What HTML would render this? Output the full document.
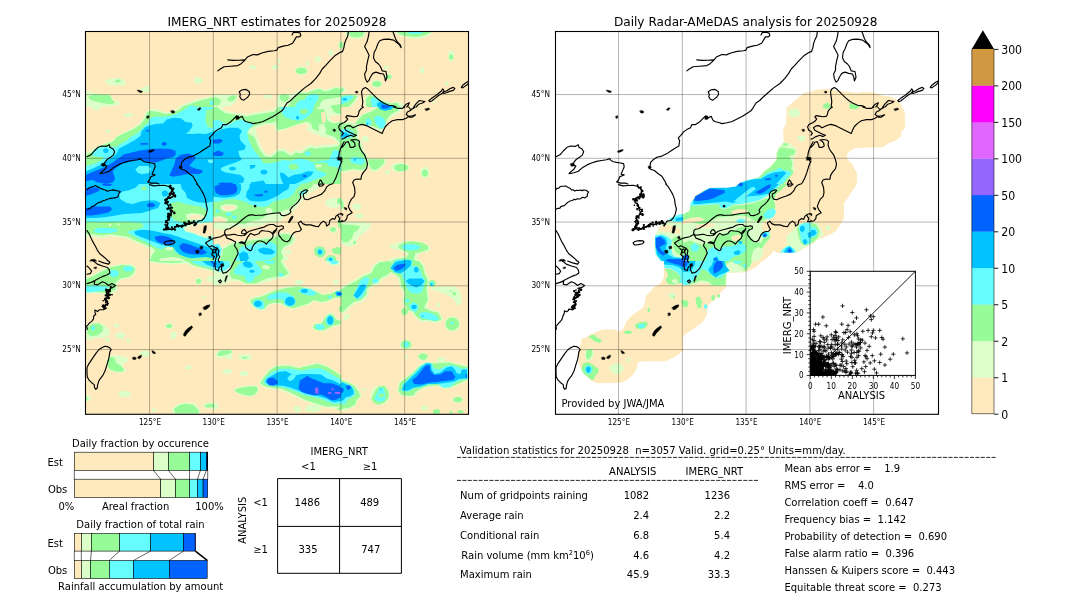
<!DOCTYPE html>
<html lang="en"><head><meta charset="utf-8"><title>IMERG_NRT validation 20250928</title>
<style>
html,body{margin:0;padding:0;background:#fff}
svg{display:block}
text{font-family:"DejaVu Sans", "Liberation Sans", sans-serif;fill:#000}
.grid{stroke:#000;stroke-opacity:.33;stroke-width:.9;fill:none}
.coast{fill:none;stroke:#000;stroke-width:1.15;stroke-linejoin:round;stroke-linecap:round}
.bar{stroke:#000;stroke-width:.6}
.cn{stroke:#000;stroke-width:.6;fill:none}
</style></head><body>
<svg width="1080" height="612" viewBox="0 0 1080 612">
<rect width="1080" height="612" fill="#fff"/>
<clipPath id="clipL"><rect x="85.5" y="31.5" width="383.0" height="382.8"/></clipPath>
<clipPath id="clipR"><rect x="555.5" y="31.5" width="383.0" height="382.8"/></clipPath>
<rect x="85.5" y="31.5" width="383.0" height="382.8" fill="#ffeabd"/>
<g clip-path="url(#clipL)">
<clipPath id="clipLt0"><rect x="85" y="30" width="128" height="77"/></clipPath>
<g clip-path="url(#clipLt0)">
<path fill="#dcfec9" d="M105.1,80.3 110.2,78.4 119.0,77.8 124.0,80.3 126.5,83.5 122.7,85.4 115.2,85.4 108.9,84.7 105.8,82.8ZM202.4,80.6 202.0,82.1 200.8,83.3 199.2,84.0 197.3,84.0 195.6,83.3 194.5,82.1 194.1,80.6 194.5,79.1 195.6,77.8 197.3,77.1 199.2,77.1 200.8,77.8 202.0,79.1ZM140.4,89.1 145.4,86.6 149.5,86.0 149.5,91.7 144.1,91.9 141.0,91.0ZM85.0,90.4 90.0,91.7 97.6,93.5 110.2,94.4 113.9,100.5 120.2,102.3 117.7,105.5 103.9,107.0 85.0,107.0ZM178.1,107.0 185.7,103.0 195.7,99.8 205.8,97.3 213.0,95.4 213.0,107.0Z"/>
<path fill="#97fc97" d="M114.6,81.6 117.1,79.3 120.9,80.1 120.2,81.8 116.5,82.8ZM88.8,96.1 95.1,94.4 110.2,95.2 112.1,99.8 115.2,102.3 111.4,104.2 101.4,103.0 92.5,100.5 88.8,98.6ZM180.6,107.0 189.4,104.2 198.2,101.1 205.8,99.2 213.0,97.3 213.0,107.0Z"/>
<path fill="#64fcff" d="M185.7,107.0 191.9,105.5 197.0,107.0ZM209.6,101.7 213.0,100.5 213.0,105.5 210.2,104.2Z"/>
</g>
<clipPath id="clipLt1"><rect x="213" y="30" width="128" height="77"/></clipPath>
<g clip-path="url(#clipLt1)">
<path fill="#dcfec9" d="M256.4,67.1 256.0,67.9 255.0,68.6 253.5,69.0 251.8,69.0 250.3,68.6 249.2,67.9 248.9,67.1 249.2,66.3 250.3,65.6 251.8,65.3 253.5,65.3 255.0,65.6 256.0,66.3ZM278.4,67.1 278.1,68.2 277.2,69.1 276.0,69.6 274.6,69.6 273.3,69.1 272.4,68.2 272.1,67.1 272.4,66.0 273.3,65.1 274.6,64.7 276.0,64.7 277.2,65.1 278.1,66.0ZM280.9,61.5 280.8,62.3 280.2,62.9 279.5,63.3 278.6,63.3 277.9,62.9 277.4,62.3 277.2,61.5 277.4,60.6 277.9,60.0 278.6,59.6 279.5,59.6 280.2,60.0 280.8,60.6ZM308.2,70.9 307.6,72.8 305.6,74.3 302.9,75.2 299.8,75.2 297.0,74.3 295.1,72.8 294.4,70.9 295.1,69.0 297.0,67.4 299.8,66.6 302.9,66.6 305.6,67.4 307.6,69.0ZM321.2,59.2 320.9,60.4 320.0,61.4 318.8,61.9 317.4,61.9 316.1,61.4 315.2,60.4 314.9,59.2 315.2,58.0 316.1,57.0 317.4,56.5 318.8,56.5 320.0,57.0 320.9,58.0ZM308.9,63.3 308.7,64.7 308.3,65.8 307.7,66.4 307.0,66.4 306.4,65.8 306.0,64.7 305.9,63.3 306.0,62.0 306.4,60.9 307.0,60.3 307.7,60.3 308.3,60.9 308.7,62.0ZM333.7,52.9 333.4,54.1 332.6,55.1 331.5,55.6 330.3,55.6 329.2,55.1 328.4,54.1 328.1,52.9 328.4,51.7 329.2,50.7 330.3,50.2 331.5,50.2 332.6,50.7 333.4,51.7ZM342.6,45.1 342.4,47.0 341.7,48.5 340.8,49.4 339.8,49.4 338.9,48.5 338.3,47.0 338.1,45.1 338.3,43.2 338.9,41.7 339.8,40.8 340.8,40.8 341.7,41.7 342.4,43.2ZM213.0,94.4 237.5,94.2 238.2,97.9 235.6,102.3 231.9,105.5 225.6,107.0 213.0,107.0ZM272.5,96.7 272.0,97.6 270.7,98.3 268.8,98.6 266.7,98.6 264.7,98.3 263.4,97.6 262.9,96.7 263.4,95.8 264.7,95.1 266.7,94.7 268.8,94.7 270.7,95.1 272.0,95.8ZM277.8,94.2 291.0,93.5 293.5,95.4 288.5,103.0 283.5,107.0 275.9,107.0 276.5,100.5ZM283.5,107.0 289.7,100.5 293.5,92.9 298.6,90.4 306.1,91.7 313.7,88.5 319.9,87.9 326.2,89.8 332.5,87.2 338.8,86.6 341.0,87.9 341.0,107.0Z"/>
<path fill="#97fc97" d="M307.0,70.9 306.4,72.3 304.9,73.3 302.6,74.0 300.1,74.0 297.8,73.3 296.2,72.3 295.7,70.9 296.2,69.5 297.8,68.4 300.1,67.8 302.6,67.8 304.9,68.4 306.4,69.5ZM341.8,45.1 341.7,46.5 341.4,47.7 340.9,48.3 340.3,48.3 339.8,47.7 339.4,46.5 339.3,45.1 339.4,43.7 339.8,42.5 340.3,41.9 340.9,41.9 341.4,42.5 341.7,43.7ZM213.0,97.3 218.0,97.9 221.2,100.5 219.3,104.9 213.0,105.5ZM227.5,97.9 231.9,95.2 236.3,96.1 235.6,99.2 230.6,101.5 227.8,100.2ZM279.7,95.4 283.5,94.2 288.5,94.8 289.1,98.6 286.0,101.7 281.6,101.1 279.7,98.6ZM287.2,107.0 293.5,97.9 299.8,92.9 306.1,92.9 313.7,90.4 319.9,89.1 325.0,91.7 330.0,90.4 333.8,88.5 338.8,88.1 341.0,90.4 341.0,96.7 333.8,97.9 326.2,99.2 322.5,100.5 319.9,104.2 319.9,107.0ZM330.0,107.0 332.5,104.9 341.0,104.2 341.0,107.0Z"/>
<path fill="#64fcff" d="M294.8,107.0 296.7,103.0 299.8,100.5 304.8,99.8 306.7,96.1 312.4,94.2 318.1,94.8 318.7,98.6 315.5,103.0 313.7,107.0Z"/>
<path fill="#00c3ff" d="M310.8,99.2 310.7,99.5 310.5,99.7 310.3,99.8 310.0,99.8 309.7,99.7 309.6,99.5 309.5,99.2 309.6,98.9 309.7,98.7 310.0,98.6 310.3,98.6 310.5,98.7 310.7,98.9Z"/>
</g>
<clipPath id="clipLt2"><rect x="341" y="30" width="128" height="77"/></clipPath>
<g clip-path="url(#clipLt2)">
<path fill="#dcfec9" d="M344.8,31.9 366.2,31.9 364.3,36.9 358.6,39.1 351.1,38.2 346.0,35.7ZM393.8,31.9 432.8,31.9 427.8,36.3 419.0,38.6 408.9,38.2 400.1,35.7ZM454.2,55.8 453.9,58.2 453.1,60.2 451.8,61.3 450.4,61.3 449.1,60.2 448.3,58.2 447.9,55.8 448.3,53.3 449.1,51.4 450.4,50.3 451.8,50.3 453.1,51.4 453.9,53.3ZM424.4,70.3 424.2,71.5 423.6,72.4 422.7,73.0 421.6,73.0 420.7,72.4 420.1,71.5 419.9,70.3 420.1,69.1 420.7,68.1 421.6,67.6 422.7,67.6 423.6,68.1 424.2,69.1ZM392.6,76.6 392.1,77.9 390.9,79.0 389.2,79.6 387.2,79.6 385.4,79.0 384.2,77.9 383.8,76.6 384.2,75.2 385.4,74.1 387.2,73.5 389.2,73.5 390.9,74.1 392.1,75.2ZM388.8,67.5 388.6,68.3 387.9,68.9 386.9,69.2 385.7,69.2 384.7,68.9 384.0,68.3 383.8,67.5 384.0,66.7 384.7,66.1 385.7,65.8 386.9,65.8 387.9,66.1 388.6,66.7ZM382.5,83.9 382.0,85.6 380.4,87.0 378.1,87.8 375.6,87.8 373.3,87.0 371.8,85.6 371.2,83.9 371.8,82.1 373.3,80.7 375.6,79.9 378.1,79.9 380.4,80.7 382.0,82.1ZM449.0,83.5 448.7,84.2 448.1,84.8 447.2,85.2 446.2,85.2 445.3,84.8 444.6,84.2 444.4,83.5 444.6,82.7 445.3,82.1 446.2,81.8 447.2,81.8 448.1,82.1 448.7,82.7ZM345.5,89.8 345.2,91.1 344.2,92.1 342.8,92.7 341.2,92.7 339.8,92.1 338.8,91.1 338.5,89.8 338.8,88.5 339.8,87.4 341.2,86.8 342.8,86.8 344.2,87.4 345.2,88.5ZM341.0,94.2 352.3,93.5 358.6,95.4 357.4,100.5 351.1,107.0 341.0,107.0ZM364.3,97.9 368.1,94.2 373.7,94.8 382.5,99.8 391.3,103.0 400.1,101.7 403.9,105.5 403.9,107.0 364.9,107.0ZM435.9,102.0 435.7,102.6 435.3,103.1 434.7,103.4 434.0,103.4 433.4,103.1 433.0,102.6 432.8,102.0 433.0,101.3 433.4,100.8 434.0,100.5 434.7,100.5 435.3,100.8 435.7,101.3Z"/>
<path fill="#97fc97" d="M347.3,31.9 364.3,31.9 362.4,36.3 357.4,37.5 351.1,36.5ZM341.0,42.0 343.5,42.6 342.9,47.6 341.0,48.9ZM397.0,31.9 431.0,31.9 425.3,35.3 416.5,36.9 407.7,36.3 400.1,34.4ZM453.4,57.1 453.1,58.3 452.5,59.2 451.6,59.7 450.6,59.7 449.7,59.2 449.1,58.3 448.8,57.1 449.1,55.8 449.7,54.9 450.6,54.4 451.6,54.4 452.5,54.9 453.1,55.8ZM391.6,76.8 391.3,77.7 390.5,78.5 389.4,78.9 388.2,78.9 387.1,78.5 386.3,77.7 386.0,76.8 386.3,75.9 387.1,75.1 388.2,74.7 389.4,74.7 390.5,75.1 391.3,75.9ZM381.4,83.9 380.9,85.2 379.7,86.2 377.9,86.8 375.9,86.8 374.0,86.2 372.8,85.2 372.3,83.9 372.8,82.5 374.0,81.5 375.9,80.9 377.9,80.9 379.7,81.5 380.9,82.5ZM343.9,89.8 343.7,90.6 343.0,91.3 342.1,91.7 341.1,91.7 340.2,91.3 339.6,90.6 339.4,89.8 339.6,88.9 340.2,88.2 341.1,87.8 342.1,87.8 343.0,88.2 343.7,88.9ZM341.0,95.4 351.1,94.4 357.4,96.1 354.8,100.5 348.5,107.0 341.0,107.0ZM366.2,98.6 369.3,95.4 373.7,96.1 381.3,100.5 390.1,103.6 397.6,102.7 400.1,107.0 366.2,107.0Z"/>
<path fill="#64fcff" d="M406.4,31.9 424.0,31.9 420.3,33.5 412.7,34.0 408.3,33.1ZM341.0,97.3 347.3,95.4 353.6,95.7 352.3,98.6 347.3,102.3 341.0,104.2ZM370.6,100.5 372.5,96.7 377.5,99.2 383.8,103.0 391.3,104.9 395.1,107.0 372.5,107.0Z"/>
<path fill="#00c3ff" d="M347.0,99.2 346.8,99.7 346.2,100.2 345.3,100.4 344.3,100.4 343.4,100.2 342.7,99.7 342.5,99.2 342.7,98.7 343.4,98.2 344.3,98.0 345.3,98.0 346.2,98.2 346.8,98.7ZM377.5,107.0 376.9,103.6 380.0,101.7 385.0,104.2 391.3,105.5 395.1,107.0Z"/>
<path fill="#0063ff" d="M381.3,107.0 381.9,104.2 385.0,104.9 389.4,106.1 391.3,107.0Z"/>
</g>
<clipPath id="clipLt3"><rect x="85" y="107" width="128" height="77"/></clipPath>
<g clip-path="url(#clipLt3)">
<path fill="#dcfec9" d="M85.0,153.6 90.0,151.0 96.3,146.6 103.9,143.5 110.2,141.0 116.5,136.6 122.7,132.8 131.6,128.4 139.1,123.4 144.1,117.1 145.4,112.0 149.2,109.5 155.5,108.9 160.5,110.8 166.8,112.7 173.1,110.8 180.6,107.0 213.0,107.0 213.0,184.0 85.0,184.0ZM100.7,108.5 100.3,109.3 99.1,110.0 97.3,110.3 95.3,110.3 93.6,110.0 92.4,109.3 91.9,108.5 92.4,107.7 93.6,107.0 95.3,106.7 97.3,106.7 99.1,107.0 100.3,107.7ZM133.4,115.2 132.9,116.0 131.5,116.7 129.5,117.0 127.3,117.0 125.3,116.7 123.9,116.0 123.4,115.2 123.9,114.4 125.3,113.7 127.3,113.3 129.5,113.3 131.5,113.7 132.9,114.4ZM110.8,130.9 110.5,131.6 109.8,132.1 108.8,132.4 107.7,132.4 106.7,132.1 106.0,131.6 105.8,130.9 106.0,130.3 106.7,129.7 107.7,129.4 108.8,129.4 109.8,129.7 110.5,130.3Z"/>
<path fill="#97fc97" d="M85.0,155.4 91.3,152.3 97.6,147.3 106.4,144.1 113.9,141.0 116.5,137.2 122.7,134.1 132.8,129.6 140.4,124.6 145.4,118.3 146.7,113.3 150.4,110.8 158.0,112.0 165.5,113.9 173.1,112.7 178.1,110.1 183.1,107.0 213.0,107.0 213.0,184.0 85.0,184.0Z"/>
<path fill="#64fcff" d="M85.0,166.8 92.5,164.2 101.4,160.5 103.9,157.3 97.6,156.7 92.5,155.4 91.3,153.6 96.3,149.1 101.4,147.0 110.2,146.6 116.5,147.3 119.0,144.7 126.5,141.0 130.3,137.2 136.6,134.1 141.6,129.6 144.1,125.9 147.9,123.4 150.4,118.3 155.5,116.4 163.0,117.1 170.6,115.8 178.1,113.3 184.4,109.5 189.4,107.0 213.0,107.0 213.0,184.0 85.0,184.0Z"/>
<path fill="#00c3ff" d="M85.0,171.8 92.5,168.7 100.1,164.9 106.4,161.1 112.7,157.3 116.5,153.6 119.0,148.5 126.5,144.7 135.3,139.7 140.4,135.9 141.6,130.9 145.4,127.1 150.4,125.2 155.5,124.0 163.0,123.4 166.8,119.6 173.1,117.7 180.6,118.3 185.7,122.1 191.9,122.7 192.6,125.9 189.4,130.9 185.7,133.4 191.9,134.1 198.2,133.4 205.8,134.1 213.0,131.5 213.0,184.0 85.0,184.0ZM108.5,150.8 108.3,151.8 107.5,152.6 106.4,153.0 105.1,153.0 104.0,152.6 103.3,151.8 103.0,150.8 103.3,149.8 104.0,149.0 105.1,148.6 106.4,148.6 107.5,149.0 108.3,149.8Z"/>
<path fill="#0063ff" d="M85.0,175.6 91.3,172.4 97.6,169.9 103.9,167.4 112.7,162.4 120.2,157.3 124.0,154.2 132.8,152.3 140.4,150.4 150.4,149.1 160.5,148.5 170.6,149.1 175.6,151.0 175.6,154.8 173.1,157.3 166.8,158.6 160.5,161.1 155.5,162.4 147.9,161.7 140.4,159.8 132.8,161.1 122.7,163.6 116.5,167.4 112.7,171.2 113.9,174.9 115.2,178.7 112.7,182.5 106.4,184.0 97.6,182.5 92.5,180.0 85.0,181.2ZM175.6,158.6 180.6,154.8 188.2,153.6 194.5,155.4 195.7,158.6 191.9,162.4 189.4,166.1 195.7,168.7 202.0,169.9 202.6,172.4 198.2,174.3 189.4,173.7 180.6,175.6 173.1,176.8 169.3,175.6 171.8,169.9 174.3,164.9ZM140.4,142.9 147.9,142.9 147.9,144.7 140.4,144.7ZM166.8,143.9 166.5,144.7 165.8,145.3 164.8,145.7 163.7,145.7 162.7,145.3 162.0,144.7 161.7,143.9 162.0,143.0 162.7,142.4 163.7,142.0 164.8,142.0 165.8,142.4 166.5,143.0ZM149.2,130.7 149.0,131.1 148.6,131.4 148.0,131.6 147.3,131.6 146.7,131.4 146.3,131.1 146.1,130.7 146.3,130.2 146.7,129.9 147.3,129.7 148.0,129.7 148.6,129.9 149.0,130.2Z"/>
<path fill="#97fc97" d="M206.4,110.1 213.0,108.9 213.0,128.4 207.7,127.1 205.2,120.8 205.8,114.5Z"/>
<path fill="#64fcff" d="M135.3,169.3 139.1,166.1 147.9,165.9 151.1,168.7 149.2,173.1 141.6,174.3 137.2,172.4ZM207.7,159.8 213.0,159.6 213.0,163.0 208.9,163.0Z"/>
</g>
<clipPath id="clipLt4"><rect x="213" y="107" width="128" height="77"/></clipPath>
<g clip-path="url(#clipLt4)">
<path fill="#97fc97" d="M213.0,107.0 341.0,107.0 341.0,184.0 213.0,184.0Z"/>
<path fill="#dcfec9" d="M216.8,107.0 278.4,107.0 274.7,111.4 264.6,113.3 254.5,114.8 247.0,116.4 238.2,115.2 231.9,114.3 224.3,112.7Z"/>
<path fill="#ffeabd" d="M220.5,107.0 275.9,107.0 272.1,109.8 263.3,111.2 254.5,112.4 247.0,114.3 238.2,113.0 231.9,112.3 225.6,110.5Z"/>
<path fill="#dcfec9" d="M247.0,132.2 250.7,127.8 257.0,125.2 265.8,122.7 272.1,122.7 275.9,120.8 277.2,129.6 283.5,129.0 291.0,126.5 298.6,124.0 306.1,121.5 311.1,123.4 312.4,128.4 317.4,130.9 326.2,134.1 335.0,137.2 340.1,142.2 338.8,146.0 331.3,147.3 323.7,147.5 316.2,148.8 311.1,147.5 306.1,149.8 302.3,153.6 296.0,152.5 291.0,156.1 287.2,153.8 283.5,151.3 278.4,151.3 275.3,153.8 270.9,157.3 264.6,156.1 260.2,150.4 257.0,143.5 254.5,137.2Z"/>
<path fill="#ffeabd" d="M255.8,128.4 262.1,125.9 268.4,124.6 274.7,125.9 275.9,132.2 280.9,130.9 288.5,128.4 294.8,125.9 301.1,124.6 306.1,123.4 308.6,125.9 306.1,129.6 311.1,132.2 317.4,134.7 326.2,137.2 333.8,139.7 337.6,143.5 331.3,144.7 323.7,144.7 316.2,146.0 309.9,144.7 304.8,147.3 301.1,151.0 294.8,149.8 291.0,153.6 287.2,151.0 283.5,148.5 278.4,148.5 274.7,151.0 270.9,154.8 265.8,153.6 262.1,148.5 259.6,142.2 257.0,135.9Z"/>
<path fill="#dcfec9" d="M317.4,109.5 323.7,108.9 326.2,114.5 327.5,120.8 333.8,123.4 341.0,122.1 341.0,114.5 333.8,112.0 331.3,107.0 317.4,107.0Z"/>
<path fill="#ffeabd" d="M321.2,112.0 325.0,112.0 326.2,118.3 325.0,123.4 321.8,122.1ZM329.4,115.8 341.0,115.2 341.0,121.5 333.8,122.1 330.0,119.6Z"/>
<path fill="#dcfec9" d="M318.7,124.6 323.7,123.4 326.2,129.6 325.0,135.9 321.2,137.2 318.7,132.2Z"/>
<path fill="#64fcff" d="M213.0,120.8 218.0,119.6 223.1,122.7 229.4,124.6 235.6,120.8 241.9,119.6 248.2,122.1 254.5,123.4 249.5,128.4 247.0,132.2 248.2,138.5 250.7,144.7 254.5,151.0 259.6,157.3 263.3,161.1 268.4,163.6 275.9,162.4 283.5,159.8 291.0,161.1 298.6,158.6 306.1,159.8 313.7,162.4 321.2,161.1 328.8,159.8 331.3,154.8 333.8,149.8 338.8,151.0 341.0,157.3 341.0,169.9 333.8,172.4 326.2,174.9 321.2,177.5 313.7,180.0 308.6,182.5 301.1,184.0 213.0,184.0Z"/>
<path fill="#97fc97" d="M260.8,158.8 269.6,158.6 270.2,163.0 263.3,163.6ZM298.6,166.8 298.1,168.1 296.7,169.2 294.6,169.8 292.4,169.8 290.4,169.2 289.0,168.1 288.5,166.8 289.0,165.4 290.4,164.3 292.4,163.7 294.6,163.7 296.7,164.3 298.1,165.4ZM313.7,163.0 326.2,162.4 328.8,166.1 338.8,167.4 338.8,177.5 331.3,177.5 323.7,172.4 316.2,169.9Z"/>
<path fill="#dcfec9" d="M315.5,165.1 321.2,164.6 321.8,167.1 316.2,167.6Z"/>
<path fill="#64fcff" d="M280.9,107.0 313.7,107.0 312.4,112.0 308.6,115.8 303.6,119.6 298.6,120.8 291.0,119.6 284.7,117.1 281.6,112.0Z"/>
<path fill="#97fc97" d="M299.8,109.5 306.1,108.3 308.6,112.0 303.6,114.5 299.8,113.3Z"/>
<path fill="#00c3ff" d="M299.1,117.7 298.9,118.5 298.5,119.1 297.9,119.4 297.2,119.4 296.6,119.1 296.2,118.5 296.0,117.7 296.2,116.9 296.6,116.3 297.2,116.0 297.9,116.0 298.5,116.3 298.9,116.9Z"/>
<path fill="#64fcff" d="M304.8,152.3 308.6,151.0 311.1,153.6 308.6,156.1 305.5,155.4Z"/>
<path fill="#00c3ff" d="M213.0,133.4 220.5,129.6 229.4,127.8 238.2,127.8 241.9,130.9 239.4,135.9 240.7,141.0 245.7,146.0 244.5,149.8 238.2,151.0 239.4,156.1 241.9,159.8 235.6,162.4 228.1,164.9 221.8,167.4 220.5,169.9 225.6,172.4 233.1,173.7 240.7,174.9 244.5,178.7 243.2,182.5 238.2,184.0 213.0,184.0Z"/>
<path fill="#64fcff" d="M220.5,169.3 226.8,166.1 231.9,166.1 238.2,167.4 241.9,169.9 239.4,173.1 231.9,172.4 224.3,171.8Z"/>
<path fill="#00c3ff" d="M236.0,168.7 235.7,169.5 234.7,170.1 233.3,170.5 231.7,170.5 230.3,170.1 229.3,169.5 229.0,168.7 229.3,167.8 230.3,167.2 231.7,166.8 233.3,166.8 234.7,167.2 235.7,167.8ZM249.5,165.1 255.8,165.1 254.5,167.4 250.7,169.3ZM267.5,172.2 267.1,173.3 266.2,174.1 264.7,174.6 263.2,174.6 261.8,174.1 260.8,173.3 260.4,172.2 260.8,171.1 261.8,170.2 263.2,169.7 264.7,169.7 266.2,170.2 267.1,171.1ZM279.7,172.4 283.5,173.1 288.5,177.5 293.5,174.9 301.1,173.7 307.4,171.2 313.7,171.8 311.1,175.6 306.1,178.7 301.1,181.2 294.8,184.0 283.5,184.0 280.9,178.7ZM250.7,182.5 263.3,180.6 265.8,184.0 250.7,184.0Z"/>
<path fill="#0063ff" d="M213.0,139.7 220.5,139.1 223.1,141.0 219.3,143.5 213.0,143.5ZM213.0,152.9 218.0,150.4 224.3,152.9 221.8,156.1 215.5,156.1 213.0,155.4ZM306.5,175.9 306.3,176.4 305.8,176.7 305.0,176.9 304.2,176.9 303.4,176.7 302.9,176.4 302.7,175.9 302.9,175.5 303.4,175.2 304.2,175.0 305.0,175.0 305.8,175.2 306.3,175.5ZM218.0,184.0 220.5,182.5 231.9,182.7 233.8,184.0Z"/>
</g>
<clipPath id="clipLt5"><rect x="341" y="107" width="128" height="77"/></clipPath>
<g clip-path="url(#clipLt5)">
<path fill="#dcfec9" d="M353.6,124.6 361.1,114.5 369.9,110.8 377.5,107.0 403.9,107.0 400.1,112.0 393.8,115.8 388.8,119.6 385.0,125.9 381.3,130.9 376.2,129.6 368.7,125.9 361.1,125.9 356.1,128.4Z"/>
<path fill="#97fc97" d="M354.8,124.0 362.4,115.2 371.2,111.4 378.7,107.0 401.4,107.0 396.4,111.4 391.3,113.9 387.6,118.3 385.0,124.6 381.3,129.6 375.0,127.1 367.4,124.6 359.9,124.6Z"/>
<path fill="#64fcff" d="M374.3,117.1 378.7,115.8 383.8,118.3 385.7,123.4 383.8,127.8 381.3,129.0 377.5,125.9 375.0,122.1ZM365.5,119.6 369.3,118.3 371.8,122.1 369.9,125.9 366.2,124.6Z"/>
<path fill="#00c3ff" d="M378.7,107.0 393.8,107.0 391.3,109.5 385.0,110.8 380.0,109.5Z"/>
<path fill="#0063ff" d="M388.8,107.4 388.4,107.8 387.4,108.2 385.9,108.4 384.2,108.4 382.7,108.2 381.6,107.8 381.3,107.4 381.6,106.9 382.7,106.6 384.2,106.4 385.9,106.4 387.4,106.6 388.4,106.9Z"/>
<path fill="#00c3ff" d="M368.4,124.0 368.3,124.4 368.0,124.8 367.6,125.0 367.2,125.0 366.8,124.8 366.5,124.4 366.4,124.0 366.5,123.5 366.8,123.2 367.2,123.0 367.6,123.0 368.0,123.2 368.3,123.5Z"/>
<path fill="#dcfec9" d="M341.0,122.1 349.8,121.5 356.7,125.2 359.2,132.2 358.0,137.2 361.8,142.2 364.3,151.0 368.1,157.3 369.3,163.6 366.2,170.5 359.9,171.8 353.6,170.5 347.3,171.8 341.0,173.1Z"/>
<path fill="#97fc97" d="M341.0,124.6 348.5,123.4 354.8,125.9 357.4,132.2 356.1,137.2 359.9,142.2 362.4,151.0 366.2,157.3 367.4,163.6 364.9,168.7 359.9,169.9 353.6,168.7 347.3,169.9 341.0,171.2Z"/>
<path fill="#64fcff" d="M341.0,129.6 347.3,128.4 353.6,132.2 354.8,135.9 349.8,137.8 344.8,139.1 341.0,139.7Z"/>
<path fill="#00c3ff" d="M341.0,132.2 346.0,132.2 349.8,135.3 346.0,137.2 341.0,137.8Z"/>
<path fill="#64fcff" d="M349.8,158.6 354.8,156.7 363.6,158.0 364.9,162.4 361.1,164.9 354.8,163.6 351.1,162.4Z"/>
<path fill="#00c3ff" d="M356.1,159.8 356.0,160.3 355.6,160.6 355.1,160.8 354.6,160.8 354.1,160.6 353.7,160.3 353.6,159.8 353.7,159.4 354.1,159.1 354.6,158.9 355.1,158.9 355.6,159.1 356.0,159.4Z"/>
<path fill="#dcfec9" d="M369.3,139.1 368.9,140.4 367.9,141.5 366.4,142.2 364.7,142.2 363.2,141.5 362.1,140.4 361.8,139.1 362.1,137.7 363.2,136.6 364.7,136.0 366.4,136.0 367.9,136.6 368.9,137.7ZM366.2,158.6 385.0,158.6 386.3,162.4 382.5,167.4 376.2,171.8 371.2,171.2 368.1,166.1Z"/>
<path fill="#97fc97" d="M368.1,159.2 383.8,159.2 384.4,162.4 381.3,166.1 375.6,169.9 371.8,169.3 369.3,164.9Z"/>
<path fill="#dcfec9" d="M409.6,167.4 408.6,169.6 406.0,171.3 402.2,172.3 398.0,172.3 394.3,171.3 391.6,169.6 390.7,167.4 391.6,165.2 394.3,163.5 398.0,162.5 402.2,162.5 406.0,163.5 408.6,165.2Z"/>
<path fill="#97fc97" d="M408.4,167.6 407.7,169.3 405.7,170.6 402.8,171.3 399.5,171.3 396.6,170.6 394.6,169.3 393.8,167.6 394.6,166.0 396.6,164.7 399.5,164.0 402.8,164.0 405.7,164.7 407.7,166.0Z"/>
<path fill="#dcfec9" d="M390.1,172.2 389.8,173.2 389.1,173.9 388.1,174.4 387.0,174.4 386.0,173.9 385.3,173.2 385.0,172.2 385.3,171.2 386.0,170.4 387.0,170.0 388.1,170.0 389.1,170.4 389.8,171.2ZM429.3,172.4 428.9,174.9 427.7,176.9 425.9,177.9 423.9,177.9 422.2,176.9 421.0,174.9 420.5,172.4 421.0,170.0 422.2,168.0 423.9,166.9 425.9,166.9 427.7,168.0 428.9,170.0Z"/>
<path fill="#97fc97" d="M428.1,173.1 427.8,174.7 426.9,176.0 425.6,176.7 424.2,176.7 423.0,176.0 422.1,174.7 421.8,173.1 422.1,171.4 423.0,170.1 424.2,169.4 425.6,169.4 426.9,170.1 427.8,171.4Z"/>
</g>
<clipPath id="clipLt6"><rect x="85" y="184" width="128" height="77"/></clipPath>
<g clip-path="url(#clipLt6)">
<path fill="#64fcff" d="M85.0,184.0 213.0,184.0 213.0,261.0 85.0,261.0Z"/>
<path fill="#97fc97" d="M85.0,221.7 97.6,222.0 110.2,221.7 126.5,221.7 141.6,223.0 144.1,226.8 137.8,229.3 131.6,230.6 126.5,231.8 132.8,235.6 140.4,239.4 147.9,243.1 155.5,246.9 160.5,249.4 166.8,246.9 173.1,246.9 175.6,249.4 173.1,253.2 166.8,255.7 160.5,257.0 158.0,261.0 85.0,261.0Z"/>
<path fill="#dcfec9" d="M85.0,233.7 92.5,234.3 101.4,235.6 110.2,234.3 120.2,235.6 127.8,236.8 135.3,240.6 141.6,243.1 147.9,245.7 152.9,248.2 155.5,250.7 151.7,255.7 149.8,261.0 85.0,261.0Z"/>
<path fill="#ffeabd" d="M85.0,238.1 92.5,236.8 101.4,238.1 110.2,236.2 120.2,237.5 127.8,238.7 135.3,242.5 141.6,245.0 147.9,248.2 151.7,250.7 149.8,254.5 148.5,261.0 85.0,261.0Z"/>
<path fill="#64fcff" d="M93.8,230.6 97.6,228.0 107.6,228.0 116.5,228.7 117.7,231.2 110.2,233.1 100.1,233.1 95.1,232.4Z"/>
<path fill="#dcfec9" d="M111.7,224.9 111.5,225.4 111.1,225.9 110.5,226.1 109.8,226.1 109.2,225.9 108.8,225.4 108.7,224.9 108.8,224.3 109.2,223.9 109.8,223.7 110.5,223.7 111.1,223.9 111.5,224.3ZM119.6,224.5 119.5,225.1 119.1,225.5 118.6,225.7 118.1,225.7 117.6,225.5 117.2,225.1 117.1,224.5 117.2,224.0 117.6,223.5 118.1,223.3 118.6,223.3 119.1,223.5 119.5,224.0ZM173.1,248.8 172.7,249.6 171.7,250.3 170.1,250.6 168.5,250.6 166.9,250.3 165.9,249.6 165.5,248.8 165.9,248.0 166.9,247.3 168.5,247.0 170.1,247.0 171.7,247.3 172.7,248.0Z"/>
<path fill="#97fc97" d="M170.6,202.9 178.1,201.6 185.7,204.1 193.2,205.4 200.8,206.6 205.8,209.2 207.0,214.2 203.3,219.2 198.2,220.5 191.9,221.7 185.7,223.0 179.4,221.7 173.1,219.2 170.6,215.5 171.8,209.2Z"/>
<path fill="#dcfec9" d="M185.7,214.2 193.2,212.9 202.0,214.2 204.5,216.7 200.8,219.9 193.2,220.5 186.9,219.2Z"/>
<path fill="#ffeabd" d="M189.4,215.5 198.2,214.8 202.0,217.0 198.2,219.2 190.7,219.0Z"/>
<path fill="#97fc97" d="M147.3,188.4 147.0,189.2 146.1,189.9 144.8,190.2 143.4,190.2 142.2,189.9 141.3,189.2 141.0,188.4 141.3,187.6 142.2,186.9 143.4,186.6 144.8,186.6 146.1,186.9 147.0,187.6Z"/>
<path fill="#dcfec9" d="M183.1,228.0 189.4,224.3 198.2,223.0 213.0,221.7 213.0,236.8 205.8,238.1 198.2,235.6 191.9,233.1 185.7,231.8Z"/>
<path fill="#ffeabd" d="M185.7,228.7 191.9,225.5 200.8,224.3 213.0,223.0 213.0,234.3 205.8,236.2 198.2,234.3 191.9,231.8Z"/>
<path fill="#97fc97" d="M204.5,261.0 207.0,255.7 213.0,254.5 213.0,261.0Z"/>
<path fill="#00c3ff" d="M85.0,184.0 139.1,184.0 135.3,187.8 129.0,190.3 122.7,191.5 119.0,194.1 120.2,199.1 126.5,202.9 132.8,204.1 140.4,201.6 147.9,200.4 155.5,200.4 160.5,202.9 158.0,207.9 150.4,210.4 141.6,212.9 132.8,213.6 122.7,214.2 112.7,216.1 103.9,217.3 95.1,218.0 85.0,218.0ZM180.6,184.0 213.0,184.0 213.0,201.6 205.8,202.9 198.2,202.2 191.9,200.4 186.9,197.8 185.7,192.8 181.9,189.0ZM168.0,193.4 167.7,194.8 166.9,195.9 165.6,196.5 164.2,196.5 162.9,195.9 162.1,194.8 161.7,193.4 162.1,192.1 162.9,191.0 164.2,190.4 165.6,190.4 166.9,191.0 167.7,192.1Z"/>
<path fill="#97fc97" d="M155.5,254.5 166.8,255.7 175.6,251.9 180.6,255.1 191.9,258.5 205.8,257.6 213.0,258.9 213.0,261.0 152.9,261.0Z"/>
<path fill="#dcfec9" d="M160.5,258.2 173.1,257.0 180.6,258.2 185.7,261.0 159.2,261.0Z"/>
<path fill="#00c3ff" d="M134.1,231.8 139.1,229.9 147.9,229.9 155.5,231.2 163.0,233.1 170.6,234.3 178.1,236.8 185.7,239.4 193.2,241.9 200.8,244.4 208.3,246.9 213.0,249.4 213.0,258.2 205.8,257.0 198.2,257.6 191.9,258.2 185.7,257.0 179.4,254.5 175.6,250.7 173.1,246.9 166.8,245.7 160.5,244.4 154.2,241.9 147.9,239.4 140.4,236.8 135.3,234.3Z"/>
<path fill="#0063ff" d="M85.0,189.0 90.0,187.1 97.6,187.8 100.1,190.3 95.1,192.8 90.0,194.7 85.0,196.0ZM101.4,184.0 112.7,184.0 110.2,185.9 103.9,185.9ZM85.0,208.5 92.5,206.6 101.4,206.4 110.2,206.6 112.1,209.2 108.9,212.3 100.1,214.2 91.3,215.5 85.0,215.5ZM155.1,205.1 154.7,206.1 153.6,206.9 152.0,207.3 150.2,207.3 148.5,206.9 147.4,206.1 147.0,205.1 147.4,204.2 148.5,203.4 150.2,202.9 152.0,202.9 153.6,203.4 154.7,204.2ZM154.8,236.8 160.5,235.6 168.0,236.8 173.1,239.4 173.7,242.5 170.6,244.4 164.3,244.4 158.0,241.9 155.5,239.4ZM179.4,245.7 183.1,243.1 189.4,244.4 195.7,246.9 203.3,249.4 207.0,252.6 203.3,254.5 195.7,254.5 188.2,253.8 183.1,251.9 180.0,248.8Z"/>
</g>
<clipPath id="clipLt7"><rect x="213" y="184" width="128" height="77"/></clipPath>
<g clip-path="url(#clipLt7)">
<path fill="#dcfec9" d="M213.0,184.0 321.2,184.0 317.4,189.0 312.4,191.5 307.4,195.3 301.1,201.6 296.0,207.9 291.0,212.9 286.0,215.5 280.9,220.5 275.9,223.0 265.8,223.0 260.8,225.5 250.7,226.8 243.2,228.0 235.6,226.8 229.4,228.0 224.3,230.6 218.0,229.3 213.0,228.0Z"/>
<path fill="#97fc97" d="M213.0,200.4 213.0,184.0 313.7,184.0 311.1,187.8 306.1,190.3 301.1,196.0 297.3,201.0 292.3,206.0 288.5,209.2 282.2,211.1 275.9,212.9 268.4,213.6 264.6,216.7 260.8,219.2 254.5,220.5 249.5,221.7 244.5,224.3 238.2,223.6 231.9,222.4 225.6,223.0 220.5,221.7 213.0,221.7Z"/>
<path fill="#dcfec9" d="M220.5,205.4 226.8,204.1 235.6,204.8 238.2,207.3 234.4,210.4 228.1,211.7 223.1,211.1 220.5,208.5Z"/>
<path fill="#ffeabd" d="M223.1,206.6 229.4,205.4 235.6,206.0 234.4,209.2 228.1,210.4 224.3,209.8Z"/>
<path fill="#dcfec9" d="M213.0,216.7 220.5,216.1 228.1,219.2 226.8,222.4 213.0,223.0Z"/>
<path fill="#ffeabd" d="M213.0,218.0 220.5,217.3 226.8,219.9 225.6,221.7 213.0,222.4Z"/>
<path fill="#dcfec9" d="M272.8,210.7 272.4,211.9 271.3,212.8 269.8,213.4 268.1,213.4 266.6,212.8 265.6,211.9 265.2,210.7 265.6,209.5 266.6,208.5 268.1,208.0 269.8,208.0 271.3,208.5 272.4,209.5Z"/>
<path fill="#64fcff" d="M213.0,184.0 301.1,184.0 296.0,189.0 293.5,194.1 288.5,197.8 283.5,199.1 278.4,200.4 273.4,201.6 268.4,205.4 263.3,207.3 257.0,206.6 250.7,204.8 245.7,202.2 240.7,200.4 233.1,199.1 225.6,199.7 218.0,201.6 213.0,202.2ZM231.5,214.2 231.2,215.0 230.5,215.7 229.3,216.0 228.1,216.0 227.0,215.7 226.2,215.0 226.0,214.2 226.2,213.4 227.0,212.7 228.1,212.4 229.3,212.4 230.5,212.7 231.2,213.4ZM236.9,217.3 236.7,218.1 236.0,218.7 234.9,219.1 233.8,219.1 232.8,218.7 232.1,218.1 231.9,217.3 232.1,216.6 232.8,216.0 233.8,215.6 234.9,215.6 236.0,216.0 236.7,216.6ZM219.3,211.1 219.1,211.9 218.6,212.5 217.8,212.9 217.0,212.9 216.2,212.5 215.7,211.9 215.5,211.1 215.7,210.2 216.2,209.6 217.0,209.2 217.8,209.2 218.6,209.6 219.1,210.2ZM298.6,193.4 301.1,190.9 306.7,189.7 306.1,192.2 302.3,194.7 299.8,195.3Z"/>
<path fill="#00c3ff" d="M213.0,184.0 240.7,184.0 241.3,189.0 239.4,194.1 234.4,196.6 225.6,197.8 218.0,197.2 213.0,196.6ZM249.5,184.0 289.7,184.0 288.5,189.0 283.5,191.5 278.4,195.3 273.4,197.8 267.1,200.4 260.8,201.6 254.5,201.6 249.5,200.4 245.7,196.6 247.0,191.5 249.5,187.8Z"/>
<path fill="#0063ff" d="M214.3,186.5 220.5,184.0 235.6,184.0 237.5,189.0 235.6,193.4 228.1,195.3 220.5,195.3 215.5,192.8ZM253.3,194.7 262.1,194.1 263.3,196.0 257.0,196.6ZM267.7,191.8 267.5,192.2 267.0,192.6 266.3,192.8 265.4,192.8 264.7,192.6 264.1,192.2 264.0,191.8 264.1,191.4 264.7,191.0 265.4,190.8 266.3,190.8 267.0,191.0 267.5,191.4Z"/>
<path fill="#dcfec9" d="M220.5,248.2 230.6,242.5 250.7,238.7 273.4,236.2 280.9,232.4 289.7,232.4 296.0,238.1 293.5,244.4 286.0,248.2 284.7,254.5 288.5,258.2 286.0,261.0 218.0,261.0Z"/>
<path fill="#97fc97" d="M223.1,249.4 230.6,244.4 238.2,243.1 250.7,240.6 263.3,239.4 273.4,238.1 280.9,234.3 288.5,234.3 293.5,238.1 291.0,243.1 283.5,246.9 280.9,251.9 283.5,257.0 280.9,261.0 220.5,261.0Z"/>
<path fill="#64fcff" d="M236.9,254.5 240.7,246.9 250.7,244.4 260.8,243.1 270.9,241.9 275.9,244.4 277.2,249.4 275.9,255.7 270.9,259.5 263.3,261.0 235.6,261.0Z"/>
<path fill="#00c3ff" d="M257.7,249.4 263.3,247.5 270.9,248.8 275.3,251.9 272.1,254.5 264.6,254.5 259.6,252.6ZM238.8,254.5 243.2,251.3 247.6,253.2 248.9,258.2 247.0,261.0 240.1,261.0Z"/>
<path fill="#64fcff" d="M213.0,244.4 219.3,243.8 221.8,249.4 220.5,255.7 218.0,261.0 213.0,261.0Z"/>
<path fill="#00c3ff" d="M213.0,246.9 218.0,246.3 219.9,251.9 218.0,257.0 213.0,258.2Z"/>
<path fill="#dcfec9" d="M342.6,202.9 341.7,205.1 339.3,206.8 335.7,207.8 331.8,207.8 328.3,206.8 325.9,205.1 325.0,202.9 325.9,200.7 328.3,198.9 331.8,198.0 335.7,198.0 339.3,198.9 341.7,200.7Z"/>
<path fill="#97fc97" d="M342.0,201.0 341.7,202.4 341.0,203.4 340.0,204.1 338.9,204.1 337.9,203.4 337.2,202.4 336.9,201.0 337.2,199.6 337.9,198.5 338.9,197.9 340.0,197.9 341.0,198.5 341.7,199.6Z"/>
<path fill="#dcfec9" d="M337.6,229.5 337.1,231.1 335.9,232.3 334.1,233.0 332.2,233.0 330.4,232.3 329.2,231.1 328.8,229.5 329.2,228.0 330.4,226.8 332.2,226.1 334.1,226.1 335.9,226.8 337.1,228.0Z"/>
<path fill="#97fc97" d="M335.9,229.5 335.6,230.5 334.9,231.3 333.8,231.8 332.5,231.8 331.4,231.3 330.7,230.5 330.4,229.5 330.7,228.6 331.4,227.8 332.5,227.3 333.8,227.3 334.9,227.8 335.6,228.6ZM337.6,220.5 341.0,219.9 341.0,228.0 338.2,227.4ZM313.7,249.4 317.4,246.3 323.7,246.9 326.2,251.9 323.7,257.0 318.7,257.6 314.9,254.5Z"/>
<path fill="#64fcff" d="M316.2,250.1 319.9,248.2 323.7,250.7 323.1,254.5 319.3,255.1Z"/>
<path fill="#00c3ff" d="M322.2,251.9 322.0,253.0 321.4,253.9 320.4,254.4 319.4,254.4 318.5,253.9 317.9,253.0 317.7,251.9 317.9,250.8 318.5,250.0 319.4,249.5 320.4,249.5 321.4,250.0 322.0,250.8Z"/>
<path fill="#97fc97" d="M325.0,258.2 328.8,255.1 335.0,255.7 336.9,261.0 325.0,261.0Z"/>
<path fill="#64fcff" d="M326.9,258.9 330.0,256.7 333.8,258.2 334.4,261.0 326.9,261.0Z"/>
<path fill="#00c3ff" d="M332.5,259.2 332.3,259.9 331.8,260.4 331.1,260.7 330.2,260.7 329.5,260.4 328.9,259.9 328.8,259.2 328.9,258.6 329.5,258.1 330.2,257.8 331.1,257.8 331.8,258.1 332.3,258.6Z"/>
<path fill="#97fc97" d="M331.3,249.4 336.3,246.9 341.0,247.5 341.0,254.5 333.8,253.8Z"/>
<path fill="#dcfec9" d="M291.3,251.9 291.0,253.0 290.2,253.9 289.1,254.4 287.9,254.4 286.8,253.9 286.0,253.0 285.7,251.9 286.0,250.8 286.8,250.0 287.9,249.5 289.1,249.5 290.2,250.0 291.0,250.8Z"/>
</g>
<clipPath id="clipLt8"><rect x="341" y="184" width="128" height="77"/></clipPath>
<g clip-path="url(#clipLt8)">
<path fill="#dcfec9" d="M361.1,206.6 360.7,208.2 359.5,209.4 357.7,210.1 355.7,210.1 354.0,209.4 352.8,208.2 352.3,206.6 352.8,205.1 354.0,203.9 355.7,203.2 357.7,203.2 359.5,203.9 360.7,205.1ZM363.6,215.7 363.2,216.8 362.0,217.7 360.2,218.2 358.3,218.2 356.5,217.7 355.3,216.8 354.8,215.7 355.3,214.6 356.5,213.7 358.3,213.3 360.2,213.3 362.0,213.7 363.2,214.6ZM344.8,204.8 344.4,207.5 343.4,209.7 341.8,210.9 340.2,210.9 338.6,209.7 337.6,207.5 337.2,204.8 337.6,202.0 338.6,199.8 340.2,198.6 341.8,198.6 343.4,199.8 344.4,202.0Z"/>
<path fill="#97fc97" d="M343.5,204.8 343.3,206.7 342.6,208.2 341.6,209.1 340.4,209.1 339.4,208.2 338.7,206.7 338.5,204.8 338.7,202.8 339.4,201.3 340.4,200.5 341.6,200.5 342.6,201.3 343.3,202.8Z"/>
<path fill="#dcfec9" d="M341.0,221.7 359.9,221.7 371.2,223.6 369.9,228.0 362.4,234.3 357.4,238.1 356.1,244.4 351.1,246.9 344.8,245.7 341.0,243.1Z"/>
<path fill="#97fc97" d="M341.0,224.3 353.6,224.9 359.9,226.1 358.6,229.3 353.6,233.1 352.3,238.1 347.3,242.5 342.9,241.9 341.0,238.1ZM356.1,242.5 355.9,243.2 355.5,243.7 354.9,244.0 354.3,244.0 353.6,243.7 353.2,243.2 353.1,242.5 353.2,241.9 353.6,241.3 354.3,241.0 354.9,241.0 355.5,241.3 355.9,241.9Z"/>
<path fill="#dcfec9" d="M388.8,245.7 397.6,242.5 406.4,240.6 419.0,241.2 427.8,244.4 431.0,248.2 427.8,251.9 419.0,253.2 416.5,259.5 421.5,261.0 387.6,261.0 391.3,258.2 401.4,257.0 406.4,254.5 400.1,250.7 391.3,248.2Z"/>
<path fill="#97fc97" d="M398.2,245.7 403.9,242.5 411.5,241.2 421.5,242.5 427.8,245.7 428.4,249.4 421.5,251.9 415.2,253.2 414.0,259.5 416.5,261.0 390.1,261.0 397.6,258.9 406.4,257.6 408.9,253.2 402.7,250.1 398.9,248.2Z"/>
<path fill="#64fcff" d="M401.4,245.7 407.7,244.1 416.5,244.4 420.9,246.9 417.7,249.4 410.2,250.4 403.9,249.4ZM393.8,261.0 398.9,259.5 408.9,259.5 414.0,261.0Z"/>
<path fill="#00c3ff" d="M401.4,261.0 403.9,259.9 410.2,260.1 410.2,261.0Z"/>
</g>
<clipPath id="clipLt9"><rect x="85" y="261" width="128" height="77"/></clipPath>
<g clip-path="url(#clipLt9)">
<path fill="#dcfec9" d="M147.9,261.0 185.7,261.0 185.7,263.8 173.1,264.5 160.5,263.8 150.4,262.5Z"/>
<path fill="#97fc97" d="M151.7,261.0 184.4,261.0 180.6,262.5 173.1,263.0 165.5,262.5 155.5,262.0Z"/>
<path fill="#dcfec9" d="M85.0,277.4 92.5,274.8 101.4,269.8 110.2,266.0 120.2,264.1 131.6,264.1 136.6,267.3 135.3,273.6 130.3,278.0 121.5,279.9 116.5,283.6 117.7,289.9 112.7,293.7 103.9,294.3 95.1,293.7 85.0,293.1Z"/>
<path fill="#97fc97" d="M85.0,279.2 93.8,276.1 102.6,271.1 111.4,267.3 121.5,265.0 130.3,265.4 135.3,268.5 133.4,273.6 129.0,276.7 120.2,278.6 115.2,282.4 115.8,288.7 111.4,291.8 103.9,292.5 95.1,291.8 85.0,291.2Z"/>
<path fill="#64fcff" d="M108.9,271.1 115.2,269.8 119.0,272.3 117.7,276.1 112.7,277.4 109.5,274.8ZM123.4,267.3 129.0,266.0 133.4,267.9 131.6,271.1 126.5,271.7 123.4,269.8ZM85.0,286.2 95.1,285.5 106.4,286.2 108.9,288.1 103.9,290.6 95.1,291.8 88.8,292.5 85.0,291.8Z"/>
<path fill="#dcfec9" d="M183.1,261.0 213.0,261.0 213.0,271.7 205.8,269.8 198.2,267.9 190.7,266.0 185.7,263.5Z"/>
<path fill="#97fc97" d="M186.9,261.0 213.0,261.0 213.0,270.4 205.8,268.5 198.2,266.7 191.9,264.8Z"/>
<path fill="#64fcff" d="M190.7,261.0 213.0,261.0 213.0,268.5 205.8,266.7 198.2,264.8 193.2,262.9Z"/>
<path fill="#00c3ff" d="M202.0,261.0 213.0,261.0 213.0,266.7 207.0,264.8Z"/>
<path fill="#0063ff" d="M209.6,261.0 213.0,261.0 213.0,264.1Z"/>
<path fill="#dcfec9" d="M202.1,281.1 201.8,282.7 200.8,283.9 199.4,284.6 197.8,284.6 196.4,283.9 195.4,282.7 195.1,281.1 195.4,279.6 196.4,278.4 197.8,277.7 199.4,277.7 200.8,278.4 201.8,279.6Z"/>
<path fill="#97fc97" d="M201.1,281.4 200.9,282.5 200.2,283.3 199.2,283.8 198.1,283.8 197.0,283.3 196.3,282.5 196.1,281.4 196.3,280.3 197.0,279.4 198.1,278.9 199.2,278.9 200.2,279.4 200.9,280.3Z"/>
<path fill="#dcfec9" d="M215.2,278.9 214.8,280.2 213.6,281.2 211.8,281.8 209.8,281.8 208.1,281.2 206.9,280.2 206.4,278.9 206.9,277.6 208.1,276.5 209.8,275.9 211.8,275.9 213.6,276.5 214.8,277.6ZM206.4,297.5 206.2,298.0 205.7,298.5 204.9,298.7 204.1,298.7 203.4,298.5 202.8,298.0 202.6,297.5 202.8,296.9 203.4,296.5 204.1,296.3 204.9,296.3 205.7,296.5 206.2,296.9ZM173.1,326.2 172.7,327.5 171.6,328.5 169.9,329.1 168.2,329.1 166.5,328.5 165.4,327.5 165.0,326.2 165.4,324.9 166.5,323.8 168.2,323.2 169.9,323.2 171.6,323.8 172.7,324.9Z"/>
<path fill="#97fc97" d="M172.1,326.0 171.8,326.9 170.9,327.6 169.7,328.0 168.4,328.0 167.2,327.6 166.3,326.9 166.0,326.0 166.3,325.2 167.2,324.5 168.4,324.1 169.7,324.1 170.9,324.5 171.8,325.2Z"/>
<path fill="#dcfec9" d="M176.8,335.2 176.5,336.9 175.7,338.2 174.4,338.9 173.0,338.9 171.7,338.2 170.9,336.9 170.6,335.2 170.9,333.6 171.7,332.3 173.0,331.6 174.4,331.6 175.7,332.3 176.5,333.6ZM85.0,325.2 91.3,322.7 100.1,322.7 106.4,326.4 110.2,330.2 108.9,335.2 103.9,338.0 85.0,338.0Z"/>
<path fill="#97fc97" d="M87.5,327.7 92.5,323.9 98.8,323.3 103.2,326.4 102.6,331.5 97.6,335.2 91.3,336.5 87.5,334.0Z"/>
<path fill="#64fcff" d="M94.9,328.3 94.8,329.3 94.3,330.1 93.6,330.5 92.8,330.5 92.1,330.1 91.6,329.3 91.4,328.3 91.6,327.3 92.1,326.5 92.8,326.1 93.6,326.1 94.3,326.5 94.8,327.3Z"/>
<path fill="#dcfec9" d="M119.0,325.4 118.7,326.4 118.0,327.2 117.0,327.6 115.9,327.6 114.9,327.2 114.2,326.4 113.9,325.4 114.2,324.4 114.9,323.6 115.9,323.2 117.0,323.2 118.0,323.6 118.7,324.4ZM125.3,335.2 124.8,336.6 123.4,337.7 121.3,338.3 119.1,338.3 117.1,337.7 115.7,336.6 115.2,335.2 115.7,333.9 117.1,332.8 119.1,332.2 121.3,332.2 123.4,332.8 124.8,333.9Z"/>
</g>
<clipPath id="clipLt10"><rect x="213" y="261" width="128" height="77"/></clipPath>
<g clip-path="url(#clipLt10)">
<path fill="#dcfec9" d="M213.0,261.0 283.5,261.0 286.0,266.0 291.0,272.3 288.5,277.4 280.9,278.6 273.4,279.9 265.8,282.4 257.0,284.3 245.7,284.3 238.2,281.1 230.6,281.1 225.6,283.6 218.0,284.9 213.0,284.9Z"/>
<path fill="#97fc97" d="M229.4,261.0 280.9,261.0 283.5,266.0 288.5,273.0 284.7,276.1 275.9,276.7 268.4,278.0 260.8,281.1 255.8,283.4 245.7,283.4 239.4,279.9 231.9,278.6 229.4,273.6 231.9,267.3Z"/>
<path fill="#64fcff" d="M234.4,269.8 238.2,264.8 243.2,261.0 254.5,261.0 258.3,266.0 262.1,271.1 259.6,274.8 254.5,276.7 253.3,281.1 248.2,282.4 245.7,279.9 244.5,276.1 238.2,274.8 233.8,273.6ZM263.3,261.0 275.9,261.0 273.4,263.5 267.1,264.1Z"/>
<path fill="#dcfec9" d="M261.4,265.8 265.8,264.8 270.2,267.3 268.4,269.8 263.3,268.8Z"/>
<path fill="#64fcff" d="M283.5,274.8 283.2,275.6 282.5,276.2 281.5,276.6 280.4,276.6 279.4,276.2 278.7,275.6 278.4,274.8 278.7,274.1 279.4,273.5 280.4,273.1 281.5,273.1 282.5,273.5 283.2,274.1Z"/>
<path fill="#00c3ff" d="M242.6,263.5 245.7,261.0 250.7,262.3 253.3,266.0 249.5,267.9 244.5,266.7ZM254.8,271.3 254.5,272.0 253.7,272.5 252.6,272.8 251.4,272.8 250.3,272.5 249.5,272.0 249.2,271.3 249.5,270.7 250.3,270.1 251.4,269.8 252.6,269.8 253.7,270.1 254.5,270.7Z"/>
<path fill="#64fcff" d="M213.0,261.0 229.4,261.0 230.6,266.0 225.6,270.4 219.3,271.7 213.0,269.8Z"/>
<path fill="#00c3ff" d="M213.0,261.0 223.1,261.0 224.3,266.0 219.3,268.5 213.0,267.3Z"/>
<path fill="#0063ff" d="M213.0,262.3 216.8,263.5 215.5,266.7 213.0,266.7Z"/>
<path fill="#dcfec9" d="M325.0,261.0 341.0,261.0 338.8,265.4 332.5,266.0 327.5,264.1Z"/>
<path fill="#64fcff" d="M328.1,261.0 338.8,261.0 336.9,263.8 332.5,264.5Z"/>
<path fill="#dcfec9" d="M303.6,282.4 303.2,283.6 301.9,284.6 300.2,285.1 298.2,285.1 296.4,284.6 295.2,283.6 294.8,282.4 295.2,281.2 296.4,280.2 298.2,279.7 300.2,279.7 301.9,280.2 303.2,281.2ZM338.8,282.1 338.5,283.2 337.6,284.1 336.4,284.6 335.0,284.6 333.7,284.1 332.8,283.2 332.5,282.1 332.8,281.0 333.7,280.2 335.0,279.7 336.4,279.7 337.6,280.2 338.5,281.0ZM248.9,300.0 253.3,296.9 260.8,295.6 267.1,292.5 275.9,289.3 286.0,286.8 298.6,285.5 308.6,287.4 316.2,290.6 323.7,294.3 331.3,292.5 336.3,289.9 341.0,289.3 341.0,298.7 333.8,298.7 326.2,302.5 321.2,303.1 313.7,301.3 308.6,305.0 301.1,306.9 293.5,309.4 287.2,308.2 280.9,304.4 273.4,303.8 268.4,305.7 265.8,309.4 260.8,310.7 254.5,308.2 250.1,304.4Z"/>
<path fill="#97fc97" d="M250.1,300.6 254.5,297.9 261.4,296.9 267.7,293.7 275.9,290.6 286.0,288.1 298.6,286.8 308.0,288.4 315.5,291.6 323.1,295.3 331.3,293.5 336.3,291.2 341.0,290.6 341.0,297.5 333.8,297.7 326.2,301.3 321.2,301.9 313.7,300.0 308.0,303.8 301.1,305.7 293.5,308.2 287.9,306.9 281.6,303.1 273.4,302.5 267.7,304.4 265.2,308.2 260.8,309.4 255.1,307.3 251.4,303.8Z"/>
<path fill="#64fcff" d="M252.6,301.9 256.4,299.4 261.4,300.0 264.6,303.8 264.0,308.2 260.2,309.4 255.8,307.6 253.3,305.0ZM267.1,297.5 270.9,294.3 278.4,292.5 286.0,292.5 293.5,296.2 296.0,301.3 294.8,305.0 289.7,306.5 284.7,305.0 283.5,300.0 278.4,298.7 272.1,299.4 267.7,299.4ZM298.6,289.9 303.6,288.1 311.1,289.3 316.2,292.5 314.9,295.6 308.6,295.6 302.3,293.7 299.2,291.8ZM327.5,296.9 330.6,295.6 332.5,297.5 330.0,298.7Z"/>
<path fill="#00c3ff" d="M261.9,303.8 261.5,305.1 260.4,306.2 258.8,306.8 257.0,306.8 255.4,306.2 254.3,305.1 253.9,303.8 254.3,302.4 255.4,301.3 257.0,300.7 258.8,300.7 260.4,301.3 261.5,302.4ZM295.0,301.3 294.5,303.2 293.1,304.8 291.1,305.7 288.9,305.7 286.9,304.8 285.5,303.2 285.0,301.3 285.5,299.3 286.9,297.7 288.9,296.8 291.1,296.8 293.1,297.7 294.5,299.3ZM308.0,290.9 307.6,291.9 306.7,292.6 305.3,293.0 303.7,293.0 302.3,292.6 301.3,291.9 300.9,290.9 301.3,290.0 302.3,289.3 303.7,288.9 305.3,288.9 306.7,289.3 307.6,290.0ZM335.0,292.5 337.6,291.2 341.0,291.8 341.0,296.2 336.9,296.0Z"/>
<path fill="#0063ff" d="M336.9,293.1 341.0,292.5 341.0,295.2 337.6,295.0Z"/>
<path fill="#dcfec9" d="M311.8,326.4 314.9,323.3 321.2,322.7 325.0,316.4 328.8,312.6 333.8,313.8 336.9,318.9 341.0,320.1 341.0,325.2 333.8,326.4 328.8,328.9 323.7,331.5 317.4,331.5 313.0,329.6Z"/>
<path fill="#97fc97" d="M313.0,326.4 315.5,323.9 321.2,323.7 325.6,317.0 329.4,313.8 333.2,315.1 335.7,319.5 341.0,321.1 341.0,323.9 333.8,325.2 328.8,327.7 323.7,330.2 318.1,330.2 314.3,328.9Z"/>
<path fill="#64fcff" d="M314.9,326.4 318.1,323.9 322.5,324.5 325.0,327.1 322.5,329.6 317.4,329.6ZM325.6,320.1 328.1,315.1 331.9,315.7 334.4,320.1 333.2,324.5 329.4,325.8 326.2,323.9Z"/>
<path fill="#00c3ff" d="M333.4,320.4 333.1,322.3 332.2,323.8 331.0,324.7 329.6,324.7 328.3,323.8 327.4,322.3 327.1,320.4 327.4,318.5 328.3,316.9 329.6,316.1 331.0,316.1 332.2,316.9 333.1,318.5Z"/>
<path fill="#97fc97" d="M342.5,308.8 342.3,310.2 341.8,311.3 341.1,311.9 340.3,311.9 339.6,311.3 339.1,310.2 338.9,308.8 339.1,307.4 339.6,306.4 340.3,305.7 341.1,305.7 341.8,306.4 342.3,307.4Z"/>
</g>
<clipPath id="clipLt11"><rect x="341" y="261" width="128" height="77"/></clipPath>
<g clip-path="url(#clipLt11)">
<path fill="#dcfec9" d="M341.0,287.4 347.9,283.0 356.7,278.6 363.0,274.2 369.9,271.7 373.7,264.8 378.7,261.0 395.1,261.0 393.2,272.3 388.8,276.7 382.5,279.2 380.0,283.0 373.7,286.2 369.3,289.3 368.1,296.2 362.4,301.9 354.8,303.8 349.8,308.2 344.8,313.2 341.0,314.5ZM349.7,314.4 350.1,315.4 349.7,316.7 348.8,318.1 347.4,319.3 345.9,320.0 344.5,320.1 343.6,319.6 343.3,318.6 343.6,317.2 344.6,315.9 345.9,314.7 347.4,314.0 348.8,313.9ZM385.7,266.0 392.6,261.0 420.9,261.0 424.7,266.0 426.6,273.6 429.7,279.9 428.4,289.9 429.7,300.0 426.6,306.9 432.8,310.1 439.1,311.3 443.5,319.5 437.9,323.3 429.1,322.0 420.9,322.0 415.2,317.6 411.5,312.6 406.4,311.3 402.0,303.1 403.3,292.5 399.5,286.2 398.2,278.6 395.1,276.1 390.1,273.6ZM429.1,287.4 439.1,286.8 454.2,286.2 459.3,289.9 461.8,298.7 460.5,304.4 456.8,305.0 454.2,300.0 449.2,296.2 441.7,292.5 434.1,290.6Z"/>
<path fill="#97fc97" d="M341.0,289.3 348.5,284.9 357.4,280.5 363.6,276.1 371.2,273.6 375.0,266.0 380.0,262.3 388.8,261.0 393.8,263.5 391.3,271.1 387.6,274.8 381.3,277.4 378.7,281.1 372.5,284.3 367.4,288.1 366.2,295.0 361.1,300.0 353.6,301.9 348.5,306.3 343.5,311.3 341.0,312.6ZM387.6,266.0 393.8,261.0 419.0,261.0 422.8,266.0 424.7,273.6 427.8,279.9 426.6,289.9 427.8,300.0 424.0,307.6 431.6,311.3 437.9,312.6 441.7,318.9 436.6,321.4 429.1,320.1 421.5,320.1 416.5,316.4 412.7,311.3 407.7,310.1 403.9,302.5 405.2,292.5 401.4,286.2 400.1,278.6 396.4,274.8 391.3,272.3Z"/>
<path fill="#64fcff" d="M353.0,296.2 357.4,286.2 361.1,279.9 366.2,276.7 369.3,278.6 367.4,284.9 365.5,291.2 362.4,297.5 357.4,299.4ZM378.4,280.9 378.1,282.0 377.2,282.8 375.9,283.3 374.5,283.3 373.3,282.8 372.4,282.0 372.1,280.9 372.4,279.8 373.3,278.9 374.5,278.4 375.9,278.4 377.2,278.9 378.1,279.8Z"/>
<path fill="#00c3ff" d="M353.6,295.6 359.9,285.5 364.3,284.3 366.2,286.8 361.8,293.7 357.4,298.7ZM342.3,294.0 342.1,294.6 341.8,295.1 341.3,295.4 340.7,295.4 340.2,295.1 339.9,294.6 339.7,294.0 339.9,293.3 340.2,292.8 340.7,292.5 341.3,292.5 341.8,292.8 342.1,293.3Z"/>
<path fill="#64fcff" d="M390.1,267.3 395.1,261.0 412.7,261.0 411.5,266.0 416.5,266.0 420.3,269.8 421.5,274.8 425.3,279.9 424.0,286.2 421.5,292.5 416.5,293.7 410.2,292.5 406.4,287.4 403.9,281.1 401.4,273.6 395.1,273.0ZM408.9,305.0 414.0,301.9 417.7,304.4 418.4,309.4 415.2,312.0 410.8,310.1ZM418.4,313.8 424.0,312.0 431.6,313.2 437.9,317.0 438.5,320.1 432.8,320.8 426.6,318.9 421.5,318.2ZM409.6,300.6 409.3,301.5 408.7,302.1 407.8,302.5 406.8,302.5 405.9,302.1 405.3,301.5 405.0,300.6 405.3,299.8 405.9,299.2 406.8,298.8 407.8,298.8 408.7,299.2 409.3,299.8Z"/>
<path fill="#00c3ff" d="M390.7,267.9 395.1,262.3 398.9,261.0 411.5,261.0 410.8,265.4 406.4,269.8 400.1,273.6 395.1,272.3ZM418.5,269.8 418.3,271.0 417.7,272.0 416.7,272.5 415.7,272.5 414.8,272.0 414.2,271.0 414.0,269.8 414.2,268.6 414.8,267.6 415.7,267.1 416.7,267.1 417.7,267.6 418.3,268.6ZM405.8,281.1 409.6,278.6 421.5,278.6 424.7,281.1 421.5,284.9 416.5,287.4 412.7,286.2 408.3,283.6ZM416.7,306.9 416.5,307.8 415.7,308.5 414.6,308.9 413.4,308.9 412.2,308.5 411.5,307.8 411.2,306.9 411.5,306.1 412.2,305.3 413.4,305.0 414.6,305.0 415.7,305.3 416.5,306.1ZM423.3,316.4 423.2,316.7 423.0,317.0 422.7,317.1 422.4,317.1 422.1,317.0 421.8,316.7 421.8,316.4 421.8,316.0 422.1,315.8 422.4,315.6 422.7,315.6 423.0,315.8 423.2,316.0Z"/>
<path fill="#0063ff" d="M393.2,267.9 397.6,264.8 405.2,263.5 405.2,266.0 401.4,269.2 396.4,271.1Z"/>
<path fill="#97fc97" d="M436.0,283.4 435.6,284.9 434.6,286.1 433.1,286.7 431.4,286.7 429.9,286.1 428.8,284.9 428.4,283.4 428.8,281.9 429.9,280.7 431.4,280.1 433.1,280.1 434.6,280.7 435.6,281.9Z"/>
<path fill="#64fcff" d="M434.1,283.9 433.9,284.8 433.3,285.5 432.3,285.9 431.3,285.9 430.4,285.5 429.8,284.8 429.6,283.9 429.8,283.0 430.4,282.3 431.3,281.9 432.3,281.9 433.3,282.3 433.9,283.0Z"/>
<path fill="#00c3ff" d="M432.8,284.3 432.7,284.8 432.4,285.3 431.9,285.5 431.3,285.5 430.8,285.3 430.5,284.8 430.3,284.3 430.5,283.7 430.8,283.3 431.3,283.0 431.9,283.0 432.4,283.3 432.7,283.7Z"/>
<path fill="#97fc97" d="M456.1,293.7 455.9,294.5 455.4,295.2 454.7,295.6 453.8,295.6 453.1,295.2 452.5,294.5 452.3,293.7 452.5,292.9 453.1,292.2 453.8,291.9 454.7,291.9 455.4,292.2 455.9,292.9ZM452.1,290.9 452.0,291.4 451.7,291.7 451.3,291.9 450.9,291.9 450.5,291.7 450.2,291.4 450.1,290.9 450.2,290.5 450.5,290.2 450.9,290.0 451.3,290.0 451.7,290.2 452.0,290.5ZM408.1,311.6 407.7,313.1 406.7,314.3 405.3,315.0 403.8,315.0 402.3,314.3 401.4,313.1 401.0,311.6 401.4,310.1 402.3,308.8 403.8,308.1 405.3,308.1 406.7,308.8 407.7,310.1Z"/>
<path fill="#dcfec9" d="M439.9,305.0 439.7,306.1 439.2,307.0 438.5,307.5 437.7,307.5 437.0,307.0 436.5,306.1 436.4,305.0 436.5,303.9 437.0,303.1 437.7,302.6 438.5,302.6 439.2,303.1 439.7,303.9ZM460.1,323.9 459.4,327.2 457.2,329.8 454.1,331.3 450.6,331.3 447.5,329.8 445.3,327.2 444.5,323.9 445.3,320.6 447.5,318.0 450.6,316.5 454.1,316.5 457.2,318.0 459.4,320.6Z"/>
<path fill="#97fc97" d="M459.1,323.9 458.5,326.7 456.6,329.0 453.9,330.3 450.8,330.3 448.1,329.0 446.2,326.7 445.6,323.9 446.2,321.1 448.1,318.8 450.8,317.5 453.9,317.5 456.6,318.8 458.5,321.1Z"/>
<path fill="#64fcff" d="M453.5,322.9 453.3,323.4 452.8,323.9 452.1,324.1 451.3,324.1 450.6,323.9 450.1,323.4 450.0,322.9 450.1,322.4 450.6,321.9 451.3,321.7 452.1,321.7 452.8,321.9 453.3,322.4Z"/>
</g>
<clipPath id="clipLt12"><rect x="85" y="338" width="128" height="77"/></clipPath>
<g clip-path="url(#clipLt12)">
<path fill="#dcfec9" d="M106.4,359.4 110.2,355.6 117.7,355.6 126.5,356.9 129.0,360.6 124.0,363.2 122.7,366.9 126.5,369.5 124.0,372.6 116.5,372.6 110.2,370.7 107.0,366.9Z"/>
<path fill="#97fc97" d="M107.0,360.6 110.8,356.9 114.6,357.5 115.8,362.5 121.5,366.3 124.0,369.5 122.7,371.7 116.5,371.7 110.2,369.5 107.6,366.3Z"/>
<path fill="#dcfec9" d="M139.1,352.5 145.4,350.6 149.8,351.8 149.2,356.2 142.9,356.9ZM110.4,339.9 110.1,340.9 109.4,341.7 108.3,342.1 107.0,342.1 105.9,341.7 105.2,340.9 104.9,339.9 105.2,338.9 105.9,338.1 107.0,337.7 108.3,337.7 109.4,338.1 110.1,338.9ZM130.7,340.5 130.4,341.3 129.8,342.0 128.9,342.4 127.9,342.4 127.0,342.0 126.4,341.3 126.1,340.5 126.4,339.7 127.0,339.0 127.9,338.7 128.9,338.7 129.8,339.0 130.4,339.7ZM93.8,338.6 93.4,339.2 92.4,339.6 90.9,339.9 89.2,339.9 87.7,339.6 86.6,339.2 86.3,338.6 86.6,338.1 87.7,337.6 89.2,337.4 90.9,337.4 92.4,337.6 93.4,338.1ZM125.3,338.4 124.9,338.7 123.8,339.0 122.3,339.1 120.6,339.1 119.1,339.0 118.1,338.7 117.7,338.4 118.1,338.0 119.1,337.8 120.6,337.6 122.3,337.6 123.8,337.8 124.9,338.0ZM175.6,338.4 175.3,338.7 174.6,338.9 173.6,339.0 172.5,339.0 171.5,338.9 170.8,338.7 170.6,338.4 170.8,338.1 171.5,337.9 172.5,337.8 173.6,337.8 174.6,337.9 175.3,338.1ZM191.9,367.6 191.6,368.4 190.6,369.0 189.2,369.4 187.6,369.4 186.2,369.0 185.2,368.4 184.9,367.6 185.2,366.7 186.2,366.1 187.6,365.7 189.2,365.7 190.6,366.1 191.6,366.7ZM131.2,394.0 130.5,395.4 128.7,396.4 126.1,397.1 123.2,397.1 120.6,396.4 118.7,395.4 118.1,394.0 118.7,392.6 120.6,391.5 123.2,390.9 126.1,390.9 128.7,391.5 130.5,392.6ZM91.3,398.1 90.9,399.5 89.6,400.6 87.9,401.2 85.9,401.2 84.1,400.6 82.9,399.5 82.5,398.1 82.9,396.8 84.1,395.7 85.9,395.1 87.9,395.1 89.6,395.7 90.9,396.8Z"/>
<path fill="#97fc97" d="M87.5,398.4 87.3,399.2 86.8,399.9 86.0,400.2 85.2,400.2 84.5,399.9 83.9,399.2 83.7,398.4 83.9,397.6 84.5,396.9 85.2,396.6 86.0,396.6 86.8,396.9 87.3,397.6Z"/>
<path fill="#dcfec9" d="M155.7,410.0 155.5,410.9 155.0,411.6 154.2,412.1 153.4,412.1 152.6,411.6 152.1,410.9 151.9,410.0 152.1,409.0 152.6,408.3 153.4,407.9 154.2,407.9 155.0,408.3 155.5,409.0ZM171.8,408.5 178.1,404.1 185.7,402.2 194.5,403.4 198.2,407.2 200.8,412.2 198.2,414.2 173.1,414.2Z"/>
<path fill="#97fc97" d="M173.7,409.1 179.4,405.3 185.7,403.7 193.2,404.7 196.3,407.8 199.5,411.6 197.6,413.5 175.6,413.5Z"/>
<path fill="#dcfec9" d="M202.0,404.7 208.3,402.2 213.0,402.2 213.0,408.5 205.8,408.5Z"/>
<path fill="#97fc97" d="M204.5,405.3 208.9,403.7 213.0,403.7 213.0,407.2 206.4,407.5Z"/>
</g>
<clipPath id="clipLt13"><rect x="213" y="338" width="128" height="77"/></clipPath>
<g clip-path="url(#clipLt13)">
<path fill="#dcfec9" d="M258.9,382.7 263.3,375.7 268.4,369.5 275.9,365.1 288.5,364.4 298.6,366.9 308.6,364.4 317.4,362.5 326.2,365.1 333.8,369.5 341.0,374.5 341.0,409.7 333.8,408.5 326.2,407.8 318.7,405.9 311.1,403.4 303.6,400.9 296.0,397.1 288.5,393.4 280.9,390.2 273.4,389.6 265.8,388.3 260.8,385.8ZM301.1,409.1 300.7,410.6 299.7,411.8 298.1,412.5 296.5,412.5 294.9,411.8 293.9,410.6 293.5,409.1 293.9,407.6 294.9,406.3 296.5,405.7 298.1,405.7 299.7,406.3 300.7,407.6ZM321.2,408.5 320.4,410.1 318.1,411.4 314.8,412.1 311.2,412.1 307.9,411.4 305.7,410.1 304.8,408.5 305.7,406.8 307.9,405.5 311.2,404.8 314.8,404.8 318.1,405.5 320.4,406.8Z"/>
<path fill="#97fc97" d="M260.2,382.7 264.6,376.4 269.6,370.5 276.5,366.3 288.5,365.7 298.6,368.2 308.6,365.7 317.4,363.8 325.6,366.3 333.2,370.5 341.0,375.7 341.0,406.6 333.8,406.6 326.2,406.6 319.3,404.4 311.8,401.9 304.2,399.4 296.7,395.6 289.1,391.9 281.6,388.7 274.0,388.1 266.5,386.8 262.1,384.8Z"/>
<path fill="#64fcff" d="M263.3,382.0 266.5,377.0 272.1,372.0 279.7,368.8 291.0,368.8 301.1,370.7 311.1,368.8 319.9,368.2 326.2,370.7 333.8,375.7 341.0,379.5 341.0,403.4 333.8,404.1 326.2,400.9 319.9,398.4 312.4,397.1 304.8,395.2 297.3,392.1 289.7,389.6 282.2,387.1 274.7,386.4 267.1,385.2Z"/>
<path fill="#00c3ff" d="M265.2,382.0 267.1,378.3 273.4,375.1 278.4,372.0 286.0,371.0 289.7,373.2 294.8,375.7 301.1,373.9 313.7,373.9 321.2,374.5 326.2,378.3 333.8,380.8 341.0,384.6 341.0,400.9 333.8,402.2 326.2,398.4 319.9,396.5 312.4,395.2 304.8,393.4 298.6,390.8 291.0,387.7 283.5,385.8 275.9,385.6 268.4,384.6Z"/>
<path fill="#64fcff" d="M287.2,378.3 291.0,374.5 296.0,375.7 293.5,379.5 289.7,381.4Z"/>
<path fill="#0063ff" d="M266.5,381.4 268.4,378.3 273.4,377.6 277.2,380.8 277.8,383.3 273.4,385.8 269.0,385.2ZM298.6,388.3 299.8,380.8 303.6,378.3 307.4,375.7 311.1,378.3 317.4,380.8 323.7,383.3 331.3,383.3 338.8,385.8 341.0,387.7 341.0,397.1 336.3,399.7 331.3,400.3 326.2,397.1 321.2,394.6 313.7,395.2 306.1,393.4 301.1,391.5Z"/>
<path fill="#9565ff" d="M314.9,388.3 316.8,387.1 318.4,389.0 318.4,393.4 315.2,393.6ZM328.1,392.1 331.3,392.1 331.3,394.0 328.1,394.0ZM335.0,391.9 340.1,391.9 340.1,394.0 335.0,394.0ZM333.5,389.3 333.4,389.9 333.2,390.3 332.8,390.6 332.3,390.6 331.9,390.3 331.6,389.9 331.5,389.3 331.6,388.8 331.9,388.3 332.3,388.1 332.8,388.1 333.2,388.3 333.4,388.8Z"/>
<path fill="#dcfec9" d="M214.9,354.4 219.3,350.0 231.9,349.6 233.1,353.1 230.6,360.0 225.6,358.1 218.0,358.1Z"/>
<path fill="#97fc97" d="M216.8,354.4 220.5,350.8 230.6,350.3 231.9,352.5 225.6,355.0 219.3,356.2Z"/>
<path fill="#dcfec9" d="M252.0,357.1 251.3,358.5 249.4,359.6 246.6,360.2 243.5,360.2 240.8,359.6 238.8,358.5 238.2,357.1 238.8,355.8 240.8,354.7 243.5,354.1 246.6,354.1 249.4,354.7 251.3,355.8Z"/>
<path fill="#97fc97" d="M241.3,357.1 247.6,356.9 246.3,358.8 243.2,358.8Z"/>
<path fill="#dcfec9" d="M232.8,371.3 232.2,372.4 230.8,373.3 228.6,373.8 226.3,373.8 224.2,373.3 222.7,372.4 222.2,371.3 222.7,370.2 224.2,369.4 226.3,368.9 228.6,368.9 230.8,369.4 232.2,370.2ZM248.2,373.6 247.8,374.8 246.6,375.8 244.8,376.3 242.8,376.3 241.1,375.8 239.9,374.8 239.4,373.6 239.9,372.4 241.1,371.4 242.8,370.9 244.8,370.9 246.6,371.4 247.8,372.4ZM233.1,389.6 238.2,387.1 250.7,385.2 257.7,385.8 258.9,390.8 255.8,395.2 249.5,397.1 240.7,395.2 235.6,392.7Z"/>
<path fill="#97fc97" d="M234.4,389.8 239.4,387.9 250.7,386.2 257.0,386.8 257.7,390.8 254.5,394.4 249.5,395.9 241.3,394.0 236.3,391.9Z"/>
<path fill="#dcfec9" d="M218.3,405.9 217.9,407.6 216.8,408.9 215.2,409.6 213.4,409.6 211.7,408.9 210.6,407.6 210.2,405.9 210.6,404.3 211.7,403.0 213.4,402.3 215.2,402.3 216.8,403.0 217.9,404.3Z"/>
<path fill="#97fc97" d="M214.3,405.9 214.1,407.0 213.8,407.9 213.3,408.4 212.7,408.4 212.2,407.9 211.9,407.0 211.7,405.9 211.9,404.8 212.2,404.0 212.7,403.5 213.3,403.5 213.8,404.0 214.1,404.8ZM336.9,408.5 341.0,406.6 341.0,410.3 338.2,410.3Z"/>
</g>
<clipPath id="clipLt14"><rect x="341" y="338" width="128" height="77"/></clipPath>
<g clip-path="url(#clipLt14)">
<path fill="#dcfec9" d="M341.0,378.9 347.3,380.8 354.8,384.6 359.9,390.8 361.8,395.9 357.4,400.9 356.1,405.9 349.8,409.1 341.0,411.0Z"/>
<path fill="#97fc97" d="M341.0,380.1 347.3,382.0 354.2,385.8 358.6,391.5 360.5,395.9 356.7,399.7 354.8,404.7 349.2,407.8 341.0,409.1Z"/>
<path fill="#64fcff" d="M341.0,381.4 346.7,383.3 352.3,386.4 354.8,390.8 355.5,394.6 352.3,397.1 347.3,399.7 346.0,403.4 341.0,404.7Z"/>
<path fill="#00c3ff" d="M341.0,382.0 346.0,383.9 351.7,387.1 353.6,390.8 353.6,394.0 349.8,396.5 346.0,397.1 343.5,400.3 341.0,400.9Z"/>
<path fill="#0063ff" d="M341.0,387.7 343.5,388.3 343.5,392.1 341.0,393.4ZM346.0,385.8 349.8,385.2 351.1,387.7 348.5,390.2 346.7,389.0Z"/>
<path fill="#dcfec9" d="M366.8,389.6 366.5,390.1 365.8,390.6 364.6,390.8 363.4,390.8 362.3,390.6 361.5,390.1 361.3,389.6 361.5,389.0 362.3,388.6 363.4,388.4 364.6,388.4 365.8,388.6 366.5,389.0ZM390.1,395.2 389.1,399.6 386.4,403.1 382.4,405.1 378.1,405.1 374.1,403.1 371.4,399.6 370.4,395.2 371.4,390.9 374.1,387.4 378.1,385.4 382.4,385.4 386.4,387.4 389.1,390.9Z"/>
<path fill="#97fc97" d="M371.2,399.0 375.0,390.8 378.7,386.4 385.0,385.8 388.2,390.8 388.8,397.1 385.0,402.2 378.7,404.7 373.7,402.8Z"/>
<path fill="#64fcff" d="M374.3,399.0 377.5,392.1 380.0,387.7 383.8,388.3 385.0,393.4 385.7,398.4 382.5,401.5 377.5,401.5Z"/>
<path fill="#97fc97" d="M378.7,393.4 383.8,394.0 384.4,397.1 378.7,397.4Z"/>
<path fill="#00c3ff" d="M381.3,389.3 381.2,389.8 381.0,390.1 380.8,390.3 380.5,390.3 380.2,390.1 380.1,389.8 380.0,389.3 380.1,388.9 380.2,388.5 380.5,388.4 380.8,388.4 381.0,388.5 381.2,388.9Z"/>
<path fill="#dcfec9" d="M412.1,344.5 411.5,346.7 409.8,348.5 407.4,349.4 404.7,349.4 402.3,348.5 400.6,346.7 400.0,344.5 400.6,342.4 402.3,340.6 404.7,339.6 407.4,339.6 409.8,340.6 411.5,342.4Z"/>
<path fill="#97fc97" d="M411.3,344.5 410.8,346.4 409.3,347.9 407.2,348.7 404.9,348.7 402.8,347.9 401.3,346.4 400.8,344.5 401.3,342.7 402.8,341.2 404.9,340.4 407.2,340.4 409.3,341.2 410.8,342.7Z"/>
<path fill="#64fcff" d="M408.9,344.5 408.7,345.7 408.0,346.7 407.0,347.2 405.9,347.2 404.9,346.7 404.2,345.7 403.9,344.5 404.2,343.3 404.9,342.4 405.9,341.8 407.0,341.8 408.0,342.4 408.7,343.3Z"/>
<path fill="#dcfec9" d="M428.3,356.6 427.8,358.4 426.3,359.8 424.2,360.5 421.9,360.5 419.7,359.8 418.3,358.4 417.7,356.6 418.3,354.9 419.7,353.5 421.9,352.7 424.2,352.7 426.3,353.5 427.8,354.9Z"/>
<path fill="#97fc97" d="M427.6,356.6 427.1,358.0 425.9,359.2 424.0,359.8 422.0,359.8 420.2,359.2 419.0,358.0 418.5,356.6 419.0,355.2 420.2,354.1 422.0,353.4 424.0,353.4 425.9,354.1 427.1,355.2Z"/>
<path fill="#dcfec9" d="M407.4,356.9 407.3,357.9 407.0,358.6 406.5,359.1 405.9,359.1 405.4,358.6 405.0,357.9 404.9,356.9 405.0,355.9 405.4,355.1 405.9,354.7 406.5,354.7 407.0,355.1 407.3,355.9ZM445.4,360.0 445.0,361.4 443.8,362.5 442.0,363.1 440.0,363.1 438.3,362.5 437.1,361.4 436.6,360.0 437.1,358.7 438.3,357.6 440.0,357.0 442.0,357.0 443.8,357.6 445.0,358.7ZM397.0,390.8 398.9,382.0 403.9,378.3 411.5,372.6 419.0,365.1 426.6,361.3 434.1,362.5 441.7,361.9 449.2,361.3 456.8,363.2 467.8,365.7 467.8,380.8 461.8,383.3 454.2,387.1 446.7,389.6 439.1,386.4 429.1,387.1 421.5,389.6 416.5,393.4 415.2,396.5 408.9,397.1 401.4,395.9Z"/>
<path fill="#97fc97" d="M398.2,390.8 400.1,382.7 404.5,379.3 412.1,373.6 419.6,366.1 426.6,362.5 434.1,363.5 441.7,362.9 449.2,362.5 456.8,364.4 467.8,366.9 467.8,379.5 461.8,382.0 454.2,385.8 446.7,388.3 439.1,385.2 429.1,385.8 421.5,388.3 415.2,392.1 414.0,395.2 408.9,395.9 402.0,394.9Z"/>
<path fill="#64fcff" d="M401.4,390.8 402.7,384.6 408.9,378.3 415.2,372.0 420.3,366.3 426.6,362.5 431.6,363.2 434.1,368.2 439.1,369.5 445.4,366.3 451.7,365.1 458.0,366.9 461.8,368.8 467.8,368.2 467.8,378.9 460.5,380.1 454.2,383.3 450.5,387.1 442.9,387.7 437.9,383.9 429.1,384.6 421.5,387.1 414.0,388.3 408.9,391.5 403.9,391.5Z"/>
<path fill="#97fc97" d="M432.8,364.4 440.4,363.2 445.4,365.1 441.7,368.2 436.6,368.8Z"/>
<path fill="#00c3ff" d="M402.0,390.2 403.9,384.6 410.2,378.3 416.5,372.6 421.5,366.9 426.6,363.2 431.0,363.8 431.6,369.5 434.7,373.9 440.4,372.6 446.7,367.6 451.7,366.3 454.9,369.5 456.8,373.2 460.5,373.9 461.8,369.5 466.8,369.5 466.8,378.3 459.3,378.9 454.2,381.4 446.7,382.7 436.6,383.9 427.8,383.9 420.3,386.4 413.3,387.7 407.7,390.8Z"/>
<path fill="#0063ff" d="M412.1,380.1 416.5,377.0 421.5,370.7 425.3,365.7 429.7,365.1 430.3,370.7 434.1,375.1 440.4,374.5 445.4,371.3 451.7,371.3 455.5,377.0 453.0,380.1 445.4,380.8 436.6,382.0 429.1,382.7 421.5,384.6 414.0,383.9ZM465.6,374.5 466.8,373.9 466.8,378.3 465.8,378.0Z"/>
<path fill="#dcfec9" d="M463.0,399.7 462.5,401.2 461.1,402.4 458.9,403.1 456.6,403.1 454.5,402.4 453.0,401.2 452.5,399.7 453.0,398.1 454.5,396.9 456.6,396.2 458.9,396.2 461.1,396.9 462.5,398.1Z"/>
<path fill="#97fc97" d="M462.3,399.7 461.8,400.9 460.6,401.8 458.8,402.3 456.8,402.3 454.9,401.8 453.7,400.9 453.2,399.7 453.7,398.4 454.9,397.5 456.8,397.0 458.8,397.0 460.6,397.5 461.8,398.4Z"/>
<path fill="#dcfec9" d="M427.8,407.8 427.5,408.9 426.5,409.8 425.1,410.3 423.5,410.3 422.1,409.8 421.1,408.9 420.8,407.8 421.1,406.7 422.1,405.9 423.5,405.4 425.1,405.4 426.5,405.9 427.5,406.7Z"/>
<path fill="#97fc97" d="M440.4,411.6 440.0,412.7 439.0,413.6 437.5,414.1 435.8,414.1 434.3,413.6 433.2,412.7 432.8,411.6 433.2,410.5 434.3,409.6 435.8,409.2 437.5,409.2 439.0,409.6 440.0,410.5ZM452.9,412.5 452.7,413.0 452.2,413.5 451.5,413.7 450.7,413.7 450.0,413.5 449.5,413.0 449.3,412.5 449.5,411.9 450.0,411.5 450.7,411.3 451.5,411.3 452.2,411.5 452.7,411.9ZM463.7,411.6 463.4,412.4 462.5,413.0 461.2,413.3 459.8,413.3 458.6,413.0 457.7,412.4 457.4,411.6 457.7,410.8 458.6,410.2 459.8,409.9 461.2,409.9 462.5,410.2 463.4,410.8Z"/>
</g>
</g>
<line x1="149.55" y1="31.5" x2="149.55" y2="414.3" class="grid"/>
<text x="150.0" y="424.7" font-size="8.7" text-anchor="middle" textLength="22.2" lengthAdjust="spacingAndGlyphs" xml:space="preserve">125°E</text>
<line x1="213.33" y1="31.5" x2="213.33" y2="414.3" class="grid"/>
<text x="213.7" y="424.7" font-size="8.7" text-anchor="middle" textLength="22.2" lengthAdjust="spacingAndGlyphs" xml:space="preserve">130°E</text>
<line x1="277.10" y1="31.5" x2="277.10" y2="414.3" class="grid"/>
<text x="277.5" y="424.7" font-size="8.7" text-anchor="middle" textLength="22.2" lengthAdjust="spacingAndGlyphs" xml:space="preserve">135°E</text>
<line x1="340.88" y1="31.5" x2="340.88" y2="414.3" class="grid"/>
<text x="341.3" y="424.7" font-size="8.7" text-anchor="middle" textLength="22.2" lengthAdjust="spacingAndGlyphs" xml:space="preserve">140°E</text>
<line x1="404.65" y1="31.5" x2="404.65" y2="414.3" class="grid"/>
<text x="405.1" y="424.7" font-size="8.7" text-anchor="middle" textLength="22.2" lengthAdjust="spacingAndGlyphs" xml:space="preserve">145°E</text>
<line x1="85.5" y1="349.55" x2="468.5" y2="349.55" class="grid"/>
<text x="80.9" y="352.2" font-size="8.7" text-anchor="end" textLength="18.6" lengthAdjust="spacingAndGlyphs" xml:space="preserve">25°N</text>
<line x1="85.5" y1="285.80" x2="468.5" y2="285.80" class="grid"/>
<text x="80.9" y="288.4" font-size="8.7" text-anchor="end" textLength="18.6" lengthAdjust="spacingAndGlyphs" xml:space="preserve">30°N</text>
<line x1="85.5" y1="222.05" x2="468.5" y2="222.05" class="grid"/>
<text x="80.9" y="224.7" font-size="8.7" text-anchor="end" textLength="18.6" lengthAdjust="spacingAndGlyphs" xml:space="preserve">35°N</text>
<line x1="85.5" y1="158.30" x2="468.5" y2="158.30" class="grid"/>
<text x="80.9" y="160.9" font-size="8.7" text-anchor="end" textLength="18.6" lengthAdjust="spacingAndGlyphs" xml:space="preserve">40°N</text>
<line x1="85.5" y1="94.55" x2="468.5" y2="94.55" class="grid"/>
<text x="80.9" y="97.2" font-size="8.7" text-anchor="end" textLength="18.6" lengthAdjust="spacingAndGlyphs" xml:space="preserve">45°N</text>
<text x="277" y="26" font-size="12.12" text-anchor="middle" xml:space="preserve">IMERG_NRT estimates for 20250928</text>
<g clip-path="url(#clipL)"><path class="coast" d="M217.8,70.9 220.3,69.0 224.1,66.7 230.4,66.2 237.9,65.6 241.1,63.7 244.2,60.8 247.3,57.1 253.0,54.5 257.4,54.9 261.8,53.0 268.1,51.4 274.4,50.8 276.9,50.1 278.2,47.6 283.2,46.1 288.2,45.3 292.6,43.2 294.5,40.1 296.4,36.9 298.9,36.9 300.8,35.7 300.2,33.1 297.0,32.3 293.3,32.5 292.0,35.0M227.8,59.9 232.9,60.4 239.2,60.2 244.2,59.9M239.2,91.7 242.3,89.8 246.1,89.4 249.2,91.4 249.6,94.2 247.7,97.3 245.5,98.9 243.6,100.2 241.1,98.9 239.8,96.7 240.4,94.4ZM284.5,107.0 287.0,103.0 290.7,100.5 294.5,96.7 299.6,92.3 304.6,87.9 310.9,83.5 315.9,78.4 319.7,73.4 322.2,69.0 326.0,65.2 329.8,60.8 334.8,55.8 339.8,52.6 342.0,51.4M348.3,31.9 347.7,36.3 345.8,40.1 344.5,43.8 343.9,47.6 342.6,51.4 342.0,52.0M369.1,31.9 368.4,36.3 367.2,41.3 364.6,46.4 366.5,50.1 369.1,55.2 367.8,60.2 366.5,66.5 366.5,70.3 364.6,74.0 365.3,78.4 367.2,82.2 369.1,80.3 370.3,77.2 372.8,73.4 376.0,72.1 379.7,73.4 383.5,74.0 384.8,77.2 385.4,81.0 387.0,77.2 386.0,71.5 382.3,70.9 380.4,66.5 378.5,64.0 375.3,61.5 373.5,57.7 374.1,52.6 376.0,48.9 377.9,43.8 379.7,40.7 383.5,39.4 388.6,39.1 393.6,40.1 396.1,42.0 399.2,44.5 401.1,47.6 400.5,45.1 397.4,42.0 395.5,38.8 394.2,35.0 393.0,31.9M362.1,107.0 362.8,101.7 362.1,96.7 361.5,91.7 362.8,89.1 365.3,87.6 367.8,89.1 370.3,91.7 373.5,94.8 376.6,97.9 379.7,100.5 383.5,103.0 388.6,105.2 393.6,105.9 396.1,107.0M428.8,100.5 431.3,98.6 435.1,96.1 438.3,93.5 441.4,91.0 442.7,88.9 443.9,90.4 442.7,92.9 438.9,95.2 435.7,97.9 432.0,100.7 429.8,101.7ZM442.7,92.3 446.4,91.0 450.2,88.5 453.3,87.4 454.9,88.5 453.3,90.4 449.6,91.4 446.4,92.7 443.9,93.5ZM461.3,87.2 463.4,84.7 466.6,82.2 469.1,81.0 469.5,82.2 467.2,84.7 464.0,86.9 462.2,87.9ZM403.7,107.0 406.2,104.2 409.3,102.7 408.1,105.5 406.8,107.0M413.7,107.0 416.2,103.6 419.4,100.5 425.0,101.5 422.5,103.0 418.7,104.2 416.2,107.0M87.0,156.7 91.0,154.8 94.2,151.0 98.0,147.3 101.7,146.0 106.1,146.4 109.3,144.7 109.9,147.3 113.1,149.1 114.7,151.7 113.1,155.4 110.5,157.3 106.8,159.8 104.9,162.4 103.6,164.9 106.8,166.1 104.9,169.3 101.1,172.4 100.1,173.7 104.9,172.7 109.3,171.2 113.7,167.4 118.1,164.9 122.5,163.0 127.5,161.4 132.6,160.5 137.6,159.8 140.7,158.6 142.0,160.5 144.5,161.7 147.7,162.4 151.4,163.0 154.6,163.6 155.2,166.8 153.9,169.9 152.1,174.3 155.2,174.9 150.8,176.8 149.5,180.0 147.7,181.9 151.4,183.1 156.5,183.1 159.0,184.0M214.0,132.8 211.8,135.3 209.3,137.8 210.6,141.0 209.9,146.0 205.5,148.5 201.8,151.0 198.0,153.6 192.9,156.1 187.9,157.3 184.1,159.8 181.6,162.4 181.0,166.1 179.7,167.4 181.6,169.3 185.4,170.5 189.2,173.7 192.9,176.2 195.5,180.6 197.3,184.0M214.0,132.2 217.8,129.6 221.5,127.8 222.8,124.6 226.6,124.6 230.4,122.1 234.1,118.3 236.6,115.8 239.2,117.7 242.3,116.4 243.6,119.6 245.5,121.5 250.5,122.7 253.0,123.6 258.0,122.7 263.1,121.5 268.1,119.0 273.1,116.4 278.2,113.3 281.9,110.8 283.8,108.3 284.5,107.0M342.0,123.4 339.8,124.6 338.6,127.1 339.8,130.3 342.0,131.5M342.0,161.1 339.8,166.1 337.9,172.4 336.0,177.5 333.5,182.5 332.3,184.0M318.4,184.0 320.3,180.0 321.6,181.2 322.8,184.0M363.4,107.0 360.9,108.9 359.0,111.4 358.4,114.5 357.1,116.4 354.0,116.8 350.2,116.1 347.0,115.6 345.8,117.1 347.7,119.0 346.4,120.8 343.9,122.7 342.0,123.4M344.5,127.8 347.0,125.9 350.2,125.6 352.7,127.8 354.6,127.1 358.4,125.2 362.1,124.4 367.2,125.9 372.2,128.4 377.2,130.9 382.3,133.4 383.5,130.3 385.4,126.5 388.6,123.4 392.3,120.8 397.4,119.6 402.4,119.6 406.2,118.3 408.7,116.4 406.2,114.5 407.4,112.0 409.9,110.8 412.5,108.9 414.3,107.0M408.7,116.4 412.5,115.8 415.6,114.8 412.5,117.1 409.3,117.3M393.6,107.0 397.4,108.3 402.4,108.3 404.9,107.0M408.7,107.0 410.6,109.5 413.7,108.3 415.0,107.0M344.5,127.8 345.8,130.3 349.5,132.2 353.3,134.1 356.5,135.3 354.0,136.6 350.8,135.3 347.0,136.6 343.9,138.5 342.0,139.1M342.0,131.5 343.3,133.4 342.0,135.3M342.0,147.3 344.5,144.7 345.8,142.2 348.3,141.6 349.5,144.7 350.2,147.3 353.3,147.3 355.2,146.0 354.6,142.9 352.7,141.0 350.8,140.0 354.6,139.5 358.4,140.3 359.6,141.6 359.0,144.7 360.2,148.5 362.1,151.7 364.6,154.8 366.5,159.8 367.5,164.2 366.5,168.7 363.4,172.4 361.5,175.6 360.9,179.3 357.1,179.0 354.0,180.0 352.7,182.5 353.3,184.0M87.0,189.7 88.2,188.4 89.9,187.5 91.1,187.0 92.2,186.7 93.9,186.2 95.6,185.4 97.2,186.9 98.2,186.8 100.0,188.3 101.2,188.6 102.9,189.2 104.4,189.8 105.3,190.1 107.2,191.3 108.9,190.7 111.3,190.2 112.9,189.9 114.0,190.1 116.4,190.5 117.3,191.0 118.7,191.0 120.3,191.8 119.1,192.9 118.7,194.5 118.3,195.4 118.0,196.8 115.8,197.8 113.9,197.8 112.3,198.2 111.7,198.3 110.3,198.3 108.4,199.0 106.6,199.3 105.2,200.2 103.6,200.5 101.9,201.2 101.3,202.2 99.9,202.0 97.8,203.1 96.2,204.1 95.1,205.0 93.4,206.3 91.9,206.4 90.9,208.0 89.3,208.5 88.4,209.3 87.0,209.2M87.0,230.6 89.1,233.7 91.0,238.1 92.9,241.9 95.4,246.3 97.3,250.1 99.8,253.8 103.0,256.3 106.1,258.9 108.0,261.0M149.5,184.6 153.9,185.9 159.0,185.5 164.0,185.3 169.0,186.5M196.1,224.3 198.0,221.1 201.8,220.5 204.3,218.0 206.2,214.2 207.4,209.2 206.2,204.1 205.5,199.1 203.6,194.1 201.1,189.7 198.6,185.9 196.7,184.0M164.3,242.5 166.5,241.2 170.3,240.6 174.1,240.9 175.0,242.1 173.4,243.8 169.7,244.6 165.9,245.0 164.3,243.8ZM225.8,235.1 224.6,233.1 225.0,230.4 226.5,229.2 229.7,228.8 232.4,226.9 235.2,225.3 237.5,223.7 239.9,221.8 242.2,219.8 245.0,217.5 247.3,215.9 250.1,214.9 253.2,214.7 254.8,215.5 257.9,215.3 262.6,215.1 267.3,214.3 272.0,213.5 276.7,213.0 279.9,212.7 280.7,214.3 281.8,215.5 284.6,215.6 287.3,214.7 289.7,213.5 290.9,212.0 290.1,210.0M288.5,222.2 290.5,218.6 291.6,216.7 292.8,216.3 292.4,218.2 290.5,220.6 289.3,222.5ZM225.8,235.1 229.7,234.9 234.4,234.3 237.5,235.3 241.5,235.7 244.2,235.5 246.2,233.9 246.9,232.7 249.3,231.3 253.2,230.0 257.1,229.0 261.1,227.9 264.2,227.1 267.3,225.3 270.5,224.5 273.6,224.5 275.6,226.1 278.3,226.5 281.5,225.7 283.4,226.6 283.2,228.7 281.1,229.5 279.5,230.5 278.5,232.7 278.9,235.5 280.7,237.5 282.2,239.6 284.6,241.2 287.3,241.8 289.5,240.2 290.7,237.6 292.4,234.3 294.0,232.7M241.5,232.1 242.9,230.0 244.6,229.6 246.0,231.3 246.5,233.4 244.2,233.9 241.8,233.5ZM245.0,242.9 241.5,241.8 239.1,242.8 242.2,243.1 245.0,243.9 245.8,247.6 247.7,249.2 250.1,250.8 251.6,250.0 252.4,247.3 254.0,244.5 256.0,242.5 258.3,241.0 261.1,241.0 264.2,242.2 266.2,244.1 267.3,242.9 268.9,241.0 270.5,239.8 272.4,237.8 273.2,235.9 272.4,233.5 270.5,232.0 268.1,231.3 265.0,231.0 262.2,230.5 260.3,231.6 259.1,233.5 256.7,234.5 254.0,235.1 252.4,234.3 250.9,233.4 249.7,234.3 247.7,237.1 246.2,240.2ZM272.4,233.5 273.8,231.2 276.0,229.6 276.7,228.2 276.0,230.5 274.4,232.7 273.2,233.9ZM353.3,184.0 354.6,187.8 355.0,192.8 354.0,196.6 351.4,199.1 349.5,202.9 348.3,206.6 350.2,210.4 352.1,212.7 349.5,214.2 347.3,215.5 346.8,218.6 345.1,220.7 342.0,221.5M93.5,261.0 97.3,264.1 102.4,266.0 107.4,267.5 109.3,269.8 109.9,273.0 107.4,274.8 103.6,276.1 98.6,278.6 94.8,280.5 91.0,282.4 87.0,283.6M87.0,266.0 89.1,267.9 91.7,271.1 90.4,273.6 87.0,274.2M98.6,261.0 103.6,262.9 108.6,264.1 109.9,262.3 108.6,261.0M87.0,283.6 91.0,282.4 94.8,281.1 94.2,284.3 97.3,284.9 102.4,281.8 105.5,283.0 108.6,285.5 111.8,283.6 115.6,285.5 113.1,287.4 110.5,288.1M106.1,308.2 105.3,308.8 103.4,309.8 101.6,309.7 100.3,309.8 99.3,309.9 97.4,311.6 96.8,311.0 94.9,310.1 95.0,312.7 95.8,314.2 95.3,314.8 93.7,316.0 93.6,317.8 93.4,319.1 92.5,320.4 91.6,321.4 89.9,322.6 88.9,323.7 88.2,324.6 86.6,326.2 87.2,328.2 87.0,329.6M218.4,281.1 220.3,279.9 221.5,281.4 220.0,283.0ZM87.0,367.6 88.5,364.4 91.0,360.6 93.5,356.9 96.1,353.1 98.6,350.0 101.7,347.8 104.9,346.2 107.4,346.6 109.9,348.1 111.2,349.6 109.9,351.8 109.3,355.6 108.6,359.4 107.4,363.2 106.1,367.6 104.9,371.3 103.0,375.1 100.5,378.3 98.6,381.4 97.6,385.2 97.1,388.3 95.8,389.3 94.6,387.7 94.2,384.6 91.7,382.7 89.1,380.1 87.3,377.0 87.0,373.2ZM290.0,210.0 292.6,206.6 295.8,204.1 298.3,201.6 300.8,197.8 300.2,194.1 302.1,191.5 305.8,189.7 307.7,190.3 305.8,192.8 303.3,194.1 303.3,196.6 304.6,199.1 307.7,199.7 312.1,197.8 317.2,196.0 321.6,194.1 324.7,190.9 326.6,187.1 328.5,185.3 331.6,184.0M318.4,184.6 320.9,184.0 324.1,184.0 322.2,185.9 319.7,186.3ZM294.0,232.7 295.8,231.8 299.6,231.2 301.4,229.3 299.6,226.1 298.3,223.0 300.8,221.1 302.7,223.6 305.8,224.9 310.9,224.9 314.7,226.1 318.4,226.8 320.9,223.0 323.5,221.1 326.0,223.0 326.6,226.1 329.1,224.3 329.8,220.5 332.3,218.6 334.8,219.2 336.0,216.1 338.6,214.2 341.1,213.6 342.0,214.2M337.9,215.5 339.8,218.6 338.6,221.7 341.1,221.7 342.0,220.5M344.1,141.7 341.1,147.3 339.3,152.3 338.6,157.3 339.8,159.3 341.1,161.1M205.5,243.1 209.3,240.6 214.3,238.1 220.6,236.8 224.9,234.3 226.9,238.1 231.9,239.9 235.7,241.9 234.5,245.7 237.0,249.4 238.2,253.2 235.7,258.2 233.2,263.3 230.7,268.3 226.9,272.1 223.1,273.3 221.4,269.6 221.9,265.8 219.4,267.0 218.1,270.8 215.6,269.6 214.8,264.5 215.6,259.5 216.9,255.7 215.6,251.9 216.9,248.2 214.3,246.9 211.8,245.7 209.3,246.9 206.8,244.4ZM210.6,248.2 213.1,250.7 211.8,254.5 214.3,257.0 213.1,259.5M216.9,248.2 218.9,250.7 218.1,254.5 219.9,257.0 218.1,259.5 219.4,262.5M212.6,249.9 214.8,248.9 215.8,251.4 213.8,252.9Z"/><path class="coast" style="fill:#000;stroke-width:.4" d="M137.3,90.1 140.1,90.4 142.6,91.4 141.4,92.7 138.8,91.9ZM355.6,91.4 357.3,91.0 358.1,92.3 356.8,93.2 355.6,92.7ZM101.7,163.6 104.9,163.0 105.5,165.5 103.0,166.4 101.3,165.1ZM146.6,116.4 148.7,115.6 148.9,117.7 147.4,118.6ZM170.9,110.8 173.4,110.5 175.1,112.0 173.4,113.3 171.6,112.7ZM197.3,109.5 199.9,107.6 201.1,108.3 199.2,110.5ZM148.7,151.0 151.4,150.0 154.2,149.5 153.9,150.8 150.8,152.3 148.9,152.3ZM179.4,166.1 181.6,165.9 182.3,168.0 180.1,168.7ZM235.4,117.1 238.5,115.8 239.2,119.0 236.6,119.8ZM332.9,129.6 334.8,129.0 335.8,130.7 334.2,131.7ZM425.0,108.9 428.8,108.0 429.8,109.3 426.3,110.8ZM89.8,261.0 91.0,259.5 94.8,259.2 96.7,261.0ZM204.3,226.1 206.5,225.5 206.2,229.3 204.9,233.3 203.0,232.8 203.6,229.3ZM208.7,236.6 210.8,236.2 211.2,238.4 209.3,238.9ZM199.9,246.7 202.4,245.9 203.0,248.2 200.7,249.2ZM195.5,250.7 198.6,250.1 199.2,252.6 196.7,253.5ZM344.3,207.3 347.0,208.2 346.4,210.2 344.8,209.2ZM342.0,213.6 343.3,214.4 342.6,215.7 342.0,215.5ZM94.2,267.3 96.7,267.0 96.3,268.5 94.6,268.8ZM203.0,307.6 206.8,305.3 209.9,304.8 209.3,306.9 206.2,309.4 204.3,309.8ZM199.0,313.2 201.1,312.8 201.5,315.1 199.5,315.9ZM183.5,334.0 185.4,330.8 187.9,328.3 191.7,325.8 192.7,327.4 189.8,330.8 187.3,333.3 185.4,336.2 183.9,335.9ZM224.7,281.1 226.0,276.1 227.6,275.5 226.6,278.6 225.6,281.8ZM132.6,357.5 134.4,356.9 136.3,357.9 135.7,359.4 133.2,359.6ZM137.8,356.9 140.1,355.4 141.6,355.0 141.1,357.5 139.5,358.8 138.2,358.4ZM152.1,350.6 153.9,351.2 155.8,353.3 153.3,353.7 152.4,352.5ZM337.3,157.3 341.8,157.3 342.3,159.8 337.8,160.3ZM220.9,264.0 223.4,263.5 223.9,266.0 221.4,266.5Z"/><path class="coast" style="stroke-width:1.5" d="M169.0,186.5 170.7,188.1 170.7,188.0 171.9,189.8 172.8,190.2 170.9,192.3 171.9,194.0 173.4,194.8 173.1,196.4 172.1,196.9 171.6,197.4 169.1,197.4 168.1,197.2 167.3,199.4 166.0,200.3 165.7,201.1 165.7,203.1 166.6,203.3 167.8,204.7 168.7,206.1 168.7,207.8 170.4,209.2 171.9,211.2 172.6,211.0 171.5,212.6 171.3,213.4 171.0,215.8 169.0,215.4 167.9,216.2 168.1,218.1 168.1,219.5 165.6,222.6 167.2,222.3 167.9,223.3 166.9,226.8 166.6,227.8 164.2,229.3 165.5,229.8 167.8,229.6 170.0,229.0 172.2,229.8 173.5,228.7 174.7,227.9 175.2,227.0 177.1,225.6 178.2,225.7 179.9,226.1 182.5,225.2 183.8,225.9 185.0,224.2 184.8,223.6 186.0,223.2 188.2,224.2 189.9,223.0 191.2,223.2 191.7,222.5 195.0,222.3 195.6,223.0 196.1,224.3M110.5,288.1 110.2,289.4 109.9,291.6 108.6,291.7 106.4,291.0 106.4,292.9 108.5,294.6 110.7,294.6 108.1,296.1 107.7,297.9 106.5,297.7 104.9,298.7 105.7,299.6 107.5,301.3 107.4,304.3 105.2,305.0 105.2,306.6 102.9,305.8 104.0,308.1 106.1,308.2"/><path fill="#000" d="M171.7,186.0 171.1,187.2 169.7,187.2 169.0,186.0 169.7,184.8 171.1,184.8ZM172.2,187.8 171.4,189.0 170.0,189.0 169.2,187.8 170.0,186.5 171.4,186.5ZM171.5,187.3 171.0,188.1 170.1,188.1 169.7,187.3 170.1,186.5 171.0,186.5ZM174.6,188.8 173.9,189.9 172.5,189.9 171.8,188.8 172.5,187.6 173.9,187.6ZM173.6,190.9 173.0,192.0 171.8,192.0 171.2,190.9 171.8,189.9 173.0,189.9ZM171.1,193.6 170.4,194.7 169.2,194.7 168.5,193.6 169.2,192.5 170.4,192.5ZM175.0,193.0 174.3,194.3 172.9,194.3 172.2,193.0 172.9,191.8 174.3,191.8ZM172.6,193.5 172.1,194.4 171.0,194.4 170.5,193.5 171.0,192.7 172.1,192.7ZM174.4,194.0 173.9,194.9 172.8,194.9 172.2,194.0 172.8,193.0 173.9,193.0ZM176.3,195.2 175.7,196.1 174.6,196.1 174.0,195.2 174.6,194.2 175.7,194.2ZM176.4,196.4 175.7,197.6 174.2,197.6 173.5,196.4 174.2,195.1 175.7,195.1ZM173.1,196.9 172.7,197.6 171.9,197.6 171.5,196.9 171.9,196.2 172.7,196.2ZM171.1,195.0 170.4,196.2 169.1,196.2 168.4,195.0 169.1,193.8 170.4,193.8ZM171.2,198.0 170.6,199.0 169.4,199.0 168.8,198.0 169.4,197.0 170.6,197.0ZM170.2,197.6 169.5,198.8 168.1,198.8 167.5,197.6 168.1,196.5 169.5,196.5ZM169.2,196.9 168.7,197.8 167.7,197.8 167.2,196.9 167.7,196.0 168.7,196.0ZM167.8,199.2 167.1,200.4 165.8,200.4 165.1,199.2 165.8,198.0 167.1,198.0ZM166.3,200.1 165.7,201.1 164.5,201.1 164.0,200.1 164.5,199.1 165.7,199.1ZM167.4,200.1 166.8,201.1 165.7,201.1 165.1,200.1 165.7,199.1 166.8,199.1ZM169.1,202.1 168.4,203.3 166.9,203.3 166.2,202.1 166.9,200.8 168.4,200.8ZM167.0,203.1 166.3,204.3 164.8,204.3 164.1,203.1 164.8,201.8 166.3,201.8ZM167.0,202.4 166.4,203.4 165.3,203.4 164.8,202.4 165.3,201.5 166.4,201.5ZM167.8,202.5 167.1,203.6 165.9,203.6 165.2,202.5 165.9,201.4 167.1,201.4ZM171.6,204.8 171.0,206.0 169.7,206.0 169.0,204.8 169.7,203.7 171.0,203.7ZM169.2,208.7 168.4,209.9 166.9,209.9 166.2,208.7 166.9,207.4 168.4,207.4ZM172.3,207.3 171.7,208.3 170.6,208.3 170.0,207.3 170.6,206.3 171.7,206.3ZM173.1,207.8 172.6,208.8 171.5,208.8 170.9,207.8 171.5,206.8 172.6,206.8ZM171.6,208.3 171.1,209.2 170.1,209.2 169.6,208.3 170.1,207.4 171.1,207.4ZM171.7,210.5 171.2,211.4 170.0,211.4 169.5,210.5 170.0,209.5 171.2,209.5ZM173.3,210.9 172.7,211.9 171.6,211.9 171.0,210.9 171.6,209.9 172.7,209.9ZM175.8,212.9 175.0,214.2 173.6,214.2 172.8,212.9 173.6,211.6 175.0,211.6ZM172.3,211.2 171.7,212.4 170.3,212.4 169.6,211.2 170.3,210.1 171.7,210.1ZM171.2,214.1 170.5,215.3 169.0,215.3 168.3,214.1 169.0,212.8 170.5,212.8ZM169.7,213.9 169.0,215.2 167.6,215.2 166.9,213.9 167.6,212.7 169.0,212.7ZM170.5,214.7 170.1,215.4 169.2,215.4 168.8,214.7 169.2,214.0 170.1,214.0ZM169.7,216.4 168.9,217.7 167.5,217.7 166.8,216.4 167.5,215.1 168.9,215.1ZM170.6,217.6 169.9,218.8 168.5,218.8 167.8,217.6 168.5,216.4 169.9,216.4ZM170.2,219.5 169.7,220.4 168.7,220.4 168.2,219.5 168.7,218.6 169.7,218.6ZM169.4,220.3 169.0,221.1 168.1,221.1 167.6,220.3 168.1,219.6 169.0,219.6ZM166.7,220.8 166.3,221.6 165.4,221.6 164.9,220.8 165.4,220.1 166.3,220.1ZM167.0,222.3 166.5,223.2 165.5,223.2 165.0,222.3 165.5,221.4 166.5,221.4ZM167.4,225.1 166.9,225.9 166.0,225.9 165.5,225.1 166.0,224.3 166.9,224.3ZM165.8,224.7 165.4,225.4 164.6,225.4 164.2,224.7 164.6,224.0 165.4,224.0ZM167.4,225.9 166.8,226.9 165.7,226.9 165.1,225.9 165.7,224.9 166.8,224.9ZM164.8,229.7 164.3,230.6 163.2,230.6 162.6,229.7 163.2,228.7 164.3,228.7ZM167.4,228.6 166.9,229.6 165.7,229.6 165.1,228.6 165.7,227.6 166.9,227.6ZM169.0,228.7 168.3,229.9 167.0,229.9 166.3,228.7 167.0,227.5 168.3,227.5ZM168.9,228.7 168.4,229.6 167.3,229.6 166.8,228.7 167.3,227.8 168.4,227.8ZM167.7,227.3 167.0,228.5 165.7,228.5 165.1,227.3 165.7,226.2 167.0,226.2ZM169.4,227.7 168.7,228.9 167.3,228.9 166.6,227.7 167.3,226.5 168.7,226.5ZM173.0,228.1 172.6,228.9 171.6,228.9 171.1,228.1 171.6,227.2 172.6,227.2ZM172.9,227.3 172.3,228.2 171.2,228.2 170.7,227.3 171.2,226.3 172.3,226.3ZM176.2,229.8 175.6,230.8 174.4,230.8 173.8,229.8 174.4,228.8 175.6,228.8ZM177.3,226.6 176.8,227.5 175.7,227.5 175.2,226.6 175.7,225.7 176.8,225.7ZM176.0,227.0 175.4,228.0 174.3,228.0 173.7,227.0 174.3,226.0 175.4,226.0ZM177.8,224.7 177.4,225.6 176.4,225.6 175.9,224.7 176.4,223.9 177.4,223.9ZM178.4,224.6 178.0,225.3 177.2,225.3 176.7,224.6 177.2,223.9 178.0,223.9ZM179.6,226.4 179.0,227.4 177.8,227.4 177.2,226.4 177.8,225.4 179.0,225.4ZM183.4,226.3 182.6,227.5 181.2,227.5 180.5,226.3 181.2,225.1 182.6,225.1ZM182.3,227.1 181.9,227.9 181.0,227.9 180.5,227.1 181.0,226.3 181.9,226.3ZM185.7,222.8 185.1,224.0 183.7,224.0 183.0,222.8 183.7,221.6 185.1,221.6ZM187.1,225.1 186.5,226.3 185.1,226.3 184.4,225.1 185.1,223.9 186.5,223.9ZM187.1,224.1 186.4,225.3 185.0,225.3 184.3,224.1 185.0,222.9 186.4,222.9ZM190.4,223.8 189.7,225.0 188.3,225.0 187.5,223.8 188.3,222.6 189.7,222.6ZM190.4,222.0 190.0,222.8 189.1,222.8 188.7,222.0 189.1,221.3 190.0,221.3ZM190.2,221.4 189.5,222.6 188.1,222.6 187.4,221.4 188.1,220.2 189.5,220.2ZM192.9,223.0 192.3,224.1 191.0,224.1 190.4,223.0 191.0,221.9 192.3,221.9ZM191.6,223.4 191.0,224.6 189.7,224.6 189.0,223.4 189.7,222.3 191.0,222.3ZM194.6,222.5 194.1,223.3 193.3,223.3 192.9,222.5 193.3,221.8 194.1,221.8ZM194.9,221.0 194.4,221.8 193.4,221.8 192.9,221.0 193.4,220.1 194.4,220.1ZM196.1,224.9 195.4,226.2 193.9,226.2 193.2,224.9 193.9,223.6 195.4,223.6ZM112.0,286.9 111.4,288.0 110.2,288.0 109.6,286.9 110.2,285.9 111.4,285.9ZM109.6,292.4 109.0,293.4 107.9,293.4 107.3,292.4 107.9,291.4 109.0,291.4ZM111.0,290.3 110.3,291.5 108.9,291.5 108.2,290.3 108.9,289.1 110.3,289.1ZM107.3,289.5 106.7,290.5 105.6,290.5 105.0,289.5 105.6,288.5 106.7,288.5ZM107.1,290.3 106.6,291.2 105.5,291.2 105.0,290.3 105.5,289.4 106.6,289.4ZM109.0,290.2 108.4,291.3 107.0,291.3 106.4,290.2 107.0,289.0 108.4,289.0ZM107.1,295.5 106.4,296.6 105.1,296.6 104.5,295.5 105.1,294.3 106.4,294.3ZM108.2,294.4 107.7,295.3 106.6,295.3 106.0,294.4 106.6,293.4 107.7,293.4ZM110.7,294.7 110.2,295.7 109.1,295.7 108.5,294.7 109.1,293.8 110.2,293.8ZM109.2,293.8 108.5,295.0 107.1,295.0 106.4,293.8 107.1,292.6 108.5,292.6ZM113.0,294.8 112.5,295.6 111.5,295.6 111.0,294.8 111.5,293.9 112.5,293.9ZM109.2,296.0 108.4,297.3 107.0,297.3 106.2,296.0 107.0,294.8 108.4,294.8ZM110.2,297.9 109.5,299.2 108.0,299.2 107.3,297.9 108.0,296.7 109.5,296.7ZM107.2,299.0 106.8,299.7 106.0,299.7 105.6,299.0 106.0,298.2 106.8,298.2ZM106.3,299.6 105.6,300.7 104.4,300.7 103.8,299.6 104.4,298.5 105.6,298.5ZM104.1,300.8 103.7,301.5 102.8,301.5 102.4,300.8 102.8,300.0 103.7,300.0ZM106.5,299.5 105.8,300.6 104.5,300.6 103.9,299.5 104.5,298.3 105.8,298.3ZM106.8,302.5 106.3,303.4 105.3,303.4 104.8,302.5 105.3,301.6 106.3,301.6ZM107.1,301.4 106.6,302.2 105.7,302.2 105.2,301.4 105.7,300.6 106.6,300.6ZM109.0,303.8 108.5,304.6 107.5,304.6 107.0,303.8 107.5,303.0 108.5,303.0ZM108.1,305.2 107.6,306.0 106.7,306.0 106.3,305.2 106.7,304.4 107.6,304.4ZM104.1,304.9 103.7,305.7 102.8,305.7 102.4,304.9 102.8,304.2 103.7,304.2ZM104.2,306.3 103.5,307.5 102.1,307.5 101.4,306.3 102.1,305.0 103.5,305.0ZM104.6,306.4 104.0,307.4 102.8,307.4 102.3,306.4 102.8,305.4 104.0,305.4ZM104.8,305.4 104.3,306.3 103.3,306.3 102.8,305.4 103.3,304.5 104.3,304.5ZM105.8,308.2 105.2,309.2 104.0,309.2 103.4,308.2 104.0,307.1 105.2,307.1ZM256.5,206.1 256.1,207.1 255.1,207.5 254.1,207.1 253.7,206.1 254.1,205.2 255.1,204.8 256.1,205.2Z"/></g>
<rect x="85.5" y="31.5" width="383.0" height="382.8" fill="none" stroke="#000" stroke-width="1.1"/>
<g clip-path="url(#clipR)">
<clipPath id="clipRt0"><rect x="683" y="30" width="128" height="77"/></clipPath>
<g clip-path="url(#clipRt0)">
<path fill="#ffeabd" d="M787.4,107.0 796.2,99.2 805.0,92.3 811.0,91.9 811.0,107.0Z"/>
</g>
<clipPath id="clipRt1"><rect x="811" y="30" width="128" height="77"/></clipPath>
<g clip-path="url(#clipRt1)">
<path fill="#ffeabd" d="M811.0,91.9 816.0,89.8 823.6,89.1 831.1,89.1 836.2,90.4 857.6,92.9 861.3,91.9 873.9,92.3 881.5,95.4 890.3,96.7 897.8,100.5 901.6,105.5 902.2,107.0 811.0,107.0Z"/>
<path fill="#97fc97" d="M823.0,104.9 827.4,102.3 829.9,104.2 829.9,107.0 823.6,107.0ZM848.7,103.0 855.0,104.2 861.3,107.0 850.0,107.0Z"/>
</g>
<clipPath id="clipRt2"><rect x="683" y="107" width="128" height="77"/></clipPath>
<g clip-path="url(#clipRt2)">
<path fill="#ffeabd" d="M786.4,107.0 811.0,107.0 811.0,184.0 763.5,184.0 763.5,172.4 771.1,166.1 776.1,159.8 776.7,152.3 779.9,146.0 783.7,142.2 783.0,129.6 786.2,123.4Z"/>
<path fill="#dcfec9" d="M788.7,109.5 796.2,108.3 800.6,112.0 798.8,116.4 791.2,117.1 788.1,113.9ZM778.6,147.3 782.4,143.5 787.4,142.9 791.2,144.7 796.2,148.5 796.2,154.2 793.7,157.3 793.7,163.6 795.0,169.9 792.5,173.7 786.2,174.9 771.1,174.9 763.5,174.9 763.5,171.2 771.1,165.5 776.1,159.2 776.7,152.9ZM797.5,136.6 803.8,135.3 806.3,137.8 802.5,141.6 798.1,140.3Z"/>
<path fill="#97fc97" d="M776.7,153.6 779.9,147.9 783.7,147.3 787.4,148.5 793.7,149.1 795.6,151.7 793.7,154.8 788.7,156.1 791.2,159.8 792.5,163.6 791.2,168.7 793.7,172.4 789.9,177.5 786.2,182.5 783.7,184.0 738.4,184.0 748.4,180.0 758.5,177.5 763.5,172.4 771.1,166.8 776.1,161.1 777.4,157.3ZM782.4,143.5 787.4,142.9 788.1,145.4 783.7,146.0Z"/>
<path fill="#64fcff" d="M738.4,184.0 743.4,181.2 750.9,179.3 761.0,178.1 766.0,173.7 771.1,171.2 776.1,169.9 778.6,167.4 783.7,169.9 789.9,171.2 791.2,173.7 787.4,177.5 783.7,182.5 782.4,184.0Z"/>
<path fill="#00c3ff" d="M739.6,184.0 745.9,181.2 753.5,179.3 761.0,178.7 767.3,174.9 773.6,172.4 783.7,171.2 786.2,173.1 782.4,177.5 778.6,181.2 776.1,184.0Z"/>
<path fill="#0063ff" d="M777.9,175.8 777.7,176.3 777.3,176.6 776.7,176.8 776.0,176.8 775.4,176.6 775.0,176.3 774.8,175.8 775.0,175.4 775.4,175.0 776.0,174.8 776.7,174.8 777.3,175.0 777.7,175.4ZM764.8,178.7 771.1,178.1 770.4,180.0 765.4,180.2ZM739.0,184.0 740.2,182.5 742.8,182.9 743.4,184.0Z"/>
</g>
<clipPath id="clipRt3"><rect x="811" y="107" width="128" height="77"/></clipPath>
<g clip-path="url(#clipRt3)">
<path fill="#ffeabd" d="M811.0,107.0 901.6,107.0 904.7,110.8 905.1,128.4 901.6,130.9 901.0,135.9 896.6,140.3 889.0,142.9 882.7,147.3 855.0,147.9 850.0,151.0 846.9,154.8 847.5,159.8 852.5,164.2 854.4,168.7 856.9,172.4 856.9,184.0 811.0,184.0Z"/>
<path fill="#97fc97" d="M831.1,107.0 830.7,107.7 829.5,108.2 827.7,108.5 825.7,108.5 824.0,108.2 822.8,107.7 822.3,107.0 822.8,106.3 824.0,105.8 825.7,105.5 827.7,105.5 829.5,105.8 830.7,106.3ZM858.8,107.0 858.3,108.0 856.9,108.8 854.9,109.2 852.7,109.2 850.6,108.8 849.2,108.0 848.7,107.0 849.2,106.0 850.6,105.2 852.7,104.8 854.9,104.8 856.9,105.2 858.3,106.0Z"/>
</g>
<clipPath id="clipRt4"><rect x="555" y="184" width="128" height="77"/></clipPath>
<g clip-path="url(#clipRt4)">
<path fill="#dcfec9" d="M655.7,234.3 659.4,226.8 663.2,223.0 668.2,221.7 683.0,221.7 683.0,261.0 659.4,261.0 655.0,253.2 654.4,244.4Z"/>
<path fill="#ffeabd" d="M658.2,228.0 664.5,224.3 672.0,225.5 680.8,229.3 679.6,234.3 673.3,233.1 665.7,231.8 659.4,231.2Z"/>
<path fill="#64fcff" d="M668.2,219.2 673.3,216.7 679.6,214.2 683.0,213.9 683.0,221.7 674.5,221.7 670.8,221.1Z"/>
<path fill="#00c3ff" d="M675.8,218.0 683.0,217.0 683.0,220.5 675.8,221.1Z"/>
<path fill="#97fc97" d="M672.0,239.4 674.5,236.8 683.0,238.1 683.0,255.7 678.3,254.5 674.5,250.7 672.6,244.4Z"/>
<path fill="#64fcff" d="M655.0,235.6 661.9,234.3 668.2,236.8 672.0,240.6 670.8,246.9 672.6,254.5 675.8,257.0 683.0,257.0 683.0,261.0 660.7,261.0 655.7,254.5 655.0,244.4Z"/>
<path fill="#00c3ff" d="M655.3,237.5 660.7,235.6 665.7,238.1 667.6,243.1 665.7,248.2 668.2,254.5 673.3,257.6 683.0,258.2 683.0,261.0 661.9,261.0 656.9,254.5 655.7,246.9Z"/>
<path fill="#0063ff" d="M655.7,238.1 660.1,236.8 664.5,240.0 665.7,243.8 661.9,245.7 659.4,246.9 661.9,250.7 665.7,253.8 663.2,255.7 658.2,251.9 655.7,246.9ZM664.5,261.0 668.2,258.9 683.0,259.2 683.0,261.0Z"/>
</g>
<clipPath id="clipRt5"><rect x="683" y="184" width="128" height="77"/></clipPath>
<g clip-path="url(#clipRt5)">
<path fill="#ffeabd" d="M683.0,184.0 811.0,184.0 811.0,261.0 683.0,261.0Z"/>
<path fill="#dcfec9" d="M683.0,214.2 689.3,211.1 690.5,202.9 737.1,184.0 783.7,184.0 778.6,191.5 774.8,197.8 775.5,206.6 776.1,212.9 771.1,219.2 763.5,221.7 761.0,226.8 763.5,231.8 771.1,234.3 766.0,240.6 761.0,243.1 758.5,249.4 753.5,254.5 748.4,261.0 683.0,261.0ZM778.6,254.5 783.7,246.9 791.2,240.6 796.2,231.8 798.8,224.3 811.0,221.7 811.0,244.4 803.8,248.2 796.2,252.6 778.6,252.9Z"/>
<path fill="#97fc97" d="M683.0,213.9 689.3,211.1 690.5,206.0 701.9,205.4 713.2,204.8 718.2,204.1 720.7,208.5 725.8,209.2 733.3,205.4 745.9,204.8 753.5,202.9 761.0,200.4 768.6,197.8 771.1,191.5 776.1,187.8 782.4,184.0 787.4,184.0 781.1,190.3 776.1,194.1 773.6,200.4 775.5,206.6 773.6,212.9 768.6,218.0 763.5,220.5 758.5,221.7 753.5,220.5 748.4,216.7 742.1,215.5 733.3,216.1 724.5,216.7 718.2,217.3 713.2,219.9 708.2,222.4 700.6,224.3 694.3,223.0 688.0,220.5 683.0,219.9ZM683.0,243.1 690.5,240.6 695.6,243.1 701.9,244.4 708.2,243.1 713.2,239.4 720.7,234.3 730.8,231.8 738.4,228.0 745.9,225.5 750.9,226.8 748.4,234.3 753.5,240.6 761.0,243.1 763.5,238.1 768.6,234.3 771.1,236.8 768.6,241.9 763.5,245.7 761.0,251.9 758.5,257.0 753.5,261.0 683.0,261.0Z"/>
<path fill="#ffeabd" d="M763.5,245.7 768.6,239.4 773.6,234.3 781.1,231.8 786.2,236.8 787.4,243.1 783.7,248.2 778.6,252.9 773.6,250.7 771.1,254.5 763.5,261.0 758.5,261.0 761.0,251.9Z"/>
<path fill="#dcfec9" d="M786.2,236.8 791.2,231.8 796.2,226.8 801.3,223.0 811.0,221.7 811.0,244.4 803.8,246.9 796.2,248.2 791.2,246.9 787.4,243.1Z"/>
<path fill="#97fc97" d="M796.9,228.0 801.3,224.5 810.1,224.9 811.0,234.3 811.0,243.1 806.3,245.4 801.3,243.8 798.5,236.8Z"/>
<path fill="#dcfec9" d="M753.5,249.4 758.5,246.9 763.5,249.4 762.3,255.7 758.5,261.0 750.9,261.0Z"/>
<path fill="#ffeabd" d="M730.8,236.8 738.4,234.3 740.9,236.8 738.4,240.6 733.3,241.2ZM695.6,225.5 708.2,223.0 715.7,224.3 713.2,226.8 703.1,228.0 696.8,228.0ZM683.0,220.5 690.5,218.0 699.4,217.0 704.4,219.2 700.6,221.5 690.5,222.4 683.0,224.3ZM730.8,211.4 738.4,208.9 745.9,209.4 748.4,212.3 742.1,213.6 733.3,214.2Z"/>
<path fill="#64fcff" d="M689.9,210.4 690.5,202.9 695.6,196.6 703.1,191.5 709.4,187.8 738.4,184.0 781.1,184.0 776.1,189.0 771.1,192.8 766.0,196.6 758.5,200.4 750.9,202.2 743.4,203.5 733.3,204.8 725.8,208.5 720.7,207.9 718.2,204.1 708.2,204.8 698.1,205.4 690.5,206.0ZM763.5,214.2 768.6,209.2 773.6,208.5 776.1,211.7 773.6,216.7 768.6,219.2 764.8,218.0ZM735.8,220.5 740.9,218.6 745.9,220.5 743.4,223.0 738.4,223.0ZM690.5,245.7 695.6,243.1 699.4,246.9 696.8,251.9 691.8,250.7ZM708.2,249.4 713.2,246.9 718.2,249.4 723.3,246.9 733.3,245.7 740.9,243.1 745.9,245.7 745.9,250.7 740.9,254.5 733.3,257.0 728.3,261.0 705.6,261.0 706.9,254.5ZM759.7,234.3 764.8,231.8 769.8,231.8 768.6,235.6 763.5,238.1ZM798.8,225.5 803.8,223.0 811.0,223.0 811.0,243.1 806.3,244.4 801.3,241.9 800.0,234.3ZM779.9,252.6 783.7,248.2 788.7,245.7 793.7,248.2 796.2,252.6Z"/>
<path fill="#00c3ff" d="M693.1,201.0 698.1,195.3 703.1,191.5 709.4,188.2 737.1,184.0 778.6,184.0 773.6,189.0 768.6,193.4 761.0,195.3 753.5,196.0 745.9,196.6 738.4,200.4 733.3,202.9 725.8,201.6 718.2,202.2 708.2,202.9 698.1,204.1 693.7,204.1Z"/>
<path fill="#64fcff" d="M733.3,201.6 739.6,196.6 745.9,191.5 750.9,187.8 753.5,186.5 756.0,189.0 750.9,192.8 745.9,196.6 738.4,201.0Z"/>
<path fill="#00c3ff" d="M762.3,233.7 766.0,232.4 767.3,235.6 763.5,237.5Z"/>
<path fill="#0063ff" d="M766.7,235.6 766.5,236.2 766.0,236.8 765.2,237.1 764.4,237.1 763.6,236.8 763.1,236.2 762.9,235.6 763.1,234.9 763.6,234.4 764.4,234.1 765.2,234.1 766.0,234.4 766.5,234.9Z"/>
<path fill="#00c3ff" d="M733.3,251.9 738.4,250.1 740.9,252.6 738.4,255.1 734.6,254.5ZM713.2,258.2 717.0,256.3 719.5,261.0 713.2,261.0ZM738.4,241.2 742.1,241.2 742.1,243.8 739.0,243.8ZM800.0,226.8 803.8,225.5 805.0,229.3 802.5,232.4 800.0,230.6ZM803.2,240.0 805.7,238.7 807.6,241.9 805.0,245.0 803.2,243.1ZM807.6,233.1 811.0,231.8 811.0,238.1 808.2,237.5ZM783.7,252.6 786.2,248.2 789.9,246.3 792.5,249.4 794.3,252.6Z"/>
<path fill="#0063ff" d="M693.7,200.4 695.6,196.0 703.1,192.2 710.1,188.4 714.5,189.0 724.5,190.3 725.1,192.8 719.5,195.3 713.2,198.5 708.2,199.7 698.1,201.0ZM738.4,184.0 743.4,184.0 742.1,185.9 738.4,186.5ZM755.3,192.2 761.0,189.0 767.3,185.3 771.1,184.0 769.8,187.8 764.8,191.5 759.7,194.1ZM787.4,252.6 788.1,249.4 789.9,248.2 791.8,250.7 791.2,252.6ZM683.0,255.7 688.0,254.5 689.3,259.5 683.0,261.0ZM713.2,259.5 715.7,257.6 718.2,261.0Z"/>
<path fill="#fff" d="M683.0,184.0 738.4,184.0 735.8,186.5 727.0,187.8 709.4,187.8 701.9,191.5 694.3,196.6 690.5,202.9 689.3,211.1 683.0,214.2ZM763.5,261.0 771.1,254.5 773.6,250.7 777.4,252.9 796.2,252.9 803.8,248.4 811.0,244.6 811.0,261.0Z"/>
</g>
<clipPath id="clipRt6"><rect x="811" y="184" width="128" height="77"/></clipPath>
<g clip-path="url(#clipRt6)">
<path fill="#ffeabd" d="M811.0,184.0 856.9,184.0 853.8,189.0 848.7,196.6 844.0,202.9 844.0,218.0 840.6,224.3 836.2,230.6 831.1,234.3 824.8,236.8 818.5,239.4 813.5,243.1 811.0,244.4Z"/>
<path fill="#dcfec9" d="M830.5,227.8 830.3,228.9 829.6,229.8 828.5,230.2 827.4,230.2 826.4,229.8 825.7,228.9 825.5,227.8 825.7,226.7 826.4,225.8 827.4,225.3 828.5,225.3 829.6,225.8 830.3,226.7ZM811.0,221.7 817.3,223.0 821.7,230.6 823.6,234.3 818.5,238.7 811.0,244.4Z"/>
<path fill="#97fc97" d="M811.0,223.0 816.0,224.3 819.8,230.6 818.5,236.8 813.5,241.9 811.0,243.1Z"/>
<path fill="#64fcff" d="M811.0,226.8 815.4,227.4 817.9,231.8 816.0,236.2 811.0,238.1Z"/>
<path fill="#00c3ff" d="M811.0,229.9 814.8,229.9 816.7,233.1 814.1,235.6 811.0,236.2Z"/>
</g>
<clipPath id="clipRt7"><rect x="555" y="261" width="128" height="77"/></clipPath>
<g clip-path="url(#clipRt7)">
<path fill="#ffeabd" d="M663.8,261.0 683.0,261.0 683.0,338.0 585.2,338.0 590.2,334.6 602.8,329.6 614.1,329.6 619.2,331.5 622.9,328.9 626.7,321.4 630.5,316.4 638.0,311.3 643.1,307.6 645.0,301.3 645.6,296.2 650.6,291.2 654.4,286.8 660.7,283.6 663.8,277.4 663.8,268.5Z"/>
<path fill="#97fc97" d="M664.5,268.5 672.0,269.8 677.7,273.6 681.4,278.0 683.0,283.6 679.6,283.0 674.5,284.9 668.2,284.3 665.7,279.9 668.2,274.8Z"/>
<path fill="#64fcff" d="M663.8,261.0 683.0,261.0 683.0,283.0 679.6,282.4 680.8,277.4 677.7,273.0 672.0,269.2 664.5,267.9Z"/>
<path fill="#00c3ff" d="M663.8,261.0 683.0,261.0 683.0,270.4 678.9,267.3 672.0,265.0 664.2,264.5Z"/>
<path fill="#0063ff" d="M666.3,261.0 683.0,261.0 683.0,267.0 678.9,265.0 672.0,263.3Z"/>
<path fill="#dcfec9" d="M672.0,279.9 675.8,278.6 678.3,281.8 675.8,284.3 672.6,283.0ZM675.8,295.6 675.4,297.0 674.4,298.1 672.9,298.7 671.2,298.7 669.7,298.1 668.6,297.0 668.2,295.6 668.6,294.2 669.7,293.1 671.2,292.5 672.9,292.5 674.4,293.1 675.4,294.2Z"/>
<path fill="#97fc97" d="M674.9,297.2 674.8,297.7 674.5,298.0 674.1,298.2 673.7,298.2 673.3,298.0 673.0,297.7 672.9,297.2 673.0,296.8 673.3,296.4 673.7,296.3 674.1,296.3 674.5,296.4 674.8,296.8ZM650.0,310.1 649.9,311.1 649.5,311.8 649.0,312.3 648.5,312.3 647.9,311.8 647.6,311.1 647.5,310.1 647.6,309.1 647.9,308.3 648.5,307.9 649.0,307.9 649.5,308.3 649.9,309.1ZM634.9,325.2 638.0,322.7 645.6,321.4 648.1,323.9 645.6,327.7 640.6,329.6 636.2,328.3Z"/>
<path fill="#64fcff" d="M637.4,325.2 641.8,323.7 645.6,324.5 643.7,327.7 639.3,328.3Z"/>
<path fill="#97fc97" d="M632.0,332.3 631.6,333.1 630.5,333.7 628.9,334.1 627.1,334.1 625.5,333.7 624.3,333.1 623.9,332.3 624.3,331.6 625.5,331.0 627.1,330.6 628.9,330.6 630.5,331.0 631.6,331.6ZM588.3,338.0 591.5,334.6 595.3,335.2 597.1,338.0ZM681.4,300.0 683.0,299.4 683.0,305.0 681.8,304.4Z"/>
</g>
<clipPath id="clipRt8"><rect x="683" y="261" width="128" height="77"/></clipPath>
<g clip-path="url(#clipRt8)">
<path fill="#ffeabd" d="M683.0,261.0 762.3,261.0 756.0,267.3 750.9,269.8 745.9,272.3 727.0,273.0 725.8,287.4 720.7,292.5 715.7,298.7 708.2,305.0 706.3,316.4 701.9,322.7 693.1,328.9 685.5,334.0 683.0,336.5Z"/>
<path fill="#dcfec9" d="M683.0,261.0 753.5,261.0 750.9,266.0 745.9,271.7 727.0,272.6 725.8,286.2 714.5,286.2 708.2,283.6 700.6,282.4 693.1,284.9 683.0,286.2Z"/>
<path fill="#97fc97" d="M683.0,261.0 752.2,261.0 749.7,266.0 745.3,271.1 738.4,268.5 730.8,266.0 726.4,263.5 725.8,272.3 725.5,284.9 718.2,285.5 711.9,284.9 708.2,281.1 701.9,279.9 695.6,282.4 688.0,284.9 683.0,284.9Z"/>
<path fill="#dcfec9" d="M727.0,264.1 730.8,261.6 735.8,263.5 742.1,266.7 744.7,269.8 738.4,269.2 732.1,267.3Z"/>
<path fill="#64fcff" d="M683.0,261.0 713.2,261.0 711.9,266.0 714.5,271.1 719.5,274.8 724.5,272.3 729.6,271.1 725.8,273.6 720.7,277.4 715.7,278.0 710.7,274.8 706.9,271.1 701.9,268.5 699.4,273.6 695.6,277.4 690.5,283.6 683.0,285.5ZM733.3,261.0 742.1,261.0 739.6,263.5 734.6,263.5ZM746.5,265.8 746.4,266.4 745.8,267.0 745.1,267.3 744.2,267.3 743.5,267.0 743.0,266.4 742.8,265.8 743.0,265.1 743.5,264.6 744.2,264.3 745.1,264.3 745.8,264.6 746.4,265.1Z"/>
<path fill="#97fc97" d="M698.1,274.8 708.2,273.6 714.5,278.6 713.2,283.6 708.2,281.8 700.6,279.9Z"/>
<path fill="#00c3ff" d="M683.0,261.0 695.6,261.0 694.3,266.0 690.5,271.1 683.0,272.3ZM708.2,269.8 711.9,264.8 713.2,261.0 724.5,261.0 725.8,266.0 729.6,270.4 724.5,273.0 719.5,274.8 715.7,277.4 710.7,273.6Z"/>
<path fill="#0063ff" d="M683.0,261.0 688.0,261.0 686.8,266.0 683.0,267.3ZM713.2,268.5 714.5,263.5 717.0,261.0 722.0,261.0 723.3,266.0 720.7,269.8 717.0,272.3 713.8,273.6Z"/>
<path fill="#97fc97" d="M683.0,300.6 686.8,300.0 688.7,303.8 686.8,307.6 683.0,306.9ZM695.6,297.5 699.4,296.2 701.9,301.3 701.2,307.6 698.1,308.8 696.2,303.8ZM715.1,297.7 714.9,298.9 714.4,299.9 713.6,300.4 712.8,300.4 712.0,299.9 711.5,298.9 711.3,297.7 711.5,296.5 712.0,295.6 712.8,295.0 713.6,295.0 714.4,295.6 714.9,296.5ZM720.1,296.0 720.0,296.8 719.5,297.5 718.9,297.8 718.3,297.8 717.7,297.5 717.2,296.8 717.1,296.0 717.2,295.2 717.7,294.5 718.3,294.1 718.9,294.1 719.5,294.5 720.0,295.2Z"/>
<path fill="#64fcff" d="M707.4,306.5 707.2,307.5 706.7,308.3 706.0,308.8 705.3,308.8 704.5,308.3 704.1,307.5 703.9,306.5 704.1,305.6 704.5,304.8 705.3,304.3 706.0,304.3 706.7,304.8 707.2,305.6Z"/>
</g>
<clipPath id="clipRt9"><rect x="555" y="338" width="128" height="77"/></clipPath>
<g clip-path="url(#clipRt9)">
<path fill="#ffeabd" d="M582.1,338.0 683.0,338.0 683.0,350.6 678.3,354.4 673.3,357.5 665.7,361.3 643.1,361.3 638.0,361.9 636.8,368.2 633.0,374.5 628.0,379.5 620.4,382.7 597.8,383.3 591.5,380.8 586.5,375.7 582.1,370.7 578.3,363.2 578.9,350.6 580.8,343.0Z"/>
<path fill="#97fc97" d="M590.9,338.0 599.0,338.0 602.2,341.1 599.0,343.0 594.0,341.1Z"/>
<path fill="#dcfec9" d="M585.2,350.0 592.1,348.1 594.0,353.1 591.5,359.4 587.1,361.3 584.6,355.6Z"/>
<path fill="#97fc97" d="M586.5,350.6 591.5,349.3 592.7,353.1 590.2,358.1 587.1,360.0 585.8,355.6Z"/>
<path fill="#dcfec9" d="M609.1,366.9 615.4,363.2 621.7,364.4 624.2,368.2 620.4,373.2 615.4,374.5 611.0,371.3ZM626.1,358.8 630.5,357.5 630.5,361.3 626.7,361.9Z"/>
<path fill="#97fc97" d="M581.4,368.2 583.3,363.2 587.7,361.9 592.7,364.4 596.5,367.6 599.0,369.5 597.8,373.2 595.3,375.7 594.0,379.5 591.5,380.1 587.7,377.0 583.9,373.9 582.1,371.3Z"/>
<path fill="#64fcff" d="M584.6,369.5 585.8,366.3 589.6,365.1 592.7,368.2 592.1,372.0 589.0,373.9 585.8,372.6Z"/>
<path fill="#00c3ff" d="M590.6,369.7 590.4,371.1 589.8,372.2 588.8,372.8 587.8,372.8 586.9,372.2 586.3,371.1 586.1,369.7 586.3,368.3 586.9,367.2 587.8,366.6 588.8,366.6 589.8,367.2 590.4,368.3Z"/>
</g>
</g>
<line x1="618.55" y1="31.5" x2="618.55" y2="414.3" class="grid"/>
<text x="618.9" y="424.7" font-size="8.7" text-anchor="middle" textLength="22.2" lengthAdjust="spacingAndGlyphs" xml:space="preserve">125°E</text>
<line x1="682.32" y1="31.5" x2="682.32" y2="414.3" class="grid"/>
<text x="682.7" y="424.7" font-size="8.7" text-anchor="middle" textLength="22.2" lengthAdjust="spacingAndGlyphs" xml:space="preserve">130°E</text>
<line x1="746.10" y1="31.5" x2="746.10" y2="414.3" class="grid"/>
<text x="746.5" y="424.7" font-size="8.7" text-anchor="middle" textLength="22.2" lengthAdjust="spacingAndGlyphs" xml:space="preserve">135°E</text>
<line x1="809.88" y1="31.5" x2="809.88" y2="414.3" class="grid"/>
<text x="810.3" y="424.7" font-size="8.7" text-anchor="middle" textLength="22.2" lengthAdjust="spacingAndGlyphs" xml:space="preserve">140°E</text>
<line x1="873.65" y1="31.5" x2="873.65" y2="414.3" class="grid"/>
<text x="874.0" y="424.7" font-size="8.7" text-anchor="middle" textLength="22.2" lengthAdjust="spacingAndGlyphs" xml:space="preserve">145°E</text>
<line x1="555.5" y1="349.55" x2="938.5" y2="349.55" class="grid"/>
<text x="550.0" y="352.2" font-size="8.7" text-anchor="end" textLength="18.6" lengthAdjust="spacingAndGlyphs" xml:space="preserve">25°N</text>
<line x1="555.5" y1="285.80" x2="938.5" y2="285.80" class="grid"/>
<text x="550.0" y="288.4" font-size="8.7" text-anchor="end" textLength="18.6" lengthAdjust="spacingAndGlyphs" xml:space="preserve">30°N</text>
<line x1="555.5" y1="222.05" x2="938.5" y2="222.05" class="grid"/>
<text x="550.0" y="224.7" font-size="8.7" text-anchor="end" textLength="18.6" lengthAdjust="spacingAndGlyphs" xml:space="preserve">35°N</text>
<line x1="555.5" y1="158.30" x2="938.5" y2="158.30" class="grid"/>
<text x="550.0" y="160.9" font-size="8.7" text-anchor="end" textLength="18.6" lengthAdjust="spacingAndGlyphs" xml:space="preserve">40°N</text>
<line x1="555.5" y1="94.55" x2="938.5" y2="94.55" class="grid"/>
<text x="550.0" y="97.2" font-size="8.7" text-anchor="end" textLength="18.6" lengthAdjust="spacingAndGlyphs" xml:space="preserve">45°N</text>
<text x="745.7" y="26" font-size="12.12" text-anchor="middle" xml:space="preserve">Daily Radar-AMeDAS analysis for 20250928</text>
<g clip-path="url(#clipR)"><path class="coast" d="M686.8,70.9 689.3,69.0 693.1,66.7 699.4,66.2 706.9,65.6 710.1,63.7 713.2,60.8 716.3,57.1 722.0,54.5 726.4,54.9 730.8,53.0 737.1,51.4 743.4,50.8 745.9,50.1 747.2,47.6 752.2,46.1 757.2,45.3 761.6,43.2 763.5,40.1 765.4,36.9 767.9,36.9 769.8,35.7 769.2,33.1 766.0,32.3 762.3,32.5 761.0,35.0M696.8,59.9 701.9,60.4 708.2,60.2 713.2,59.9M708.2,91.7 711.3,89.8 715.1,89.4 718.2,91.4 718.6,94.2 716.7,97.3 714.5,98.9 712.6,100.2 710.1,98.9 708.8,96.7 709.4,94.4ZM753.5,107.0 756.0,103.0 759.7,100.5 763.5,96.7 768.6,92.3 773.6,87.9 779.9,83.5 784.9,78.4 788.7,73.4 791.2,69.0 795.0,65.2 798.8,60.8 803.8,55.8 808.8,52.6 811.0,51.4M817.3,31.9 816.7,36.3 814.8,40.1 813.5,43.8 812.9,47.6 811.6,51.4 811.0,52.0M838.1,31.9 837.4,36.3 836.2,41.3 833.6,46.4 835.5,50.1 838.1,55.2 836.8,60.2 835.5,66.5 835.5,70.3 833.6,74.0 834.3,78.4 836.2,82.2 838.1,80.3 839.3,77.2 841.8,73.4 845.0,72.1 848.7,73.4 852.5,74.0 853.8,77.2 854.4,81.0 856.0,77.2 855.0,71.5 851.3,70.9 849.4,66.5 847.5,64.0 844.3,61.5 842.5,57.7 843.1,52.6 845.0,48.9 846.9,43.8 848.7,40.7 852.5,39.4 857.6,39.1 862.6,40.1 865.1,42.0 868.2,44.5 870.1,47.6 869.5,45.1 866.4,42.0 864.5,38.8 863.2,35.0 862.0,31.9M831.1,107.0 831.8,101.7 831.1,96.7 830.5,91.7 831.8,89.1 834.3,87.6 836.8,89.1 839.3,91.7 842.5,94.8 845.6,97.9 848.7,100.5 852.5,103.0 857.6,105.2 862.6,105.9 865.1,107.0M897.8,100.5 900.3,98.6 904.1,96.1 907.3,93.5 910.4,91.0 911.7,88.9 912.9,90.4 911.7,92.9 907.9,95.2 904.7,97.9 901.0,100.7 898.8,101.7ZM911.7,92.3 915.4,91.0 919.2,88.5 922.3,87.4 923.9,88.5 922.3,90.4 918.6,91.4 915.4,92.7 912.9,93.5ZM930.3,87.2 932.4,84.7 935.6,82.2 938.1,81.0 938.5,82.2 936.2,84.7 933.0,86.9 931.2,87.9ZM872.7,107.0 875.2,104.2 878.3,102.7 877.1,105.5 875.8,107.0M882.7,107.0 885.2,103.6 888.4,100.5 894.0,101.5 891.5,103.0 887.7,104.2 885.2,107.0M556.0,156.7 560.0,154.8 563.2,151.0 567.0,147.3 570.7,146.0 575.1,146.4 578.3,144.7 578.9,147.3 582.1,149.1 583.7,151.7 582.1,155.4 579.5,157.3 575.8,159.8 573.9,162.4 572.6,164.9 575.8,166.1 573.9,169.3 570.1,172.4 569.1,173.7 573.9,172.7 578.3,171.2 582.7,167.4 587.1,164.9 591.5,163.0 596.5,161.4 601.6,160.5 606.6,159.8 609.7,158.6 611.0,160.5 613.5,161.7 616.7,162.4 620.4,163.0 623.6,163.6 624.2,166.8 622.9,169.9 621.1,174.3 624.2,174.9 619.8,176.8 618.5,180.0 616.7,181.9 620.4,183.1 625.5,183.1 628.0,184.0M683.0,132.8 680.8,135.3 678.3,137.8 679.6,141.0 678.9,146.0 674.5,148.5 670.8,151.0 667.0,153.6 661.9,156.1 656.9,157.3 653.1,159.8 650.6,162.4 650.0,166.1 648.7,167.4 650.6,169.3 654.4,170.5 658.2,173.7 661.9,176.2 664.5,180.6 666.3,184.0M683.0,132.2 686.8,129.6 690.5,127.8 691.8,124.6 695.6,124.6 699.4,122.1 703.1,118.3 705.6,115.8 708.2,117.7 711.3,116.4 712.6,119.6 714.5,121.5 719.5,122.7 722.0,123.6 727.0,122.7 732.1,121.5 737.1,119.0 742.1,116.4 747.2,113.3 750.9,110.8 752.8,108.3 753.5,107.0M811.0,123.4 808.8,124.6 807.6,127.1 808.8,130.3 811.0,131.5M811.0,161.1 808.8,166.1 806.9,172.4 805.0,177.5 802.5,182.5 801.3,184.0M787.4,184.0 789.3,180.0 790.6,181.2 791.8,184.0M832.4,107.0 829.9,108.9 828.0,111.4 827.4,114.5 826.1,116.4 823.0,116.8 819.2,116.1 816.0,115.6 814.8,117.1 816.7,119.0 815.4,120.8 812.9,122.7 811.0,123.4M813.5,127.8 816.0,125.9 819.2,125.6 821.7,127.8 823.6,127.1 827.4,125.2 831.1,124.4 836.2,125.9 841.2,128.4 846.2,130.9 851.3,133.4 852.5,130.3 854.4,126.5 857.6,123.4 861.3,120.8 866.4,119.6 871.4,119.6 875.2,118.3 877.7,116.4 875.2,114.5 876.4,112.0 878.9,110.8 881.5,108.9 883.3,107.0M877.7,116.4 881.5,115.8 884.6,114.8 881.5,117.1 878.3,117.3M862.6,107.0 866.4,108.3 871.4,108.3 873.9,107.0M877.7,107.0 879.6,109.5 882.7,108.3 884.0,107.0M813.5,127.8 814.8,130.3 818.5,132.2 822.3,134.1 825.5,135.3 823.0,136.6 819.8,135.3 816.0,136.6 812.9,138.5 811.0,139.1M811.0,131.5 812.3,133.4 811.0,135.3M811.0,147.3 813.5,144.7 814.8,142.2 817.3,141.6 818.5,144.7 819.2,147.3 822.3,147.3 824.2,146.0 823.6,142.9 821.7,141.0 819.8,140.0 823.6,139.5 827.4,140.3 828.6,141.6 828.0,144.7 829.2,148.5 831.1,151.7 833.6,154.8 835.5,159.8 836.5,164.2 835.5,168.7 832.4,172.4 830.5,175.6 829.9,179.3 826.1,179.0 823.0,180.0 821.7,182.5 822.3,184.0M556.0,189.7 556.9,188.4 558.7,188.1 559.9,186.8 561.8,186.2 563.2,186.3 565.6,186.0 566.7,186.5 567.3,186.9 569.3,188.0 569.9,188.2 571.4,189.9 572.9,189.8 574.9,191.0 576.1,190.4 578.1,190.5 580.4,190.0 582.2,190.6 583.5,190.1 585.7,190.3 586.8,190.6 587.4,191.5 588.7,192.0 588.3,192.5 587.4,194.0 587.3,196.1 586.1,197.1 584.6,198.0 582.9,197.3 581.4,197.9 580.8,198.7 579.2,199.0 577.7,198.7 575.2,199.8 574.1,199.2 572.8,200.2 571.2,200.8 569.7,201.1 568.3,202.1 567.5,202.5 566.2,203.8 564.3,205.7 563.2,205.9 560.8,206.6 559.9,208.1 558.4,208.4 557.8,208.3 556.0,209.2M556.0,230.6 558.1,233.7 560.0,238.1 561.9,241.9 564.4,246.3 566.3,250.1 568.8,253.8 572.0,256.3 575.1,258.9 577.0,261.0M618.5,184.6 622.9,185.9 628.0,185.5 633.0,185.3 638.0,186.5M665.1,224.3 667.0,221.1 670.8,220.5 673.3,218.0 675.2,214.2 676.4,209.2 675.2,204.1 674.5,199.1 672.6,194.1 670.1,189.7 667.6,185.9 665.7,184.0M633.3,242.5 635.5,241.2 639.3,240.6 643.1,240.9 644.0,242.1 642.4,243.8 638.7,244.6 634.9,245.0 633.3,243.8ZM694.8,235.1 693.6,233.1 694.0,230.4 695.5,229.2 698.7,228.8 701.4,226.9 704.2,225.3 706.5,223.7 708.9,221.8 711.2,219.8 714.0,217.5 716.3,215.9 719.1,214.9 722.2,214.7 723.8,215.5 726.9,215.3 731.6,215.1 736.3,214.3 741.0,213.5 745.7,213.0 748.9,212.7 749.7,214.3 750.8,215.5 753.6,215.6 756.3,214.7 758.7,213.5 759.9,212.0 759.1,210.0M757.5,222.2 759.5,218.6 760.6,216.7 761.8,216.3 761.4,218.2 759.5,220.6 758.3,222.5ZM694.8,235.1 698.7,234.9 703.4,234.3 706.5,235.3 710.5,235.7 713.2,235.5 715.2,233.9 715.9,232.7 718.3,231.3 722.2,230.0 726.1,229.0 730.1,227.9 733.2,227.1 736.3,225.3 739.5,224.5 742.6,224.5 744.6,226.1 747.3,226.5 750.5,225.7 752.4,226.6 752.2,228.7 750.1,229.5 748.5,230.5 747.5,232.7 747.9,235.5 749.7,237.5 751.2,239.6 753.6,241.2 756.3,241.8 758.5,240.2 759.7,237.6 761.4,234.3 763.0,232.7M710.5,232.1 711.9,230.0 713.6,229.6 715.0,231.3 715.5,233.4 713.2,233.9 710.8,233.5ZM714.0,242.9 710.5,241.8 708.1,242.8 711.2,243.1 714.0,243.9 714.8,247.6 716.7,249.2 719.1,250.8 720.6,250.0 721.4,247.3 723.0,244.5 725.0,242.5 727.3,241.0 730.1,241.0 733.2,242.2 735.2,244.1 736.3,242.9 737.9,241.0 739.5,239.8 741.4,237.8 742.2,235.9 741.4,233.5 739.5,232.0 737.1,231.3 734.0,231.0 731.2,230.5 729.3,231.6 728.1,233.5 725.7,234.5 723.0,235.1 721.4,234.3 719.9,233.4 718.7,234.3 716.7,237.1 715.2,240.2ZM741.4,233.5 742.8,231.2 745.0,229.6 745.7,228.2 745.0,230.5 743.4,232.7 742.2,233.9ZM822.3,184.0 823.6,187.8 824.0,192.8 823.0,196.6 820.4,199.1 818.5,202.9 817.3,206.6 819.2,210.4 821.1,212.7 818.5,214.2 816.3,215.5 815.8,218.6 814.1,220.7 811.0,221.5M562.5,261.0 566.3,264.1 571.4,266.0 576.4,267.5 578.3,269.8 578.9,273.0 576.4,274.8 572.6,276.1 567.6,278.6 563.8,280.5 560.0,282.4 556.0,283.6M556.0,266.0 558.1,267.9 560.7,271.1 559.4,273.6 556.0,274.2M567.6,261.0 572.6,262.9 577.6,264.1 578.9,262.3 577.6,261.0M556.0,283.6 560.0,282.4 563.8,281.1 563.2,284.3 566.3,284.9 571.4,281.8 574.5,283.0 577.6,285.5 580.8,283.6 584.6,285.5 582.1,287.4 579.5,288.1M575.1,308.2 573.5,308.7 572.3,309.9 570.8,309.4 568.7,309.1 568.4,310.6 566.5,311.8 564.9,310.9 564.3,311.0 564.4,312.2 564.1,314.0 563.4,314.8 563.1,315.8 562.4,317.9 562.1,318.9 561.4,320.1 560.3,321.5 559.3,322.6 558.6,323.2 557.2,325.1 555.9,326.1 556.3,328.4 556.0,329.6M687.4,281.1 689.3,279.9 690.5,281.4 689.0,283.0ZM556.0,367.6 557.5,364.4 560.0,360.6 562.5,356.9 565.1,353.1 567.6,350.0 570.7,347.8 573.9,346.2 576.4,346.6 578.9,348.1 580.2,349.6 578.9,351.8 578.3,355.6 577.6,359.4 576.4,363.2 575.1,367.6 573.9,371.3 572.0,375.1 569.5,378.3 567.6,381.4 566.6,385.2 566.1,388.3 564.8,389.3 563.6,387.7 563.2,384.6 560.7,382.7 558.1,380.1 556.3,377.0 556.0,373.2ZM759.0,210.0 761.6,206.6 764.8,204.1 767.3,201.6 769.8,197.8 769.2,194.1 771.1,191.5 774.8,189.7 776.7,190.3 774.8,192.8 772.3,194.1 772.3,196.6 773.6,199.1 776.7,199.7 781.1,197.8 786.2,196.0 790.6,194.1 793.7,190.9 795.6,187.1 797.5,185.3 800.6,184.0M787.4,184.6 789.9,184.0 793.1,184.0 791.2,185.9 788.7,186.3ZM763.0,232.7 764.8,231.8 768.6,231.2 770.4,229.3 768.6,226.1 767.3,223.0 769.8,221.1 771.7,223.6 774.8,224.9 779.9,224.9 783.7,226.1 787.4,226.8 789.9,223.0 792.5,221.1 795.0,223.0 795.6,226.1 798.1,224.3 798.8,220.5 801.3,218.6 803.8,219.2 805.0,216.1 807.6,214.2 810.1,213.6 811.0,214.2M806.9,215.5 808.8,218.6 807.6,221.7 810.1,221.7 811.0,220.5M813.1,141.7 810.1,147.3 808.3,152.3 807.6,157.3 808.8,159.3 810.1,161.1M674.5,243.1 678.3,240.6 683.3,238.1 689.6,236.8 693.9,234.3 695.9,238.1 700.9,239.9 704.7,241.9 703.5,245.7 706.0,249.4 707.2,253.2 704.7,258.2 702.2,263.3 699.7,268.3 695.9,272.1 692.1,273.3 690.4,269.6 690.9,265.8 688.4,267.0 687.1,270.8 684.6,269.6 683.8,264.5 684.6,259.5 685.9,255.7 684.6,251.9 685.9,248.2 683.3,246.9 680.8,245.7 678.3,246.9 675.8,244.4ZM679.6,248.2 682.1,250.7 680.8,254.5 683.3,257.0 682.1,259.5M685.9,248.2 687.9,250.7 687.1,254.5 688.9,257.0 687.1,259.5 688.4,262.5M681.6,249.9 683.8,248.9 684.8,251.4 682.8,252.9Z"/><path class="coast" style="fill:#000;stroke-width:.4" d="M606.3,90.1 609.1,90.4 611.6,91.4 610.4,92.7 607.8,91.9ZM824.6,91.4 826.3,91.0 827.1,92.3 825.8,93.2 824.6,92.7ZM570.7,163.6 573.9,163.0 574.5,165.5 572.0,166.4 570.3,165.1ZM615.6,116.4 617.7,115.6 617.9,117.7 616.4,118.6ZM639.9,110.8 642.4,110.5 644.1,112.0 642.4,113.3 640.6,112.7ZM666.3,109.5 668.9,107.6 670.1,108.3 668.2,110.5ZM617.7,151.0 620.4,150.0 623.2,149.5 622.9,150.8 619.8,152.3 617.9,152.3ZM648.4,166.1 650.6,165.9 651.3,168.0 649.1,168.7ZM704.4,117.1 707.5,115.8 708.2,119.0 705.6,119.8ZM801.9,129.6 803.8,129.0 804.8,130.7 803.2,131.7ZM894.0,108.9 897.8,108.0 898.8,109.3 895.3,110.8ZM558.8,261.0 560.0,259.5 563.8,259.2 565.7,261.0ZM673.3,226.1 675.5,225.5 675.2,229.3 673.9,233.3 672.0,232.8 672.6,229.3ZM677.7,236.6 679.8,236.2 680.2,238.4 678.3,238.9ZM668.9,246.7 671.4,245.9 672.0,248.2 669.7,249.2ZM664.5,250.7 667.6,250.1 668.2,252.6 665.7,253.5ZM813.3,207.3 816.0,208.2 815.4,210.2 813.8,209.2ZM811.0,213.6 812.3,214.4 811.6,215.7 811.0,215.5ZM563.2,267.3 565.7,267.0 565.3,268.5 563.6,268.8ZM672.0,307.6 675.8,305.3 678.9,304.8 678.3,306.9 675.2,309.4 673.3,309.8ZM668.0,313.2 670.1,312.8 670.5,315.1 668.5,315.9ZM652.5,334.0 654.4,330.8 656.9,328.3 660.7,325.8 661.7,327.4 658.8,330.8 656.3,333.3 654.4,336.2 652.9,335.9ZM693.7,281.1 695.0,276.1 696.6,275.5 695.6,278.6 694.6,281.8ZM601.6,357.5 603.4,356.9 605.3,357.9 604.7,359.4 602.2,359.6ZM606.8,356.9 609.1,355.4 610.6,355.0 610.1,357.5 608.5,358.8 607.2,358.4ZM621.1,350.6 622.9,351.2 624.8,353.3 622.3,353.7 621.4,352.5ZM806.3,157.3 810.8,157.3 811.3,159.8 806.8,160.3ZM689.9,264.0 692.4,263.5 692.9,266.0 690.4,266.5Z"/><path class="coast" style="stroke-width:1.5" d="M638.0,186.5 638.9,188.0 640.7,187.3 640.3,188.2 641.7,190.4 641.1,193.6 641.1,193.6 643.1,195.6 642.6,197.0 641.0,196.3 638.7,197.5 638.9,197.5 637.7,197.1 635.0,198.8 635.2,200.6 634.7,200.8 635.4,202.9 637.3,203.5 638.0,205.9 638.7,207.5 638.9,208.2 639.9,209.2 642.4,209.6 640.8,212.2 640.5,212.1 639.6,214.3 638.9,215.8 638.8,216.4 637.3,216.2 636.6,218.6 636.9,220.1 635.0,221.6 636.4,223.4 637.3,225.0 636.2,225.1 635.6,227.0 633.8,229.3 635.7,228.7 636.3,228.5 638.6,230.3 640.7,228.5 641.6,229.1 643.1,226.9 645.4,227.3 647.4,225.8 648.1,226.8 650.0,226.6 649.7,224.9 651.1,224.3 654.1,224.7 655.3,223.9 656.4,223.7 656.4,223.9 659.1,222.2 660.0,222.8 661.0,221.9 662.5,221.2 663.7,223.2 665.1,224.3M579.5,288.1 578.7,290.4 579.2,291.6 577.3,292.5 575.1,292.5 576.5,294.1 576.9,295.4 579.7,295.2 577.4,296.8 575.5,298.3 574.4,297.2 573.1,299.6 574.5,299.6 574.8,301.0 575.8,303.7 575.5,305.5 572.7,305.8 571.7,306.9 574.2,308.0 575.1,308.2"/><path fill="#000" d="M638.6,185.1 638.1,186.0 637.0,186.0 636.5,185.1 637.0,184.2 638.1,184.2ZM639.5,187.2 639.0,188.0 638.1,188.0 637.6,187.2 638.1,186.4 639.0,186.4ZM642.0,187.1 641.6,187.9 640.7,187.9 640.3,187.1 640.7,186.4 641.6,186.4ZM642.2,190.1 641.7,190.8 640.9,190.8 640.4,190.1 640.9,189.3 641.7,189.3ZM642.7,190.1 642.2,191.0 641.2,191.0 640.7,190.1 641.2,189.3 642.2,189.3ZM643.7,191.2 643.1,192.2 641.9,192.2 641.3,191.2 641.9,190.1 643.1,190.1ZM641.9,194.6 641.2,195.9 639.7,195.9 638.9,194.6 639.7,193.3 641.2,193.3ZM641.1,195.0 640.7,195.8 639.7,195.8 639.3,195.0 639.7,194.2 640.7,194.2ZM644.8,194.4 644.1,195.6 642.7,195.6 642.1,194.4 642.7,193.2 644.1,193.2ZM645.1,195.9 644.7,196.7 643.8,196.7 643.3,195.9 643.8,195.1 644.7,195.1ZM644.7,197.1 644.0,198.4 642.5,198.4 641.8,197.1 642.5,195.9 644.0,195.9ZM643.3,196.2 642.8,197.2 641.6,197.2 641.0,196.2 641.6,195.2 642.8,195.2ZM641.0,197.0 640.2,198.3 638.8,198.3 638.1,197.0 638.8,195.8 640.2,195.8ZM640.6,198.3 639.9,199.6 638.4,199.6 637.6,198.3 638.4,197.0 639.9,197.0ZM637.8,199.1 637.1,200.4 635.6,200.4 634.9,199.1 635.6,197.8 637.1,197.8ZM635.9,199.8 635.4,200.8 634.3,200.8 633.8,199.8 634.3,198.9 635.4,198.9ZM636.7,200.3 636.2,201.1 635.3,201.1 634.9,200.3 635.3,199.5 636.2,199.5ZM634.7,199.2 634.1,200.4 632.7,200.4 632.0,199.2 632.7,198.0 634.1,198.0ZM634.4,199.5 633.9,200.4 632.8,200.4 632.3,199.5 632.8,198.5 633.9,198.5ZM635.4,199.8 634.9,200.7 633.9,200.7 633.5,199.8 633.9,199.0 634.9,199.0ZM638.2,200.7 637.6,201.8 636.4,201.8 635.8,200.7 636.4,199.7 637.6,199.7ZM635.3,205.2 634.8,205.9 633.9,205.9 633.5,205.2 633.9,204.4 634.8,204.4ZM638.2,205.4 637.7,206.3 636.7,206.3 636.2,205.4 636.7,204.5 637.7,204.5ZM639.2,205.5 638.5,206.6 637.3,206.6 636.7,205.5 637.3,204.4 638.5,204.4ZM639.0,205.0 638.4,206.1 637.2,206.1 636.5,205.0 637.2,203.9 638.4,203.9ZM638.7,209.1 638.1,210.2 636.7,210.2 636.0,209.1 636.7,207.9 638.1,207.9ZM638.7,208.7 638.3,209.5 637.4,209.5 637.0,208.7 637.4,208.0 638.3,208.0ZM640.7,207.6 640.1,208.6 639.0,208.6 638.5,207.6 639.0,206.7 640.1,206.7ZM640.3,210.7 639.9,211.4 639.0,211.4 638.6,210.7 639.0,209.9 639.9,209.9ZM643.5,211.4 643.0,212.1 642.2,212.1 641.8,211.4 642.2,210.7 643.0,210.7ZM641.6,214.1 641.1,214.9 640.2,214.9 639.8,214.1 640.2,213.3 641.1,213.3ZM644.0,214.9 643.3,216.1 641.9,216.1 641.2,214.9 641.9,213.8 643.3,213.8ZM643.7,214.3 643.0,215.6 641.5,215.6 640.8,214.3 641.5,213.0 643.0,213.0ZM638.3,216.6 637.5,217.8 636.1,217.8 635.4,216.6 636.1,215.3 637.5,215.3ZM638.3,216.6 637.9,217.4 637.0,217.4 636.5,216.6 637.0,215.8 637.9,215.8ZM637.4,219.7 637.0,220.5 636.1,220.5 635.6,219.7 636.1,218.9 637.0,218.9ZM639.8,218.0 639.3,218.8 638.3,218.8 637.8,218.0 638.3,217.1 639.3,217.1ZM636.7,218.3 636.2,219.1 635.3,219.1 634.8,218.3 635.3,217.5 636.2,217.5ZM639.2,221.6 638.5,222.8 637.1,222.8 636.4,221.6 637.1,220.3 638.5,220.3ZM637.9,220.4 637.4,221.4 636.2,221.4 635.6,220.4 636.2,219.4 637.4,219.4ZM637.2,225.3 636.6,226.3 635.4,226.3 634.8,225.3 635.4,224.3 636.6,224.3ZM639.4,223.3 638.7,224.6 637.2,224.6 636.5,223.3 637.2,222.0 638.7,222.0ZM636.3,227.2 635.8,228.0 634.8,228.0 634.3,227.2 634.8,226.3 635.8,226.3ZM636.5,226.8 635.9,228.0 634.5,228.0 633.9,226.8 634.5,225.7 635.9,225.7ZM634.2,228.9 633.7,229.6 632.9,229.6 632.5,228.9 632.9,228.1 633.7,228.1ZM634.3,229.9 633.5,231.2 632.0,231.2 631.3,229.9 632.0,228.6 633.5,228.6ZM636.0,228.6 635.6,229.3 634.8,229.3 634.4,228.6 634.8,228.0 635.6,228.0ZM635.0,229.8 634.4,230.7 633.3,230.7 632.8,229.8 633.3,228.8 634.4,228.8ZM640.0,227.7 639.5,228.5 638.5,228.5 638.0,227.7 638.5,226.9 639.5,226.9ZM638.0,227.5 637.5,228.4 636.4,228.4 635.9,227.5 636.4,226.6 637.5,226.6ZM640.1,228.4 639.5,229.4 638.3,229.4 637.7,228.4 638.3,227.3 639.5,227.3ZM641.2,228.9 640.7,229.9 639.5,229.9 639.0,228.9 639.5,227.9 640.7,227.9ZM644.6,227.0 644.2,227.8 643.3,227.8 642.8,227.0 643.3,226.2 644.2,226.2ZM645.1,228.9 644.4,230.0 643.1,230.0 642.4,228.9 643.1,227.7 644.4,227.7ZM645.1,225.0 644.5,226.1 643.3,226.1 642.6,225.0 643.3,223.9 644.5,223.9ZM646.8,227.2 646.3,228.1 645.1,228.1 644.6,227.2 645.1,226.2 646.3,226.2ZM650.4,225.2 649.7,226.4 648.2,226.4 647.5,225.2 648.2,223.9 649.7,223.9ZM649.3,225.8 648.8,226.6 647.8,226.6 647.3,225.8 647.8,224.9 648.8,224.9ZM651.7,223.8 651.1,224.8 650.0,224.8 649.4,223.8 650.0,222.7 651.1,222.7ZM651.6,223.7 651.0,224.8 649.8,224.8 649.1,223.7 649.8,222.7 651.0,222.7ZM654.0,226.0 653.5,226.8 652.6,226.8 652.2,226.0 652.6,225.2 653.5,225.2ZM654.2,222.6 653.4,223.8 652.0,223.8 651.3,222.6 652.0,221.4 653.4,221.4ZM657.6,221.9 656.9,223.1 655.5,223.1 654.9,221.9 655.5,220.7 656.9,220.7ZM657.6,224.4 657.0,225.4 655.9,225.4 655.3,224.4 655.9,223.5 657.0,223.5ZM656.4,222.2 656.0,222.9 655.2,222.9 654.8,222.2 655.2,221.5 656.0,221.5ZM661.0,223.7 660.3,224.9 658.9,224.9 658.2,223.7 658.9,222.5 660.3,222.5ZM660.5,222.7 659.9,223.6 658.8,223.6 658.3,222.7 658.8,221.7 659.9,221.7ZM663.0,221.2 662.4,222.3 661.1,222.3 660.5,221.2 661.1,220.1 662.4,220.1ZM662.8,223.3 662.4,224.0 661.6,224.0 661.2,223.3 661.6,222.6 662.4,222.6ZM663.9,223.0 663.1,224.3 661.7,224.3 660.9,223.0 661.7,221.8 663.1,221.8ZM665.2,225.5 664.7,226.4 663.6,226.4 663.1,225.5 663.6,224.6 664.7,224.6ZM582.4,289.8 581.7,291.1 580.3,291.1 579.5,289.8 580.3,288.5 581.7,288.5ZM578.8,288.2 578.4,289.0 577.6,289.0 577.2,288.2 577.6,287.5 578.4,287.5ZM580.5,291.9 579.8,293.1 578.4,293.1 577.7,291.9 578.4,290.7 579.8,290.7ZM576.9,289.9 576.4,290.7 575.6,290.7 575.1,289.9 575.6,289.2 576.4,289.2ZM575.4,291.1 574.8,292.0 573.7,292.0 573.2,291.1 573.7,290.1 574.8,290.1ZM575.5,291.0 574.8,292.1 573.5,292.1 572.9,291.0 573.5,289.9 574.8,289.9ZM576.4,295.1 575.9,296.1 574.7,296.1 574.1,295.1 574.7,294.1 575.9,294.1ZM578.5,292.9 577.9,293.9 576.9,293.9 576.3,292.9 576.9,292.0 577.9,292.0ZM580.0,294.5 579.3,295.6 578.0,295.6 577.4,294.5 578.0,293.4 579.3,293.4ZM578.7,296.9 578.3,297.7 577.4,297.7 577.0,296.9 577.4,296.2 578.3,296.2ZM578.3,294.1 577.8,294.9 576.9,294.9 576.4,294.1 576.9,293.3 577.8,293.3ZM580.7,294.7 580.2,295.7 579.0,295.7 578.5,294.7 579.0,293.7 580.2,293.7ZM579.3,295.9 578.7,296.9 577.5,296.9 577.0,295.9 577.5,294.9 578.7,294.9ZM578.7,296.7 578.0,298.0 576.5,298.0 575.8,296.7 576.5,295.5 578.0,295.5ZM574.8,299.1 574.2,300.1 573.1,300.1 572.5,299.1 573.1,298.1 574.2,298.1ZM575.8,297.2 575.2,298.4 573.8,298.4 573.1,297.2 573.8,296.0 575.2,296.0ZM577.1,301.0 576.6,301.9 575.6,301.9 575.0,301.0 575.6,300.1 576.6,300.1ZM575.8,302.8 575.4,303.6 574.5,303.6 574.1,302.8 574.5,302.1 575.4,302.1ZM574.6,302.1 574.1,303.0 573.1,303.0 572.6,302.1 573.1,301.3 574.1,301.3ZM576.6,304.4 575.9,305.6 574.5,305.6 573.7,304.4 574.5,303.2 575.9,303.2ZM576.1,305.3 575.4,306.4 574.1,306.4 573.4,305.3 574.1,304.1 575.4,304.1ZM574.9,305.2 574.4,306.1 573.4,306.1 572.8,305.2 573.4,304.3 574.4,304.3ZM575.6,306.6 574.9,307.7 573.6,307.7 572.9,306.6 573.6,305.4 574.9,305.4ZM573.1,307.5 572.5,308.5 571.3,308.5 570.7,307.5 571.3,306.5 572.5,306.5ZM574.0,308.5 573.5,309.4 572.5,309.4 572.0,308.5 572.5,307.7 573.5,307.7ZM574.9,308.5 574.2,309.7 572.8,309.7 572.1,308.5 572.8,307.3 574.2,307.3ZM725.5,206.1 725.1,207.1 724.1,207.5 723.1,207.1 722.7,206.1 723.1,205.2 724.1,204.8 725.1,205.2Z"/></g>
<text x="561.5" y="406.7" font-size="10" xml:space="preserve">Provided by JWA/JMA</text>
<rect x="810.3" y="271.3" width="105.1" height="104.1" fill="#fff"/>
<clipPath id="clipI"><rect x="810.3" y="271.3" width="105.1" height="104.1"/></clipPath>
<path clip-path="url(#clipI)" d="M811.8,375.3h4.2M813.9,373.2v4.2M819.9,372.7h4.2M822.0,370.6v4.2M811.3,373.8h4.2M813.4,371.7v4.2M813.8,374.1h4.2M815.9,372.0v4.2M809.1,371.2h4.2M811.2,369.1v4.2M813.7,374.0h4.2M815.8,371.9v4.2M813.6,372.1h4.2M815.7,370.0v4.2M829.5,374.7h4.2M831.6,372.6v4.2M834.1,371.4h4.2M836.2,369.3v4.2M812.9,374.2h4.2M815.0,372.1v4.2M816.7,373.8h4.2M818.8,371.7v4.2M811.0,375.2h4.2M813.1,373.1v4.2M811.0,349.7h4.2M813.1,347.6v4.2M834.1,365.2h4.2M836.2,363.1v4.2M808.2,354.3h4.2M810.3,352.2v4.2M822.0,364.4h4.2M824.1,362.3v4.2M809.5,374.6h4.2M811.6,372.5v4.2M811.8,359.2h4.2M813.9,357.1v4.2M814.0,365.4h4.2M816.1,363.3v4.2M810.0,369.8h4.2M812.1,367.7v4.2M816.5,362.3h4.2M818.6,360.2v4.2M819.3,373.4h4.2M821.4,371.3v4.2M822.1,373.6h4.2M824.2,371.5v4.2M819.1,369.3h4.2M821.2,367.2v4.2M809.6,368.7h4.2M811.7,366.6v4.2M813.1,351.5h4.2M815.2,349.4v4.2M808.5,374.0h4.2M810.6,371.9v4.2M809.3,373.4h4.2M811.4,371.3v4.2M813.4,374.1h4.2M815.5,372.0v4.2M810.8,375.0h4.2M812.9,372.9v4.2M816.6,374.8h4.2M818.7,372.7v4.2M818.7,364.3h4.2M820.8,362.2v4.2M811.3,366.9h4.2M813.4,364.8v4.2M817.8,370.5h4.2M819.9,368.4v4.2M808.6,368.0h4.2M810.7,365.9v4.2M810.8,368.3h4.2M812.9,366.2v4.2M811.9,352.6h4.2M814.0,350.5v4.2M809.7,364.4h4.2M811.8,362.3v4.2M816.3,369.3h4.2M818.4,367.2v4.2M808.8,374.0h4.2M810.9,371.9v4.2M831.2,373.4h4.2M833.3,371.3v4.2M809.4,372.9h4.2M811.5,370.8v4.2M813.4,369.9h4.2M815.5,367.8v4.2M808.2,375.4h4.2M810.3,373.3v4.2M812.8,373.9h4.2M814.9,371.8v4.2M814.5,363.4h4.2M816.6,361.3v4.2M808.9,370.1h4.2M811.0,368.0v4.2M811.7,363.7h4.2M813.8,361.6v4.2M829.0,371.4h4.2M831.1,369.3v4.2M810.1,359.6h4.2M812.2,357.5v4.2M808.4,372.4h4.2M810.5,370.3v4.2M811.6,373.9h4.2M813.7,371.8v4.2M815.9,369.9h4.2M818.0,367.8v4.2M810.1,371.4h4.2M812.2,369.3v4.2M816.1,372.5h4.2M818.2,370.4v4.2M808.7,370.8h4.2M810.8,368.7v4.2M809.7,368.1h4.2M811.8,366.0v4.2M809.7,374.3h4.2M811.8,372.2v4.2M823.3,372.4h4.2M825.4,370.3v4.2M810.5,369.6h4.2M812.6,367.5v4.2M816.1,367.1h4.2M818.2,365.0v4.2M819.0,373.2h4.2M821.1,371.1v4.2M811.9,372.0h4.2M814.0,369.9v4.2M813.1,369.0h4.2M815.2,366.9v4.2M814.9,374.9h4.2M817.0,372.8v4.2M811.3,366.2h4.2M813.4,364.1v4.2M808.5,365.1h4.2M810.6,363.0v4.2M816.0,371.5h4.2M818.1,369.4v4.2M812.2,373.1h4.2M814.3,371.0v4.2M817.2,370.5h4.2M819.3,368.4v4.2M810.3,375.2h4.2M812.4,373.1v4.2M811.0,356.4h4.2M813.1,354.3v4.2M815.8,368.0h4.2M817.9,365.9v4.2M826.5,375.2h4.2M828.6,373.1v4.2M814.4,373.8h4.2M816.5,371.7v4.2M811.6,373.9h4.2M813.7,371.8v4.2M811.1,358.0h4.2M813.2,355.9v4.2M816.9,361.4h4.2M819.0,359.3v4.2M808.7,372.7h4.2M810.8,370.6v4.2M818.5,375.1h4.2M820.6,373.0v4.2M809.6,374.8h4.2M811.7,372.7v4.2M819.6,373.4h4.2M821.7,371.3v4.2M811.9,375.3h4.2M814.0,373.2v4.2M809.0,370.0h4.2M811.1,367.9v4.2M818.7,372.3h4.2M820.8,370.2v4.2M810.8,375.1h4.2M812.9,373.0v4.2M808.9,374.2h4.2M811.0,372.1v4.2M809.8,369.1h4.2M811.9,367.0v4.2M811.2,346.9h4.2M813.3,344.8v4.2M810.4,360.9h4.2M812.5,358.8v4.2M808.9,369.8h4.2M811.0,367.7v4.2M813.6,367.4h4.2M815.7,365.3v4.2M811.8,369.8h4.2M813.9,367.7v4.2M818.3,374.2h4.2M820.4,372.1v4.2M813.3,368.8h4.2M815.4,366.7v4.2M818.4,374.1h4.2M820.5,372.0v4.2M811.8,375.2h4.2M813.9,373.1v4.2M815.5,360.2h4.2M817.6,358.1v4.2M811.1,362.7h4.2M813.2,360.6v4.2M815.4,375.3h4.2M817.5,373.2v4.2M812.5,375.0h4.2M814.6,372.9v4.2M810.7,363.3h4.2M812.8,361.2v4.2M809.1,369.2h4.2M811.2,367.1v4.2M808.6,374.5h4.2M810.7,372.4v4.2M828.7,374.7h4.2M830.8,372.6v4.2M809.5,354.3h4.2M811.6,352.2v4.2M810.7,373.6h4.2M812.8,371.5v4.2M808.9,370.2h4.2M811.0,368.1v4.2M808.6,373.5h4.2M810.7,371.4v4.2M809.9,365.2h4.2M812.0,363.1v4.2M809.4,368.8h4.2M811.5,366.7v4.2M823.7,369.4h4.2M825.8,367.3v4.2M826.2,367.7h4.2M828.3,365.6v4.2M809.4,365.5h4.2M811.5,363.4v4.2M820.9,375.3h4.2M823.0,373.2v4.2M809.7,363.9h4.2M811.8,361.8v4.2M818.0,369.2h4.2M820.1,367.1v4.2M809.1,373.1h4.2M811.2,371.0v4.2M810.0,345.9h4.2M812.1,343.8v4.2M809.9,371.9h4.2M812.0,369.8v4.2M816.1,367.2h4.2M818.2,365.1v4.2M813.7,367.5h4.2M815.8,365.4v4.2M821.7,357.0h4.2M823.8,354.9v4.2M809.0,375.2h4.2M811.1,373.1v4.2M824.7,357.3h4.2M826.8,355.2v4.2M811.3,371.6h4.2M813.4,369.5v4.2M816.0,371.3h4.2M818.1,369.2v4.2M809.0,373.3h4.2M811.1,371.2v4.2M810.6,369.1h4.2M812.7,367.0v4.2M809.5,365.6h4.2M811.6,363.5v4.2M831.7,371.8h4.2M833.8,369.7v4.2M813.9,367.8h4.2M816.0,365.7v4.2M819.0,368.0h4.2M821.1,365.9v4.2M813.1,365.8h4.2M815.2,363.7v4.2M808.4,354.3h4.2M810.5,352.2v4.2M823.6,366.5h4.2M825.7,364.4v4.2M809.7,368.0h4.2M811.8,365.9v4.2M808.4,371.6h4.2M810.5,369.5v4.2M809.8,369.2h4.2M811.9,367.1v4.2M810.1,374.7h4.2M812.2,372.6v4.2M818.8,373.2h4.2M820.9,371.1v4.2M813.7,375.3h4.2M815.8,373.2v4.2M813.8,363.7h4.2M815.9,361.6v4.2M818.5,372.4h4.2M820.6,370.3v4.2M809.1,368.4h4.2M811.2,366.3v4.2M810.7,372.9h4.2M812.8,370.8v4.2M809.8,371.7h4.2M811.9,369.6v4.2M815.9,371.5h4.2M818.0,369.4v4.2M815.2,365.7h4.2M817.3,363.6v4.2M819.4,369.1h4.2M821.5,367.0v4.2M813.4,367.3h4.2M815.5,365.2v4.2M832.1,366.3h4.2M834.2,364.2v4.2M824.9,374.1h4.2M827.0,372.0v4.2M811.9,366.3h4.2M814.0,364.2v4.2M817.1,362.1h4.2M819.2,360.0v4.2M810.3,372.6h4.2M812.4,370.5v4.2M811.8,371.7h4.2M813.9,369.6v4.2M808.9,371.7h4.2M811.0,369.6v4.2M815.1,365.3h4.2M817.2,363.2v4.2M810.0,368.1h4.2M812.1,366.0v4.2M817.6,374.1h4.2M819.7,372.0v4.2M808.3,374.1h4.2M810.4,372.0v4.2M815.9,357.1h4.2M818.0,355.0v4.2M811.5,372.6h4.2M813.6,370.5v4.2M814.8,372.5h4.2M816.9,370.4v4.2M808.5,373.3h4.2M810.6,371.2v4.2M814.4,370.8h4.2M816.5,368.7v4.2M811.1,371.7h4.2M813.2,369.6v4.2M809.2,364.5h4.2M811.3,362.4v4.2M811.4,366.6h4.2M813.5,364.5v4.2M813.8,358.1h4.2M815.9,356.0v4.2M818.9,374.3h4.2M821.0,372.2v4.2M812.2,375.3h4.2M814.3,373.2v4.2M817.7,373.4h4.2M819.8,371.3v4.2M833.4,373.5h4.2M835.5,371.4v4.2M813.0,370.3h4.2M815.1,368.2v4.2M820.0,368.6h4.2M822.1,366.5v4.2M822.5,372.5h4.2M824.6,370.4v4.2M808.9,373.9h4.2M811.0,371.8v4.2M808.5,366.2h4.2M810.6,364.1v4.2M816.0,364.9h4.2M818.1,362.8v4.2M818.4,374.4h4.2M820.5,372.3v4.2M808.6,367.3h4.2M810.7,365.2v4.2M808.2,372.3h4.2M810.3,370.2v4.2M814.1,367.5h4.2M816.2,365.4v4.2M814.6,353.0h4.2M816.7,350.9v4.2M832.9,372.6h4.2M835.0,370.5v4.2M810.7,375.2h4.2M812.8,373.1v4.2M809.1,371.1h4.2M811.2,369.0v4.2M815.1,373.4h4.2M817.2,371.3v4.2M808.9,366.7h4.2M811.0,364.6v4.2M815.7,370.2h4.2M817.8,368.1v4.2M809.2,373.8h4.2M811.3,371.7v4.2M810.3,361.0h4.2M812.4,358.9v4.2M825.7,375.0h4.2M827.8,372.9v4.2M826.8,357.1h4.2M828.9,355.0v4.2M818.8,373.4h4.2M820.9,371.3v4.2M831.2,363.0h4.2M833.3,360.9v4.2M809.2,375.1h4.2M811.3,373.0v4.2M811.4,368.9h4.2M813.5,366.8v4.2M808.4,352.2h4.2M810.5,350.1v4.2M815.7,369.9h4.2M817.8,367.8v4.2M812.8,374.6h4.2M814.9,372.5v4.2M817.5,365.3h4.2M819.6,363.2v4.2M808.3,363.1h4.2M810.4,361.0v4.2M811.1,355.1h4.2M813.2,353.0v4.2M811.0,373.6h4.2M813.1,371.5v4.2M809.7,372.4h4.2M811.8,370.3v4.2M808.7,374.1h4.2M810.8,372.0v4.2M812.5,369.4h4.2M814.6,367.3v4.2M813.7,374.3h4.2M815.8,372.2v4.2M808.4,374.2h4.2M810.5,372.1v4.2M823.6,374.3h4.2M825.7,372.2v4.2M815.9,369.3h4.2M818.0,367.2v4.2M814.4,354.7h4.2M816.5,352.6v4.2M810.2,366.3h4.2M812.3,364.2v4.2M813.1,372.0h4.2M815.2,369.9v4.2M811.6,373.7h4.2M813.7,371.6v4.2M808.9,356.3h4.2M811.0,354.2v4.2M815.1,374.0h4.2M817.2,371.9v4.2M819.1,373.9h4.2M821.2,371.8v4.2M815.5,368.8h4.2M817.6,366.7v4.2M818.9,371.4h4.2M821.0,369.3v4.2M829.1,365.9h4.2M831.2,363.8v4.2M812.2,374.4h4.2M814.3,372.3v4.2M810.2,374.3h4.2M812.3,372.2v4.2M813.2,363.1h4.2M815.3,361.0v4.2M817.3,367.8h4.2M819.4,365.7v4.2M811.9,373.0h4.2M814.0,370.9v4.2M819.2,367.1h4.2M821.3,365.0v4.2M815.5,369.3h4.2M817.6,367.2v4.2M818.7,368.7h4.2M820.8,366.6v4.2M810.3,371.9h4.2M812.4,369.8v4.2M810.7,372.8h4.2M812.8,370.7v4.2M823.6,366.1h4.2M825.7,364.0v4.2M814.6,370.9h4.2M816.7,368.8v4.2M812.7,374.6h4.2M814.8,372.5v4.2M812.5,368.8h4.2M814.6,366.7v4.2M811.1,370.1h4.2M813.2,368.0v4.2M808.7,353.5h4.2M810.8,351.4v4.2M818.8,362.9h4.2M820.9,360.8v4.2M819.2,373.7h4.2M821.3,371.6v4.2M809.1,367.7h4.2M811.2,365.6v4.2M820.0,374.6h4.2M822.1,372.5v4.2M808.3,353.4h4.2M810.4,351.3v4.2M824.4,373.1h4.2M826.5,371.0v4.2M820.1,372.7h4.2M822.2,370.6v4.2M820.6,375.3h4.2M822.7,373.2v4.2M814.5,373.5h4.2M816.6,371.4v4.2M815.0,375.2h4.2M817.1,373.1v4.2M815.2,374.6h4.2M817.3,372.5v4.2M812.2,374.9h4.2M814.3,372.8v4.2M811.5,374.1h4.2M813.6,372.0v4.2M810.9,370.7h4.2M813.0,368.6v4.2M815.4,367.9h4.2M817.5,365.8v4.2M813.2,361.0h4.2M815.3,358.9v4.2M811.8,374.2h4.2M813.9,372.1v4.2M816.0,372.1h4.2M818.1,370.0v4.2M826.6,371.7h4.2M828.7,369.6v4.2M808.3,372.2h4.2M810.4,370.1v4.2M829.8,370.5h4.2M831.9,368.4v4.2M819.8,372.0h4.2M821.9,369.9v4.2M814.5,374.8h4.2M816.6,372.7v4.2M809.7,374.6h4.2M811.8,372.5v4.2M811.7,372.5h4.2M813.8,370.4v4.2M813.7,367.6h4.2M815.8,365.5v4.2M810.0,373.1h4.2M812.1,371.0v4.2M808.4,374.4h4.2M810.5,372.3v4.2M811.4,358.2h4.2M813.5,356.1v4.2M809.6,371.5h4.2M811.7,369.4v4.2M808.3,368.7h4.2M810.4,366.6v4.2M811.9,372.4h4.2M814.0,370.3v4.2M811.5,373.0h4.2M813.6,370.9v4.2M811.7,373.9h4.2M813.8,371.8v4.2M816.6,355.1h4.2M818.7,353.0v4.2M824.2,372.0h4.2M826.3,369.9v4.2M808.3,364.4h4.2M810.4,362.3v4.2M812.4,369.5h4.2M814.5,367.4v4.2M815.4,362.9h4.2M817.5,360.8v4.2M813.1,371.1h4.2M815.2,369.0v4.2M809.1,375.1h4.2M811.2,373.0v4.2M809.4,374.2h4.2M811.5,372.1v4.2M827.2,369.1h4.2M829.3,367.0v4.2M808.4,372.5h4.2M810.5,370.4v4.2M811.8,361.9h4.2M813.9,359.8v4.2M811.8,369.5h4.2M813.9,367.4v4.2M810.3,372.5h4.2M812.4,370.4v4.2M808.8,363.9h4.2M810.9,361.8v4.2M812.7,365.6h4.2M814.8,363.5v4.2M813.9,374.7h4.2M816.0,372.6v4.2M810.3,372.5h4.2M812.4,370.4v4.2M818.5,372.2h4.2M820.6,370.1v4.2M830.9,363.5h4.2M833.0,361.4v4.2M816.1,369.7h4.2M818.2,367.6v4.2M816.1,372.3h4.2M818.2,370.2v4.2M808.9,360.8h4.2M811.0,358.7v4.2M812.3,351.6h4.2M814.4,349.5v4.2M817.0,369.0h4.2M819.1,366.9v4.2M811.9,366.7h4.2M814.0,364.6v4.2M810.1,372.1h4.2M812.2,370.0v4.2M810.8,362.6h4.2M812.9,360.5v4.2M828.3,374.6h4.2M830.4,372.5v4.2M808.4,372.1h4.2M810.5,370.0v4.2M815.9,371.1h4.2M818.0,369.0v4.2M817.8,349.6h4.2M819.9,347.5v4.2M815.6,367.2h4.2M817.7,365.1v4.2M809.2,368.8h4.2M811.3,366.7v4.2M814.8,373.8h4.2M816.9,371.7v4.2M808.4,366.9h4.2M810.5,364.8v4.2M809.7,360.1h4.2M811.8,358.0v4.2M810.8,372.3h4.2M812.9,370.2v4.2M819.5,363.6h4.2M821.6,361.5v4.2M826.2,359.2h4.2M828.3,357.1v4.2M808.2,373.4h4.2M810.3,371.3v4.2M814.1,373.4h4.2M816.2,371.3v4.2M821.0,365.4h4.2M823.1,363.3v4.2M817.7,353.8h4.2M819.8,351.7v4.2M816.5,350.6h4.2M818.6,348.5v4.2M812.4,374.3h4.2M814.5,372.2v4.2M813.1,353.1h4.2M815.2,351.0v4.2M814.6,372.5h4.2M816.7,370.4v4.2M808.9,374.3h4.2M811.0,372.2v4.2M809.1,366.1h4.2M811.2,364.0v4.2M810.9,371.1h4.2M813.0,369.0v4.2M833.2,372.4h4.2M835.3,370.3v4.2M815.3,372.2h4.2M817.4,370.1v4.2M811.5,371.2h4.2M813.6,369.1v4.2M812.2,374.5h4.2M814.3,372.4v4.2M815.1,369.3h4.2M817.2,367.2v4.2M809.0,347.9h4.2M811.1,345.8v4.2M811.0,364.0h4.2M813.1,361.9v4.2M813.0,369.1h4.2M815.1,367.0v4.2M817.9,365.0h4.2M820.0,362.9v4.2M810.3,370.4h4.2M812.4,368.3v4.2M819.4,359.3h4.2M821.5,357.2v4.2M821.7,363.3h4.2M823.8,361.2v4.2M815.4,375.2h4.2M817.5,373.1v4.2M811.3,366.2h4.2M813.4,364.1v4.2M810.1,374.9h4.2M812.2,372.8v4.2M814.3,364.4h4.2M816.4,362.3v4.2M812.2,375.2h4.2M814.3,373.1v4.2M815.9,358.7h4.2M818.0,356.6v4.2M813.1,369.2h4.2M815.2,367.1v4.2M808.9,372.5h4.2M811.0,370.4v4.2M814.2,363.2h4.2M816.3,361.1v4.2M810.8,362.0h4.2M812.9,359.9v4.2M814.2,369.3h4.2M816.3,367.2v4.2M809.7,366.5h4.2M811.8,364.4v4.2M809.2,371.3h4.2M811.3,369.2v4.2M822.8,360.2h4.2M824.9,358.1v4.2M827.6,373.8h4.2M829.7,371.7v4.2M824.0,370.7h4.2M826.1,368.6v4.2M809.4,358.4h4.2M811.5,356.3v4.2M828.4,348.3h4.2M830.5,346.2v4.2M811.2,373.5h4.2M813.3,371.4v4.2M825.6,366.1h4.2M827.7,364.0v4.2M825.7,365.6h4.2M827.8,363.5v4.2M819.7,356.2h4.2M821.8,354.1v4.2M812.0,356.5h4.2M814.1,354.4v4.2M811.8,351.1h4.2M813.9,349.0v4.2M813.5,367.7h4.2M815.6,365.6v4.2M808.3,372.3h4.2M810.4,370.2v4.2M810.4,375.3h4.2M812.5,373.2v4.2M810.7,373.2h4.2M812.8,371.1v4.2M809.0,373.2h4.2M811.1,371.1v4.2M821.4,373.6h4.2M823.5,371.5v4.2M808.3,366.1h4.2M810.4,364.0v4.2M809.2,373.9h4.2M811.3,371.8v4.2M810.7,356.7h4.2M812.8,354.6v4.2M822.3,374.7h4.2M824.4,372.6v4.2M818.7,374.7h4.2M820.8,372.6v4.2M822.4,374.5h4.2M824.5,372.4v4.2M813.8,371.3h4.2M815.9,369.2v4.2M815.8,360.7h4.2M817.9,358.6v4.2M813.7,355.2h4.2M815.8,353.1v4.2M823.4,374.1h4.2M825.5,372.0v4.2M808.6,373.8h4.2M810.7,371.7v4.2M813.0,366.5h4.2M815.1,364.4v4.2M821.1,365.6h4.2M823.2,363.5v4.2M815.3,368.5h4.2M817.4,366.4v4.2M815.3,371.6h4.2M817.4,369.5v4.2M815.5,361.8h4.2M817.6,359.7v4.2M821.3,365.9h4.2M823.4,363.8v4.2M815.8,374.8h4.2M817.9,372.7v4.2M810.9,370.8h4.2M813.0,368.7v4.2M810.7,373.7h4.2M812.8,371.6v4.2M811.4,362.0h4.2M813.5,359.9v4.2M810.3,354.9h4.2M812.4,352.8v4.2M808.2,371.3h4.2M810.3,369.2v4.2M816.8,364.9h4.2M818.9,362.8v4.2M808.3,374.5h4.2M810.4,372.4v4.2M808.7,369.2h4.2M810.8,367.1v4.2M808.9,371.6h4.2M811.0,369.5v4.2M810.4,374.6h4.2M812.5,372.5v4.2M811.4,371.1h4.2M813.5,369.0v4.2M814.0,372.2h4.2M816.1,370.1v4.2M808.7,372.4h4.2M810.8,370.3v4.2M816.2,375.4h4.2M818.3,373.3v4.2M813.2,375.3h4.2M815.3,373.2v4.2M821.6,373.8h4.2M823.7,371.7v4.2M813.3,374.7h4.2M815.4,372.6v4.2M813.5,363.6h4.2M815.6,361.5v4.2M824.7,363.7h4.2M826.8,361.6v4.2M823.3,375.3h4.2M825.4,373.2v4.2M819.2,375.0h4.2M821.3,372.9v4.2M816.7,368.4h4.2M818.8,366.3v4.2M817.1,374.7h4.2M819.2,372.6v4.2M821.6,374.7h4.2M823.7,372.6v4.2M810.0,373.0h4.2M812.1,370.9v4.2M816.0,371.7h4.2M818.1,369.6v4.2M811.5,370.2h4.2M813.6,368.1v4.2M817.6,361.7h4.2M819.7,359.6v4.2M820.7,372.9h4.2M822.8,370.8v4.2M808.6,374.7h4.2M810.7,372.6v4.2M809.0,365.1h4.2M811.1,363.0v4.2M808.8,364.8h4.2M810.9,362.7v4.2M808.2,366.7h4.2M810.3,364.6v4.2M810.1,367.6h4.2M812.2,365.5v4.2M817.8,367.4h4.2M819.9,365.3v4.2M808.7,375.2h4.2M810.8,373.1v4.2M811.4,357.6h4.2M813.5,355.5v4.2M812.4,373.1h4.2M814.5,371.0v4.2M812.5,362.5h4.2M814.6,360.4v4.2M809.8,374.4h4.2M811.9,372.3v4.2M825.1,371.3h4.2M827.2,369.2v4.2M812.2,372.6h4.2M814.3,370.5v4.2M810.1,360.6h4.2M812.2,358.5v4.2M819.1,373.2h4.2M821.2,371.1v4.2M816.9,356.6h4.2M819.0,354.5v4.2M811.8,345.7h4.2M813.9,343.6v4.2M808.8,361.8h4.2M810.9,359.7v4.2M821.0,373.2h4.2M823.1,371.1v4.2M810.4,373.0h4.2M812.5,370.9v4.2M809.2,362.9h4.2M811.3,360.8v4.2M816.3,363.8h4.2M818.4,361.7v4.2M815.1,373.1h4.2M817.2,371.0v4.2M808.8,373.2h4.2M810.9,371.1v4.2M818.6,375.3h4.2M820.7,373.2v4.2M813.3,372.5h4.2M815.4,370.4v4.2M810.5,372.3h4.2M812.6,370.2v4.2M814.2,374.0h4.2M816.3,371.9v4.2M809.4,361.2h4.2M811.5,359.1v4.2M817.6,372.0h4.2M819.7,369.9v4.2M810.1,368.8h4.2M812.2,366.7v4.2M826.3,363.8h4.2M828.4,361.7v4.2M812.1,367.9h4.2M814.2,365.8v4.2M811.2,366.1h4.2M813.3,364.0v4.2M813.1,375.2h4.2M815.2,373.1v4.2M815.7,360.0h4.2M817.8,357.9v4.2M812.7,374.1h4.2M814.8,372.0v4.2M810.6,373.8h4.2M812.7,371.7v4.2M820.5,365.4h4.2M822.6,363.3v4.2M810.6,372.7h4.2M812.7,370.6v4.2M809.1,371.0h4.2M811.2,368.9v4.2M833.3,364.8h4.2M835.4,362.7v4.2M826.6,374.8h4.2M828.7,372.7v4.2M825.7,357.1h4.2M827.8,355.0v4.2M819.4,374.4h4.2M821.5,372.3v4.2M821.9,346.8h4.2M824.0,344.7v4.2M817.3,370.0h4.2M819.4,367.9v4.2M811.0,359.6h4.2M813.1,357.5v4.2M814.3,372.5h4.2M816.4,370.4v4.2M808.8,375.3h4.2M810.9,373.2v4.2M816.3,372.8h4.2M818.4,370.7v4.2M809.1,372.7h4.2M811.2,370.6v4.2M812.4,361.3h4.2M814.5,359.2v4.2M812.5,374.4h4.2M814.6,372.3v4.2M820.1,367.0h4.2M822.2,364.9v4.2M813.5,358.3h4.2M815.6,356.2v4.2M811.7,371.7h4.2M813.8,369.6v4.2M808.6,366.5h4.2M810.7,364.4v4.2M814.7,353.3h4.2M816.8,351.2v4.2M808.3,371.4h4.2M810.4,369.3v4.2M812.1,371.4h4.2M814.2,369.3v4.2M808.5,362.8h4.2M810.6,360.7v4.2M808.5,367.7h4.2M810.6,365.6v4.2M810.7,371.3h4.2M812.8,369.2v4.2M820.4,373.7h4.2M822.5,371.6v4.2M813.0,373.1h4.2M815.1,371.0v4.2M814.5,369.5h4.2M816.6,367.4v4.2M815.6,374.7h4.2M817.7,372.6v4.2M814.9,367.3h4.2M817.0,365.2v4.2M808.7,349.3h4.2M810.8,347.2v4.2M821.0,363.6h4.2M823.1,361.5v4.2M818.6,370.2h4.2M820.7,368.1v4.2M824.8,374.1h4.2M826.9,372.0v4.2M817.4,347.3h4.2M819.5,345.2v4.2M808.6,367.6h4.2M810.7,365.5v4.2M832.5,374.3h4.2M834.6,372.2v4.2M813.7,358.3h4.2M815.8,356.2v4.2M810.3,373.6h4.2M812.4,371.5v4.2M816.7,363.6h4.2M818.8,361.5v4.2M827.3,367.5h4.2M829.4,365.4v4.2M808.6,362.5h4.2M810.7,360.4v4.2M810.5,369.2h4.2M812.6,367.1v4.2M816.8,346.7h4.2M818.9,344.6v4.2M813.6,374.2h4.2M815.7,372.1v4.2M813.0,369.3h4.2M815.1,367.2v4.2M817.6,373.8h4.2M819.7,371.7v4.2M813.6,375.0h4.2M815.7,372.9v4.2M813.4,374.0h4.2M815.5,371.9v4.2M810.4,371.5h4.2M812.5,369.4v4.2M810.2,373.1h4.2M812.3,371.0v4.2M810.7,370.2h4.2M812.8,368.1v4.2M829.3,373.7h4.2M831.4,371.6v4.2M809.5,375.1h4.2M811.6,373.0v4.2M812.0,340.6h4.2M814.1,338.5v4.2M812.3,350.2h4.2M814.4,348.1v4.2M809.7,349.0h4.2M811.8,346.9v4.2M812.4,358.7h4.2M814.5,356.6v4.2M811.2,343.1h4.2M813.3,341.0v4.2M809.9,363.8h4.2M812.0,361.7v4.2M812.2,363.1h4.2M814.3,361.0v4.2M811.8,364.4h4.2M813.9,362.3v4.2M813.4,358.8h4.2M815.5,356.7v4.2M814.7,363.4h4.2M816.8,361.3v4.2M811.9,346.2h4.2M814.0,344.1v4.2M810.9,360.1h4.2M813.0,358.0v4.2M810.0,346.3h4.2M812.1,344.2v4.2M812.0,336.4h4.2M814.1,334.3v4.2M814.0,343.4h4.2M816.1,341.3v4.2M813.3,346.2h4.2M815.4,344.1v4.2M810.5,358.0h4.2M812.6,355.9v4.2M811.5,346.8h4.2M813.6,344.7v4.2M812.1,352.6h4.2M814.2,350.5v4.2M811.3,360.0h4.2M813.4,357.9v4.2M810.1,339.3h4.2M812.2,337.2v4.2M810.5,353.1h4.2M812.6,351.0v4.2M814.9,354.4h4.2M817.0,352.3v4.2M809.8,361.5h4.2M811.9,359.4v4.2M811.3,363.6h4.2M813.4,361.5v4.2M813.7,352.5h4.2M815.8,350.4v4.2M811.3,348.2h4.2M813.4,346.1v4.2M813.2,362.2h4.2M815.3,360.1v4.2M835.2,369.5h4.2M837.3,367.4v4.2M825.2,357.2h4.2M827.3,355.1v4.2M825.5,364.0h4.2M827.6,361.9v4.2M827.2,358.0h4.2M829.3,355.9v4.2M841.5,366.6h4.2M843.6,364.5v4.2M823.8,351.0h4.2M825.9,348.9v4.2M819.9,355.4h4.2M822.0,353.3v4.2M817.1,357.4h4.2M819.2,355.3v4.2M829.5,357.3h4.2M831.6,355.2v4.2M838.0,365.3h4.2M840.1,363.2v4.2M826.7,372.2h4.2M828.8,370.1v4.2M820.8,363.3h4.2M822.9,361.2v4.2M817.3,356.6h4.2M819.4,354.5v4.2M858.7,339.7h4.2M860.8,337.6v4.2M848.9,372.0h4.2M851.0,369.9v4.2M822.8,350.2h4.2M824.9,348.1v4.2M839.9,354.7h4.2M842.0,352.6v4.2M826.6,370.6h4.2M828.7,368.5v4.2M819.6,366.2h4.2M821.7,364.1v4.2M854.7,352.5h4.2M856.8,350.4v4.2M839.7,342.9h4.2M841.8,340.8v4.2M817.5,341.5h4.2M819.6,339.4v4.2M823.9,373.5h4.2M826.0,371.4v4.2M829.7,347.0h4.2M831.8,344.9v4.2M823.1,362.6h4.2M825.2,360.5v4.2M828.2,370.0h4.2M830.3,367.9v4.2M834.3,372.5h4.2M836.4,370.4v4.2M818.0,354.6h4.2M820.1,352.5v4.2M818.5,374.1h4.2M820.6,372.0v4.2M829.6,344.4h4.2M831.7,342.3v4.2M830.7,358.9h4.2M832.8,356.8v4.2M849.4,353.3h4.2M851.5,351.2v4.2M840.3,361.5h4.2M842.4,359.4v4.2M826.0,348.2h4.2M828.1,346.1v4.2M821.3,369.8h4.2M823.4,367.7v4.2M853.5,373.2h4.2M855.6,371.1v4.2M832.0,349.3h4.2M834.1,347.2v4.2M852.4,362.7h4.2M854.5,360.6v4.2M826.5,365.0h4.2M828.6,362.9v4.2M830.4,355.9h4.2M832.5,353.8v4.2M835.6,370.1h4.2M837.7,368.0v4.2M855.8,343.7h4.2M857.9,341.6v4.2M843.8,372.5h4.2M845.9,370.4v4.2M818.5,341.9h4.2M820.6,339.8v4.2M820.1,374.6h4.2M822.2,372.5v4.2M844.1,361.1h4.2M846.2,359.0v4.2M821.8,359.3h4.2M823.9,357.2v4.2M818.1,370.8h4.2M820.2,368.7v4.2M842.7,370.9h4.2M844.8,368.8v4.2M819.7,355.8h4.2M821.8,353.7v4.2M820.1,356.8h4.2M822.2,354.7v4.2M833.6,354.2h4.2M835.7,352.1v4.2M819.5,362.1h4.2M821.6,360.0v4.2M819.9,365.4h4.2M822.0,363.3v4.2M854.9,357.3h4.2M857.0,355.2v4.2M863.1,355.6h4.2M865.2,353.5v4.2M844.2,346.9h4.2M846.3,344.8v4.2M834.3,337.8h4.2M836.4,335.7v4.2M818.4,355.2h4.2M820.5,353.1v4.2M831.1,371.5h4.2M833.2,369.4v4.2M835.5,349.2h4.2M837.6,347.1v4.2M823.9,371.5h4.2M826.0,369.4v4.2M854.6,370.3h4.2M856.7,368.2v4.2M848.6,372.7h4.2M850.7,370.6v4.2M825.7,344.6h4.2M827.8,342.5v4.2M849.2,350.0h4.2M851.3,347.9v4.2M839.1,365.1h4.2M841.2,363.0v4.2M832.7,339.4h4.2M834.8,337.3v4.2M835.7,344.4h4.2M837.8,342.3v4.2M837.6,352.6h4.2M839.7,350.5v4.2M826.1,364.1h4.2M828.2,362.0v4.2M836.9,352.4h4.2M839.0,350.3v4.2M826.4,354.1h4.2M828.5,352.0v4.2M850.6,366.7h4.2M852.7,364.6v4.2M840.2,355.0h4.2M842.3,352.9v4.2M819.8,374.3h4.2M821.9,372.2v4.2M839.7,349.1h4.2M841.8,347.0v4.2M852.6,360.3h4.2M854.7,358.2v4.2M860.2,340.1h4.2M862.3,338.0v4.2M829.9,372.8h4.2M832.0,370.7v4.2M819.9,346.7h4.2M822.0,344.6v4.2M844.6,371.2h4.2M846.7,369.1v4.2M849.8,357.3h4.2M851.9,355.2v4.2M821.1,351.0h4.2M823.2,348.9v4.2M839.3,359.1h4.2M841.4,357.0v4.2M819.7,369.4h4.2M821.8,367.3v4.2M829.3,352.7h4.2M831.4,350.6v4.2M844.7,363.7h4.2M846.8,361.6v4.2M817.3,365.6h4.2M819.4,363.5v4.2M834.2,368.9h4.2M836.3,366.8v4.2M849.8,345.9h4.2M851.9,343.8v4.2M817.7,361.4h4.2M819.8,359.3v4.2M827.6,358.1h4.2M829.7,356.0v4.2M836.5,354.4h4.2M838.6,352.3v4.2M822.7,363.5h4.2M824.8,361.4v4.2M818.5,363.9h4.2M820.6,361.8v4.2M855.1,373.9h4.2M857.2,371.8v4.2M847.4,374.8h4.2M849.5,372.7v4.2M828.5,347.1h4.2M830.6,345.0v4.2M847.0,344.1h4.2M849.1,342.0v4.2M821.1,337.6h4.2M823.2,335.5v4.2M824.5,339.9h4.2M826.6,337.8v4.2M825.0,366.2h4.2M827.1,364.1v4.2M831.6,356.6h4.2M833.7,354.5v4.2M831.2,374.8h4.2M833.3,372.7v4.2M817.8,345.3h4.2M819.9,343.2v4.2M821.3,361.2h4.2M823.4,359.1v4.2M822.7,356.6h4.2M824.8,354.5v4.2M837.9,369.8h4.2M840.0,367.7v4.2M862.4,371.7h4.2M864.5,369.6v4.2M828.2,365.0h4.2M830.3,362.9v4.2M818.0,358.4h4.2M820.1,356.3v4.2M840.6,339.8h4.2M842.7,337.7v4.2M818.7,358.4h4.2M820.8,356.3v4.2M818.2,359.6h4.2M820.3,357.5v4.2M830.0,339.6h4.2M832.1,337.5v4.2M822.2,342.3h4.2M824.3,340.2v4.2M840.7,371.0h4.2M842.8,368.9v4.2M863.6,366.6h4.2M865.7,364.5v4.2M825.8,371.5h4.2M827.9,369.4v4.2M819.6,353.5h4.2M821.7,351.4v4.2M827.1,367.9h4.2M829.2,365.8v4.2M818.7,362.5h4.2M820.8,360.4v4.2M843.8,368.6h4.2M845.9,366.5v4.2M848.7,373.3h4.2M850.8,371.2v4.2M829.2,372.3h4.2M831.3,370.2v4.2M845.4,352.2h4.2M847.5,350.1v4.2M849.7,362.5h4.2M851.8,360.4v4.2M822.1,347.2h4.2M824.2,345.1v4.2M824.5,356.3h4.2M826.6,354.2v4.2M820.5,358.1h4.2M822.6,356.0v4.2M855.4,372.9h4.2M857.5,370.8v4.2M843.5,332.5h4.2M845.6,330.4v4.2M843.1,350.0h4.2M845.2,347.9v4.2M856.2,350.9h4.2M858.3,348.8v4.2M832.9,355.1h4.2M835.0,353.0v4.2M846.4,337.5h4.2M848.5,335.4v4.2M852.0,352.4h4.2M854.1,350.3v4.2M840.9,356.6h4.2M843.0,354.5v4.2M857.9,342.5h4.2M860.0,340.4v4.2M856.9,351.2h4.2M859.0,349.1v4.2M833.1,344.8h4.2M835.2,342.7v4.2M855.4,335.8h4.2M857.5,333.7v4.2M833.6,353.3h4.2M835.7,351.2v4.2M833.1,340.9h4.2M835.2,338.8v4.2M855.1,344.1h4.2M857.2,342.0v4.2M856.0,343.8h4.2M858.1,341.7v4.2M831.3,353.9h4.2M833.4,351.8v4.2M853.3,344.6h4.2M855.4,342.5v4.2M834.7,353.2h4.2M836.8,351.1v4.2M835.4,344.1h4.2M837.5,342.0v4.2M842.7,344.2h4.2M844.8,342.1v4.2M833.0,335.5h4.2M835.1,333.4v4.2M831.5,337.2h4.2M833.6,335.1v4.2M834.4,339.3h4.2M836.5,337.2v4.2M858.4,342.7h4.2M860.5,340.6v4.2M851.8,343.8h4.2M853.9,341.7v4.2M835.8,340.5h4.2M837.9,338.4v4.2M849.3,342.1h4.2M851.4,340.0v4.2M834.1,354.6h4.2M836.2,352.5v4.2M839.4,346.0h4.2M841.5,343.9v4.2M848.4,356.4h4.2M850.5,354.3v4.2M857.0,344.9h4.2M859.1,342.8v4.2M834.0,332.5h4.2M836.1,330.4v4.2M854.8,333.8h4.2M856.9,331.7v4.2M840.4,305.9h4.2M842.5,303.8v4.2M850.2,312.5h4.2M852.3,310.4v4.2M864.3,309.8h4.2M866.4,307.7v4.2M854.4,317.9h4.2M856.5,315.8v4.2M820.8,317.1h4.2M822.9,315.0v4.2M868.3,315.9h4.2M870.4,313.8v4.2M871.3,316.7h4.2M873.4,314.6v4.2M869.2,319.6h4.2M871.3,317.5v4.2M824.2,325.8h4.2M826.3,323.7v4.2M839.7,324.2h4.2M841.8,322.1v4.2M846.0,325.4h4.2M848.1,323.3v4.2M851.5,322.1h4.2M853.6,320.0v4.2M813.5,324.2h4.2M815.6,322.1v4.2M816.6,324.2h4.2M818.7,322.1v4.2M811.4,329.6h4.2M813.5,327.5v4.2M812.0,331.3h4.2M814.1,329.2v4.2M900.7,338.8h4.2M902.8,336.7v4.2M904.9,352.9h4.2M907.0,350.8v4.2M891.2,354.2h4.2M893.3,352.1v4.2M888.1,359.2h4.2M890.2,357.1v4.2M882.8,347.1h4.2M884.9,345.0v4.2M877.6,330.4h4.2M879.7,328.3v4.2M871.3,330.4h4.2M873.4,328.3v4.2M870.4,332.9h4.2M872.5,330.8v4.2M866.0,330.4h4.2M868.1,328.3v4.2M860.7,331.3h4.2M862.8,329.2v4.2M879.7,337.5h4.2M881.8,335.4v4.2M880.9,339.2h4.2M883.0,337.1v4.2M873.4,337.9h4.2M875.5,335.8v4.2M869.2,336.7h4.2M871.3,334.6v4.2M878.6,354.2h4.2M880.7,352.1v4.2M872.3,360.8h4.2M874.4,358.7v4.2M882.8,365.0h4.2M884.9,362.9v4.2M877.6,362.5h4.2M879.7,360.4v4.2M874.4,372.9h4.2M876.5,370.8v4.2M872.3,369.2h4.2M874.4,367.1v4.2M867.1,346.3h4.2M869.2,344.2v4.2M862.9,343.1h4.2M865.0,341.0v4.2M858.6,347.9h4.2M860.7,345.8v4.2M865.0,350.4h4.2M867.1,348.3v4.2M870.2,355.6h4.2M872.3,353.5v4.2M863.9,356.7h4.2M866.0,354.6v4.2M861.8,361.9h4.2M863.9,359.8v4.2M868.1,362.9h4.2M870.2,360.8v4.2M859.7,368.7h4.2M861.8,366.6v4.2M855.5,373.3h4.2M857.6,371.2v4.2M865.0,358.7h4.2M867.1,356.6v4.2M856.5,339.0h4.2M858.6,336.9v4.2M852.3,334.8h4.2M854.4,332.7v4.2M848.1,331.7h4.2M850.2,329.6v4.2M845.0,329.6h4.2M847.1,327.5v4.2M841.8,332.7h4.2M843.9,330.6v4.2M833.4,331.7h4.2M835.5,329.6v4.2M829.2,334.8h4.2M831.3,332.7v4.2M825.0,336.9h4.2M827.1,334.8v4.2M821.9,339.0h4.2M824.0,336.9v4.2M818.7,335.8h4.2M820.8,333.7v4.2M836.6,336.9h4.2M838.7,334.8v4.2M854.4,347.1h4.2M856.5,345.0v4.2M850.2,346.3h4.2M852.3,344.2v4.2M856.5,355.6h4.2M858.6,353.5v4.2M853.4,362.9h4.2M855.5,360.8v4.2" stroke="#000" stroke-width=".8" fill="none"/>
<line x1="810.3" y1="375.4" x2="915.4" y2="271.3" stroke="#000" stroke-width=".9"/>
<path d="M810.30,375.4v3.6M810.3,375.40h-3.6M814.50,375.4v2.0M810.3,371.24h-2.0M818.71,375.4v2.0M810.3,367.07h-2.0M822.91,375.4v2.0M810.3,362.91h-2.0M827.12,375.4v2.0M810.3,358.74h-2.0M831.32,375.4v3.6M810.3,354.58h-3.6M835.52,375.4v2.0M810.3,350.42h-2.0M839.73,375.4v2.0M810.3,346.25h-2.0M843.93,375.4v2.0M810.3,342.09h-2.0M848.14,375.4v2.0M810.3,337.92h-2.0M852.34,375.4v3.6M810.3,333.76h-3.6M856.54,375.4v2.0M810.3,329.60h-2.0M860.75,375.4v2.0M810.3,325.43h-2.0M864.95,375.4v2.0M810.3,321.27h-2.0M869.16,375.4v2.0M810.3,317.10h-2.0M873.36,375.4v3.6M810.3,312.94h-3.6M877.56,375.4v2.0M810.3,308.78h-2.0M881.77,375.4v2.0M810.3,304.61h-2.0M885.97,375.4v2.0M810.3,300.45h-2.0M890.18,375.4v2.0M810.3,296.28h-2.0M894.38,375.4v3.6M810.3,292.12h-3.6M898.58,375.4v2.0M810.3,287.96h-2.0M902.79,375.4v2.0M810.3,283.79h-2.0M906.99,375.4v2.0M810.3,279.63h-2.0M911.20,375.4v2.0M810.3,275.46h-2.0M915.40,375.4v3.6M810.3,271.30h-3.6" stroke="#000" stroke-width=".8" fill="none"/>
<text x="810.3" y="388.5" font-size="8.7" text-anchor="middle" textLength="4.6" lengthAdjust="spacingAndGlyphs" xml:space="preserve">0</text>
<text x="803.6999999999999" y="378.3" font-size="8.7" text-anchor="end" textLength="4.6" lengthAdjust="spacingAndGlyphs" xml:space="preserve">0</text>
<text x="831.3" y="388.5" font-size="8.7" text-anchor="middle" textLength="9.4" lengthAdjust="spacingAndGlyphs" xml:space="preserve">10</text>
<text x="803.6999999999999" y="357.5" font-size="8.7" text-anchor="end" textLength="9.4" lengthAdjust="spacingAndGlyphs" xml:space="preserve">10</text>
<text x="852.3" y="388.5" font-size="8.7" text-anchor="middle" textLength="9.4" lengthAdjust="spacingAndGlyphs" xml:space="preserve">20</text>
<text x="803.6999999999999" y="336.7" font-size="8.7" text-anchor="end" textLength="9.4" lengthAdjust="spacingAndGlyphs" xml:space="preserve">20</text>
<text x="873.4" y="388.5" font-size="8.7" text-anchor="middle" textLength="9.4" lengthAdjust="spacingAndGlyphs" xml:space="preserve">30</text>
<text x="803.6999999999999" y="315.8" font-size="8.7" text-anchor="end" textLength="9.4" lengthAdjust="spacingAndGlyphs" xml:space="preserve">30</text>
<text x="894.4" y="388.5" font-size="8.7" text-anchor="middle" textLength="9.4" lengthAdjust="spacingAndGlyphs" xml:space="preserve">40</text>
<text x="803.6999999999999" y="295.0" font-size="8.7" text-anchor="end" textLength="9.4" lengthAdjust="spacingAndGlyphs" xml:space="preserve">40</text>
<text x="915.4" y="388.5" font-size="8.7" text-anchor="middle" textLength="9.4" lengthAdjust="spacingAndGlyphs" xml:space="preserve">50</text>
<text x="803.6999999999999" y="274.2" font-size="8.7" text-anchor="end" textLength="9.4" lengthAdjust="spacingAndGlyphs" xml:space="preserve">50</text>
<rect x="810.3" y="271.3" width="105.1" height="104.1" fill="none" stroke="#000" stroke-width="1"/>
<text x="861.5" y="398.6" font-size="10" text-anchor="middle" xml:space="preserve">ANALYSIS</text>
<text x="790.8" y="325.5" font-size="10" text-anchor="middle" transform="rotate(-90 790.8 325.5)" xml:space="preserve">IMERG_NRT</text>
<rect x="555.5" y="31.5" width="383.0" height="382.8" fill="none" stroke="#000" stroke-width="1.1"/>
<rect x="971.8" y="377.22" width="22.2" height="36.78" fill="#ffeabd"/>
<rect x="971.8" y="340.74" width="22.2" height="36.78" fill="#dcfec9"/>
<rect x="971.8" y="304.26" width="22.2" height="36.78" fill="#97fc97"/>
<rect x="971.8" y="267.78" width="22.2" height="36.78" fill="#64fcff"/>
<rect x="971.8" y="231.30" width="22.2" height="36.78" fill="#00c3ff"/>
<rect x="971.8" y="194.82" width="22.2" height="36.78" fill="#0063ff"/>
<rect x="971.8" y="158.34" width="22.2" height="36.78" fill="#9565ff"/>
<rect x="971.8" y="121.86" width="22.2" height="36.78" fill="#e165ff"/>
<rect x="971.8" y="85.38" width="22.2" height="36.78" fill="#ff00ff"/>
<rect x="971.8" y="48.90" width="22.2" height="36.78" fill="#d09840"/>
<path d="M971.8,48.9 L982.9,30.2 L994.0,48.9Z" fill="#000"/>
<path d="M971.8,48.9 V413.7 H994.0 V48.9" fill="none" stroke="#000" stroke-opacity=".75" stroke-width=".7"/>
<line x1="994.0" y1="414.20" x2="998.4" y2="414.20" stroke="#000" stroke-width=".9"/>
<text x="1001.2" y="418.5" font-size="11.4" textLength="6.97" lengthAdjust="spacingAndGlyphs" xml:space="preserve">0</text>
<line x1="994.0" y1="377.72" x2="998.4" y2="377.72" stroke="#000" stroke-width=".9"/>
<text x="1001.2" y="382.0" font-size="11.4" textLength="6.97" lengthAdjust="spacingAndGlyphs" xml:space="preserve">1</text>
<line x1="994.0" y1="341.24" x2="998.4" y2="341.24" stroke="#000" stroke-width=".9"/>
<text x="1001.2" y="345.5" font-size="11.4" textLength="6.97" lengthAdjust="spacingAndGlyphs" xml:space="preserve">2</text>
<line x1="994.0" y1="304.76" x2="998.4" y2="304.76" stroke="#000" stroke-width=".9"/>
<text x="1001.2" y="309.1" font-size="11.4" textLength="6.97" lengthAdjust="spacingAndGlyphs" xml:space="preserve">5</text>
<line x1="994.0" y1="268.28" x2="998.4" y2="268.28" stroke="#000" stroke-width=".9"/>
<text x="1001.2" y="272.6" font-size="11.4" textLength="13.94" lengthAdjust="spacingAndGlyphs" xml:space="preserve">10</text>
<line x1="994.0" y1="231.80" x2="998.4" y2="231.80" stroke="#000" stroke-width=".9"/>
<text x="1001.2" y="236.1" font-size="11.4" textLength="13.94" lengthAdjust="spacingAndGlyphs" xml:space="preserve">20</text>
<line x1="994.0" y1="195.32" x2="998.4" y2="195.32" stroke="#000" stroke-width=".9"/>
<text x="1001.2" y="199.6" font-size="11.4" textLength="13.94" lengthAdjust="spacingAndGlyphs" xml:space="preserve">50</text>
<line x1="994.0" y1="158.84" x2="998.4" y2="158.84" stroke="#000" stroke-width=".9"/>
<text x="1001.2" y="163.1" font-size="11.4" textLength="20.91" lengthAdjust="spacingAndGlyphs" xml:space="preserve">100</text>
<line x1="994.0" y1="122.36" x2="998.4" y2="122.36" stroke="#000" stroke-width=".9"/>
<text x="1001.2" y="126.7" font-size="11.4" textLength="20.91" lengthAdjust="spacingAndGlyphs" xml:space="preserve">150</text>
<line x1="994.0" y1="85.88" x2="998.4" y2="85.88" stroke="#000" stroke-width=".9"/>
<text x="1001.2" y="90.2" font-size="11.4" textLength="20.91" lengthAdjust="spacingAndGlyphs" xml:space="preserve">200</text>
<line x1="994.0" y1="49.40" x2="998.4" y2="49.40" stroke="#000" stroke-width=".9"/>
<text x="1001.2" y="53.7" font-size="11.4" textLength="20.91" lengthAdjust="spacingAndGlyphs" xml:space="preserve">300</text>
<text x="140.5" y="447.0" font-size="10" text-anchor="middle" xml:space="preserve">Daily fraction by occurence</text>
<rect class="bar" x="74.3" y="452.2" width="79.20" height="18.20" fill="#ffeabd"/>
<rect class="bar" x="153.5" y="452.2" width="14.90" height="18.20" fill="#dcfec9"/>
<rect class="bar" x="168.4" y="452.2" width="21.10" height="18.20" fill="#97fc97"/>
<rect class="bar" x="189.5" y="452.2" width="10.90" height="18.20" fill="#64fcff"/>
<rect class="bar" x="200.4" y="452.2" width="5.90" height="18.20" fill="#00c3ff"/>
<rect class="bar" x="206.3" y="452.2" width="1.00" height="18.20" fill="#0063ff"/>
<rect class="bar" x="207.3" y="452.2" width="0.40" height="18.20" fill="#9565ff"/>
<rect class="bar" x="74.3" y="479.2" width="86.40" height="18.30" fill="#ffeabd"/>
<rect class="bar" x="160.7" y="479.2" width="14.80" height="18.30" fill="#dcfec9"/>
<rect class="bar" x="175.5" y="479.2" width="14.00" height="18.30" fill="#97fc97"/>
<rect class="bar" x="189.5" y="479.2" width="8.00" height="18.30" fill="#64fcff"/>
<rect class="bar" x="197.5" y="479.2" width="5.60" height="18.30" fill="#00c3ff"/>
<rect class="bar" x="203.1" y="479.2" width="4.60" height="18.30" fill="#0063ff"/>
<path class="cn" d="M153.5,470.4L160.7,479.2M168.4,470.4L175.5,479.2M189.5,470.4L189.5,479.2M200.4,470.4L197.5,479.2M206.3,470.4L203.1,479.2M74.3,470.4V479.2M207.7,470.4V479.2"/>
<text x="47.4" y="465.8" font-size="10" xml:space="preserve">Est</text>
<text x="47.9" y="492.7" font-size="10" xml:space="preserve">Obs</text>
<text x="58.5" y="509.8" font-size="10" xml:space="preserve">0%</text>
<text x="135.6" y="509.8" font-size="10" text-anchor="middle" xml:space="preserve">Areal fraction</text>
<text x="195.2" y="509.8" font-size="10" xml:space="preserve">100%</text>
<text x="140.5" y="527.8" font-size="10" text-anchor="middle" xml:space="preserve">Daily fraction of total rain</text>
<rect class="bar" x="74.3" y="533.5" width="7.00" height="17.60" fill="#ffeabd"/>
<rect class="bar" x="81.3" y="533.5" width="10.10" height="17.60" fill="#dcfec9"/>
<rect class="bar" x="91.4" y="533.5" width="28.10" height="17.60" fill="#97fc97"/>
<rect class="bar" x="119.5" y="533.5" width="31.00" height="17.60" fill="#64fcff"/>
<rect class="bar" x="150.5" y="533.5" width="32.90" height="17.60" fill="#00c3ff"/>
<rect class="bar" x="183.4" y="533.5" width="11.80" height="17.60" fill="#0063ff"/>
<rect class="bar" x="195.2" y="533.5" width="0.40" height="17.60" fill="#9565ff"/>
<rect class="bar" x="74.3" y="560.4" width="7.00" height="18.10" fill="#ffeabd"/>
<rect class="bar" x="81.3" y="560.4" width="9.20" height="18.10" fill="#dcfec9"/>
<rect class="bar" x="90.5" y="560.4" width="18.80" height="18.10" fill="#97fc97"/>
<rect class="bar" x="109.3" y="560.4" width="24.30" height="18.10" fill="#64fcff"/>
<rect class="bar" x="133.6" y="560.4" width="35.70" height="18.10" fill="#00c3ff"/>
<rect class="bar" x="169.3" y="560.4" width="37.90" height="18.10" fill="#0063ff"/>
<path class="cn" d="M81.3,551.1L81.3,560.4M91.4,551.1L90.5,560.4M119.5,551.1L109.3,560.4M150.5,551.1L133.6,560.4M183.4,551.1L169.3,560.4M74.3,551.1V560.4"/>
<path d="M195.4,551.1L207.2,560.4" stroke="#000" stroke-width="1.5" fill="none"/>
<text x="47.4" y="546.7" font-size="10" xml:space="preserve">Est</text>
<text x="47.9" y="573.6" font-size="10" xml:space="preserve">Obs</text>
<text x="140.7" y="590.0" font-size="10" text-anchor="middle" xml:space="preserve">Rainfall accumulation by amount</text>
<path d="M277.6,478.6H401.4V573.3H277.6ZM339.6,478.6V573.3M277.6,526.4H401.4" fill="none" stroke="#000" stroke-width="1"/>
<text x="339.2" y="455.1" font-size="10" text-anchor="middle" xml:space="preserve">IMERG_NRT</text>
<text x="308.4" y="469.8" font-size="10" text-anchor="middle" xml:space="preserve">&lt;1</text>
<text x="370.0" y="469.8" font-size="10" text-anchor="middle" xml:space="preserve">≥1</text>
<text x="260.6" y="505.6" font-size="10" text-anchor="middle" xml:space="preserve">&lt;1</text>
<text x="260.6" y="553.2" font-size="10" text-anchor="middle" xml:space="preserve">≥1</text>
<text x="246.2" y="520.2" font-size="10" text-anchor="middle" transform="rotate(-90 246.2 520.2)" xml:space="preserve">ANALYSIS</text>
<text x="307.3" y="506.1" font-size="10" text-anchor="middle" xml:space="preserve">1486</text>
<text x="369.7" y="506.1" font-size="10" text-anchor="middle" xml:space="preserve">489</text>
<text x="308.0" y="553.2" font-size="10" text-anchor="middle" xml:space="preserve">335</text>
<text x="370.8" y="553.2" font-size="10" text-anchor="middle" xml:space="preserve">747</text>
<text x="459.7" y="453.8" font-size="10" textLength="385.9" lengthAdjust="spacingAndGlyphs" xml:space="preserve">Validation statistics for 20250928  n=3057 Valid. grid=0.25° Units=mm/day.</text>
<path d="M457,457.4H996.8M457,480.4H758.2" stroke="#000" stroke-width=".85" stroke-dasharray="4.05 1.35" fill="none"/>
<text x="609.1" y="475.1" font-size="10" xml:space="preserve">ANALYSIS</text>
<text x="685.6" y="475.1" font-size="10" xml:space="preserve">IMERG_NRT</text>
<text x="460.1" y="499.1" font-size="10" xml:space="preserve">Num of gridpoints raining</text>
<text x="649.1" y="499.1" font-size="10" text-anchor="end" xml:space="preserve">1082</text>
<text x="730.0" y="499.1" font-size="10" text-anchor="end" xml:space="preserve">1236</text>
<text x="460.1" y="518.8" font-size="10" xml:space="preserve">Average rain</text>
<text x="649.1" y="518.8" font-size="10" text-anchor="end" xml:space="preserve">2.4</text>
<text x="730.0" y="518.8" font-size="10" text-anchor="end" xml:space="preserve">2.2</text>
<text x="460.1" y="538.6" font-size="10" xml:space="preserve">Conditional rain</text>
<text x="649.1" y="538.6" font-size="10" text-anchor="end" xml:space="preserve">6.8</text>
<text x="730.0" y="538.6" font-size="10" text-anchor="end" xml:space="preserve">5.4</text>
<text x="461.3" y="558.8" font-size="10">Rain volume (mm km<tspan font-size="6.6" dy="-3.9">2</tspan><tspan dy="3.9">10</tspan><tspan font-size="6.6" dy="-3.9">6</tspan><tspan dy="3.9">)</tspan></text>
<text x="649.1" y="558.8" font-size="10" text-anchor="end" xml:space="preserve">4.6</text>
<text x="730.0" y="558.8" font-size="10" text-anchor="end" xml:space="preserve">4.2</text>
<text x="460.1" y="578.2" font-size="10" xml:space="preserve">Maximum rain</text>
<text x="649.1" y="578.2" font-size="10" text-anchor="end" xml:space="preserve">45.9</text>
<text x="730.0" y="578.2" font-size="10" text-anchor="end" xml:space="preserve">33.3</text>
<text x="784.4" y="471.8" font-size="10" xml:space="preserve">Mean abs error =    1.9</text>
<text x="784.4" y="488.8" font-size="10" xml:space="preserve">RMS error =    4.0</text>
<text x="784.4" y="505.8" font-size="10" xml:space="preserve">Correlation coeff =  0.647</text>
<text x="784.4" y="522.8" font-size="10" xml:space="preserve">Frequency bias =  1.142</text>
<text x="784.4" y="539.8" font-size="10" xml:space="preserve">Probability of detection =  0.690</text>
<text x="784.4" y="556.8" font-size="10" xml:space="preserve">False alarm ratio =  0.396</text>
<text x="784.4" y="573.8" font-size="10" xml:space="preserve">Hanssen &amp; Kuipers score =  0.443</text>
<text x="784.4" y="590.8" font-size="10" xml:space="preserve">Equitable threat score =  0.273</text>
</svg></body></html>
